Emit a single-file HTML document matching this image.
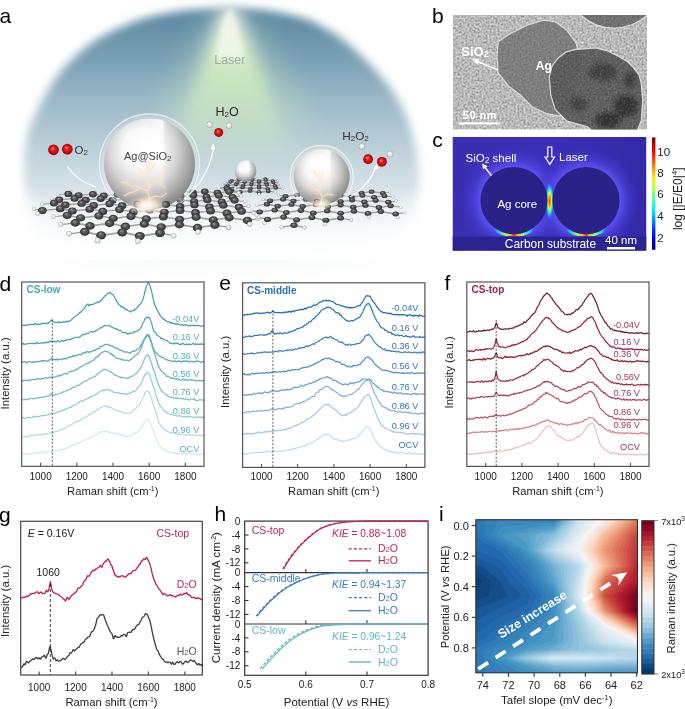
<!DOCTYPE html>
<html><head><meta charset="utf-8"><style>html,body{margin:0;padding:0;background:#fff;overflow:hidden;}svg{display:block;will-change:transform;}text{font-family:"Liberation Sans",sans-serif;}</style></head><body>
<svg width="685" height="709" viewBox="0 0 685 709">
<defs><linearGradient id="domeg" x1="0" y1="0" x2="0" y2="1" gradientUnits="objectBoundingBox"><stop offset="0" stop-color="#4c7f98"/><stop offset="0.026" stop-color="#5b89a1"/><stop offset="0.116" stop-color="#6e96ab"/><stop offset="0.19" stop-color="#7aa0b4"/><stop offset="0.26" stop-color="#8aabbd"/><stop offset="0.33" stop-color="#9ab8c6"/><stop offset="0.405" stop-color="#a9c2ce"/><stop offset="0.51" stop-color="#bdd0d9"/><stop offset="0.62" stop-color="#d0dee4"/><stop offset="0.73" stop-color="#e2eaee"/><stop offset="0.84" stop-color="#f0f4f6"/><stop offset="1" stop-color="#ffffff"/></linearGradient><filter id="domeblur" x="-10%" y="-10%" width="120%" height="120%"><feGaussianBlur stdDeviation="5"/></filter><filter id="laserblur" x="-50%" y="-10%" width="200%" height="120%"><feGaussianBlur stdDeviation="7.5"/></filter><filter id="laserblur2" x="-50%" y="-10%" width="200%" height="120%"><feGaussianBlur stdDeviation="14"/></filter><filter id="sblur" x="-20%" y="-20%" width="140%" height="140%"><feGaussianBlur stdDeviation="1.2"/></filter><filter id="glowblur" x="-50%" y="-50%" width="200%" height="200%"><feGaussianBlur stdDeviation="2.5"/></filter><linearGradient id="laserg" x1="0" y1="0" x2="0" y2="1"><stop offset="0" stop-color="#ffffff" stop-opacity="0.95"/><stop offset="0.12" stop-color="#f2f8e4" stop-opacity="0.95"/><stop offset="0.35" stop-color="#d4efc2" stop-opacity="0.92"/><stop offset="0.7" stop-color="#cfeac2" stop-opacity="0.6"/><stop offset="1" stop-color="#d5eed0" stop-opacity="0"/></linearGradient><radialGradient id="silver" cx="0.45" cy="0.4" r="0.62" fx="0.42" fy="0.3"><stop offset="0" stop-color="#ffffff"/><stop offset="0.35" stop-color="#f8f8f8"/><stop offset="0.62" stop-color="#d4d4d4"/><stop offset="0.82" stop-color="#aaaaaa"/><stop offset="1" stop-color="#828282"/></radialGradient><linearGradient id="silverstreak" x1="0" y1="0" x2="1" y2="0"><stop offset="0" stop-color="#ffffff" stop-opacity="0"/><stop offset="0.4" stop-color="#ffffff" stop-opacity="0.3"/><stop offset="0.64" stop-color="#ffffff" stop-opacity="0.9"/><stop offset="0.7" stop-color="#e0e0e0" stop-opacity="0.15"/><stop offset="0.82" stop-color="#a8a8a8" stop-opacity="0.22"/><stop offset="1" stop-color="#808080" stop-opacity="0.3"/></linearGradient><linearGradient id="streakmask" x1="0" y1="0" x2="0" y2="1"><stop offset="0" stop-color="#fff" stop-opacity="1"/><stop offset="0.55" stop-color="#fff" stop-opacity="0.6"/><stop offset="0.85" stop-color="#fff" stop-opacity="0"/></linearGradient><mask id="smask" maskContentUnits="objectBoundingBox"><rect x="0" y="0" width="1" height="1" fill="url(#streakmask)"/></mask><radialGradient id="shellg" cx="0.5" cy="0.5" r="0.5"><stop offset="0.88" stop-color="#ffffff" stop-opacity="0.0"/><stop offset="0.95" stop-color="#ffffff" stop-opacity="0.35"/><stop offset="1" stop-color="#dfe6ea" stop-opacity="0.6"/></radialGradient><radialGradient id="catom" cx="0.5" cy="0.5" r="0.5" fx="0.4" fy="0.3"><stop offset="0" stop-color="#a2a2a2"/><stop offset="0.35" stop-color="#626262"/><stop offset="0.8" stop-color="#3e3e3e"/><stop offset="1" stop-color="#313131"/></radialGradient><radialGradient id="hatom" cx="0.5" cy="0.5" r="0.5" fx="0.4" fy="0.35"><stop offset="0" stop-color="#ffffff"/><stop offset="0.6" stop-color="#e6e6e6"/><stop offset="1" stop-color="#a8a8a8"/></radialGradient><radialGradient id="oatom" cx="0.5" cy="0.5" r="0.5" fx="0.4" fy="0.35"><stop offset="0" stop-color="#ff9a9a"/><stop offset="0.35" stop-color="#ee2020"/><stop offset="1" stop-color="#a00000"/></radialGradient><radialGradient id="fadeg" cx="0.5" cy="0.5" r="0.5"><stop offset="0" stop-color="#fffaf0" stop-opacity="1"/><stop offset="0.4" stop-color="#fff0d8" stop-opacity="0.8"/><stop offset="1" stop-color="#ffe8c8" stop-opacity="0"/></radialGradient><radialGradient id="domemaskg" gradientUnits="userSpaceOnUse" cx="222" cy="135" r="276" gradientTransform="translate(222 135) scale(1 0.625) translate(-222 -135)"><stop offset="0.74" stop-color="#fff" stop-opacity="1"/><stop offset="0.87" stop-color="#fff" stop-opacity="0.55"/><stop offset="1" stop-color="#fff" stop-opacity="0"/></radialGradient><mask id="domemask" maskUnits="userSpaceOnUse" x="0" y="0" width="450" height="300"><rect x="0" y="0" width="450" height="300" fill="url(#domemaskg)"/></mask><linearGradient id="botfade" x1="0" y1="0" x2="0" y2="1"><stop offset="0" stop-color="#ffffff" stop-opacity="0"/><stop offset="1" stop-color="#ffffff" stop-opacity="1"/></linearGradient></defs>
<g mask="url(#domemask)"><path d="M60.0,262.0 C29.7,254.5 45.2,247.8 40.0,240.0 C34.8,232.2 31.7,224.2 29.0,215.0 C26.3,205.8 24.7,195.8 24.0,185.0 C23.3,174.2 24.2,159.2 25.0,150.0 C25.8,140.8 27.2,136.0 29.0,130.0 C30.8,124.0 32.9,119.8 35.6,114.0 C38.3,108.2 41.5,101.3 45.1,95.0 C48.7,88.7 52.5,82.3 57.4,76.0 C62.3,69.7 67.5,63.3 74.5,57.0 C81.5,50.7 89.8,43.7 99.2,38.0 C108.6,32.3 121.0,26.9 131.0,23.0 C141.0,19.1 149.4,16.7 159.0,14.6 C168.6,12.5 178.6,11.3 188.4,10.2 C198.2,9.1 210.8,8.7 217.6,8.2 C224.4,7.7 224.4,7.3 229.3,7.3 C234.2,7.3 239.0,7.5 246.8,8.2 C254.6,8.9 266.3,10.0 276.0,11.7 C285.7,13.4 297.8,16.3 305.0,18.5 C312.2,20.7 313.5,22.1 319.0,25.0 C324.5,27.9 331.7,31.5 338.0,36.0 C344.3,40.5 350.7,46.2 357.0,52.0 C363.3,57.8 370.3,64.8 376.0,71.0 C381.7,77.2 386.6,82.8 391.0,89.0 C395.4,95.2 399.3,101.7 402.5,108.0 C405.7,114.3 407.8,120.0 410.0,127.0 C412.2,134.0 414.5,142.0 416.0,150.0 C417.5,158.0 418.7,166.7 419.0,175.0 C419.3,183.3 419.2,192.2 418.0,200.0 C416.8,207.8 415.0,215.0 412.0,222.0 C409.0,229.0 404.5,235.3 400.0,242.0 C395.5,248.7 414.7,254.8 385.0,262.0 C355.3,269.2 276.2,285.0 222.0,285.0 C167.8,285.0 90.3,269.5 60.0,262.0Z" fill="url(#domeg)" filter="url(#domeblur)"/></g>
<path d="M229.5,4 L240,8 L300,100 L320,170 L140,170 L165,100 L220,8 Z" fill="url(#laserg)" opacity="0.45" filter="url(#laserblur2)"/>
<path d="M229.5,6 L235,8 L272,100 L290,160 L170,160 L190,100 L224,8 Z" fill="url(#laserg)" filter="url(#laserblur)"/>
<path d="M229.5,8 L233,12 L246,60 L213,60 L226,12 Z" fill="#f4f9ec" fill-opacity="0.7" filter="url(#glowblur)"/>
<rect x="0" y="185" width="440" height="75" fill="url(#botfade)"/>
<text x="214.2" y="63.6" font-size="12.5" fill="#a0aa9e">Laser</text>
<line x1="239.8" y1="178.7" x2="235.6" y2="178.3" stroke="#9c9c9c" stroke-width="0.91"/>
<line x1="239.8" y1="178.7" x2="244.6" y2="178.4" stroke="#9c9c9c" stroke-width="0.91"/>
<line x1="252.6" y1="178.8" x2="248.2" y2="178.4" stroke="#9c9c9c" stroke-width="0.92"/>
<line x1="252.6" y1="178.8" x2="257.2" y2="178.5" stroke="#9c9c9c" stroke-width="0.92"/>
<line x1="265.4" y1="179.0" x2="260.8" y2="178.5" stroke="#9c9c9c" stroke-width="0.92"/>
<line x1="265.4" y1="179.0" x2="269.9" y2="178.6" stroke="#9c9c9c" stroke-width="0.92"/>
<line x1="239.0" y1="180.0" x2="239.8" y2="178.7" stroke="#a0a0a0" stroke-width="1.29"/>
<circle cx="235.6" cy="178.3" r="0.91" fill="url(#hatom)"/>
<line x1="252.3" y1="180.1" x2="252.6" y2="178.8" stroke="#a0a0a0" stroke-width="1.30"/>
<circle cx="244.6" cy="178.4" r="0.91" fill="url(#hatom)"/>
<circle cx="248.2" cy="178.4" r="0.91" fill="url(#hatom)"/>
<line x1="265.7" y1="180.2" x2="265.4" y2="179.0" stroke="#a0a0a0" stroke-width="1.30"/>
<circle cx="257.2" cy="178.5" r="0.91" fill="url(#hatom)"/>
<circle cx="260.8" cy="178.5" r="0.91" fill="url(#hatom)"/>
<circle cx="269.9" cy="178.6" r="0.92" fill="url(#hatom)"/>
<ellipse cx="239.8" cy="178.7" rx="1.98" ry="1.62" fill="url(#catom)"/>
<ellipse cx="252.6" cy="178.8" rx="1.98" ry="1.62" fill="url(#catom)"/>
<ellipse cx="265.4" cy="179.0" rx="1.98" ry="1.63" fill="url(#catom)"/>
<line x1="231.8" y1="180.6" x2="239.0" y2="180.0" stroke="#a0a0a0" stroke-width="1.33"/>
<line x1="239.0" y1="180.0" x2="245.3" y2="180.7" stroke="#a0a0a0" stroke-width="1.33"/>
<line x1="231.8" y1="180.6" x2="227.5" y2="180.1" stroke="#9c9c9c" stroke-width="0.97"/>
<line x1="245.3" y1="180.7" x2="252.3" y2="180.1" stroke="#a0a0a0" stroke-width="1.34"/>
<line x1="252.3" y1="180.1" x2="259.0" y2="180.9" stroke="#a0a0a0" stroke-width="1.34"/>
<line x1="259.0" y1="180.9" x2="265.7" y2="180.2" stroke="#a0a0a0" stroke-width="1.34"/>
<line x1="265.7" y1="180.2" x2="272.8" y2="181.0" stroke="#a0a0a0" stroke-width="1.35"/>
<ellipse cx="239.0" cy="180.0" rx="2.02" ry="1.66" fill="url(#catom)"/>
<line x1="272.8" y1="181.0" x2="277.5" y2="180.5" stroke="#9c9c9c" stroke-width="0.98"/>
<circle cx="227.5" cy="180.1" r="0.96" fill="url(#hatom)"/>
<line x1="230.5" y1="182.1" x2="231.8" y2="180.6" stroke="#a0a0a0" stroke-width="1.38"/>
<ellipse cx="252.3" cy="180.1" rx="2.03" ry="1.66" fill="url(#catom)"/>
<line x1="244.7" y1="182.2" x2="245.3" y2="180.7" stroke="#a0a0a0" stroke-width="1.38"/>
<ellipse cx="265.7" cy="180.2" rx="2.03" ry="1.67" fill="url(#catom)"/>
<line x1="259.0" y1="182.3" x2="259.0" y2="180.9" stroke="#a0a0a0" stroke-width="1.39"/>
<line x1="273.5" y1="182.5" x2="272.8" y2="181.0" stroke="#a0a0a0" stroke-width="1.39"/>
<circle cx="277.5" cy="180.5" r="0.98" fill="url(#hatom)"/>
<ellipse cx="231.8" cy="180.6" rx="2.05" ry="1.68" fill="url(#catom)"/>
<ellipse cx="245.3" cy="180.7" rx="2.05" ry="1.68" fill="url(#catom)"/>
<ellipse cx="259.0" cy="180.9" rx="2.05" ry="1.68" fill="url(#catom)"/>
<ellipse cx="272.8" cy="181.0" rx="2.06" ry="1.69" fill="url(#catom)"/>
<line x1="230.5" y1="182.1" x2="237.1" y2="182.9" stroke="#a0a0a0" stroke-width="1.43"/>
<line x1="230.5" y1="182.1" x2="224.8" y2="182.6" stroke="#9c9c9c" stroke-width="1.02"/>
<line x1="237.1" y1="182.9" x2="244.7" y2="182.2" stroke="#a0a0a0" stroke-width="1.43"/>
<line x1="244.7" y1="182.2" x2="251.7" y2="183.0" stroke="#a0a0a0" stroke-width="1.43"/>
<line x1="251.7" y1="183.0" x2="259.0" y2="182.3" stroke="#a0a0a0" stroke-width="1.44"/>
<line x1="259.0" y1="182.3" x2="266.4" y2="183.2" stroke="#a0a0a0" stroke-width="1.44"/>
<line x1="266.4" y1="183.2" x2="273.5" y2="182.5" stroke="#a0a0a0" stroke-width="1.44"/>
<line x1="273.5" y1="182.5" x2="279.1" y2="183.1" stroke="#9c9c9c" stroke-width="1.03"/>
<ellipse cx="230.5" cy="182.1" rx="2.10" ry="1.72" fill="url(#catom)"/>
<ellipse cx="244.7" cy="182.2" rx="2.10" ry="1.72" fill="url(#catom)"/>
<ellipse cx="259.0" cy="182.3" rx="2.11" ry="1.73" fill="url(#catom)"/>
<line x1="236.0" y1="184.6" x2="237.1" y2="182.9" stroke="#a0a0a0" stroke-width="1.48"/>
<ellipse cx="273.5" cy="182.5" rx="2.11" ry="1.73" fill="url(#catom)"/>
<line x1="251.3" y1="184.7" x2="251.7" y2="183.0" stroke="#a0a0a0" stroke-width="1.49"/>
<circle cx="224.8" cy="182.6" r="1.06" fill="url(#hatom)"/>
<line x1="266.8" y1="184.9" x2="266.4" y2="183.2" stroke="#a0a0a0" stroke-width="1.49"/>
<ellipse cx="237.1" cy="182.9" rx="2.13" ry="1.74" fill="url(#catom)"/>
<ellipse cx="251.7" cy="183.0" rx="2.13" ry="1.75" fill="url(#catom)"/>
<circle cx="279.1" cy="183.1" r="1.07" fill="url(#hatom)"/>
<ellipse cx="266.4" cy="183.2" rx="2.14" ry="1.75" fill="url(#catom)"/>
<line x1="227.6" y1="185.4" x2="236.0" y2="184.6" stroke="#a0a0a0" stroke-width="1.54"/>
<line x1="236.0" y1="184.6" x2="243.3" y2="185.5" stroke="#a0a0a0" stroke-width="1.54"/>
<line x1="227.6" y1="185.4" x2="222.7" y2="184.7" stroke="#9c9c9c" stroke-width="1.12"/>
<line x1="243.3" y1="185.5" x2="251.3" y2="184.7" stroke="#a0a0a0" stroke-width="1.54"/>
<line x1="251.3" y1="184.7" x2="259.1" y2="185.7" stroke="#a0a0a0" stroke-width="1.55"/>
<line x1="259.1" y1="185.7" x2="266.8" y2="184.9" stroke="#a0a0a0" stroke-width="1.55"/>
<line x1="266.8" y1="184.9" x2="275.0" y2="185.9" stroke="#a0a0a0" stroke-width="1.55"/>
<ellipse cx="236.0" cy="184.6" rx="2.19" ry="1.79" fill="url(#catom)"/>
<circle cx="222.7" cy="184.7" r="1.11" fill="url(#hatom)"/>
<ellipse cx="251.3" cy="184.7" rx="2.19" ry="1.80" fill="url(#catom)"/>
<line x1="275.0" y1="185.9" x2="280.3" y2="185.3" stroke="#9c9c9c" stroke-width="1.14"/>
<ellipse cx="266.8" cy="184.9" rx="2.20" ry="1.80" fill="url(#catom)"/>
<line x1="225.9" y1="187.3" x2="227.6" y2="185.4" stroke="#a0a0a0" stroke-width="1.60"/>
<line x1="242.4" y1="187.5" x2="243.3" y2="185.5" stroke="#a0a0a0" stroke-width="1.60"/>
<line x1="259.1" y1="187.7" x2="259.1" y2="185.7" stroke="#a0a0a0" stroke-width="1.61"/>
<circle cx="280.3" cy="185.3" r="1.13" fill="url(#hatom)"/>
<line x1="275.9" y1="187.8" x2="275.0" y2="185.9" stroke="#a0a0a0" stroke-width="1.62"/>
<ellipse cx="227.6" cy="185.4" rx="2.21" ry="1.82" fill="url(#catom)"/>
<ellipse cx="243.3" cy="185.5" rx="2.22" ry="1.82" fill="url(#catom)"/>
<ellipse cx="259.1" cy="185.7" rx="2.23" ry="1.82" fill="url(#catom)"/>
<ellipse cx="275.0" cy="185.9" rx="2.23" ry="1.83" fill="url(#catom)"/>
<line x1="225.9" y1="187.3" x2="233.4" y2="188.4" stroke="#a0a0a0" stroke-width="1.66"/>
<line x1="225.9" y1="187.3" x2="219.2" y2="188.0" stroke="#9c9c9c" stroke-width="1.18"/>
<line x1="233.4" y1="188.4" x2="242.4" y2="187.5" stroke="#a0a0a0" stroke-width="1.67"/>
<line x1="242.4" y1="187.5" x2="250.5" y2="188.6" stroke="#a0a0a0" stroke-width="1.67"/>
<line x1="250.5" y1="188.6" x2="259.1" y2="187.7" stroke="#a0a0a0" stroke-width="1.68"/>
<line x1="259.1" y1="187.7" x2="267.7" y2="188.8" stroke="#a0a0a0" stroke-width="1.68"/>
<ellipse cx="225.9" cy="187.3" rx="2.28" ry="1.87" fill="url(#catom)"/>
<line x1="267.7" y1="188.8" x2="275.9" y2="187.8" stroke="#a0a0a0" stroke-width="1.68"/>
<line x1="275.9" y1="187.8" x2="282.5" y2="188.7" stroke="#9c9c9c" stroke-width="1.20"/>
<ellipse cx="242.4" cy="187.5" rx="2.29" ry="1.87" fill="url(#catom)"/>
<ellipse cx="259.1" cy="187.7" rx="2.29" ry="1.88" fill="url(#catom)"/>
<ellipse cx="275.9" cy="187.8" rx="2.30" ry="1.88" fill="url(#catom)"/>
<line x1="231.9" y1="190.7" x2="233.4" y2="188.4" stroke="#a0a0a0" stroke-width="1.74"/>
<circle cx="219.2" cy="188.0" r="1.23" fill="url(#hatom)"/>
<line x1="250.0" y1="190.9" x2="250.5" y2="188.6" stroke="#a0a0a0" stroke-width="1.75"/>
<line x1="268.3" y1="191.2" x2="267.7" y2="188.8" stroke="#a0a0a0" stroke-width="1.76"/>
<ellipse cx="233.4" cy="188.4" rx="2.32" ry="1.90" fill="url(#catom)"/>
<ellipse cx="250.5" cy="188.6" rx="2.32" ry="1.91" fill="url(#catom)"/>
<circle cx="282.5" cy="188.7" r="1.26" fill="url(#hatom)"/>
<ellipse cx="267.7" cy="188.8" rx="2.33" ry="1.91" fill="url(#catom)"/>
<line x1="231.9" y1="190.7" x2="240.4" y2="192.1" stroke="#a0a0a0" stroke-width="1.82"/>
<line x1="231.9" y1="190.7" x2="224.7" y2="191.6" stroke="#9c9c9c" stroke-width="1.29"/>
<line x1="240.4" y1="192.1" x2="250.0" y2="190.9" stroke="#a0a0a0" stroke-width="1.82"/>
<line x1="250.0" y1="190.9" x2="259.1" y2="192.3" stroke="#a0a0a0" stroke-width="1.83"/>
<line x1="259.1" y1="192.3" x2="268.3" y2="191.2" stroke="#a0a0a0" stroke-width="1.83"/>
<line x1="268.3" y1="191.2" x2="275.3" y2="192.2" stroke="#9c9c9c" stroke-width="1.31"/>
<ellipse cx="231.9" cy="190.7" rx="2.39" ry="1.96" fill="url(#catom)"/>
<ellipse cx="250.0" cy="190.9" rx="2.40" ry="1.97" fill="url(#catom)"/>
<ellipse cx="268.3" cy="191.2" rx="2.41" ry="1.97" fill="url(#catom)"/>
<circle cx="224.7" cy="191.6" r="1.35" fill="url(#hatom)"/>
<line x1="240.4" y1="192.1" x2="239.5" y2="194.1" stroke="#9c9c9c" stroke-width="1.34"/>
<line x1="259.1" y1="192.3" x2="259.1" y2="194.3" stroke="#9c9c9c" stroke-width="1.34"/>
<ellipse cx="240.4" cy="192.1" rx="2.44" ry="2.00" fill="url(#catom)"/>
<circle cx="275.3" cy="192.2" r="1.37" fill="url(#hatom)"/>
<ellipse cx="259.1" cy="192.3" rx="2.44" ry="2.00" fill="url(#catom)"/>
<circle cx="239.5" cy="194.1" r="1.45" fill="url(#hatom)"/>
<circle cx="259.1" cy="194.3" r="1.45" fill="url(#hatom)"/>
<line x1="371.6" y1="191.7" x2="370.7" y2="189.9" stroke="#9c9c9c" stroke-width="0.86"/>
<circle cx="370.7" cy="189.9" r="1.26" fill="url(#hatom)"/>
<line x1="319.7" y1="192.4" x2="312.6" y2="191.4" stroke="#9c9c9c" stroke-width="0.87"/>
<line x1="319.7" y1="192.4" x2="327.3" y2="191.6" stroke="#9c9c9c" stroke-width="0.87"/>
<line x1="340.6" y1="192.7" x2="333.2" y2="191.6" stroke="#9c9c9c" stroke-width="0.87"/>
<line x1="361.6" y1="192.9" x2="371.6" y2="191.7" stroke="#a0a0a0" stroke-width="1.20"/>
<line x1="371.6" y1="191.7" x2="382.8" y2="193.1" stroke="#a0a0a0" stroke-width="1.20"/>
<line x1="340.6" y1="192.7" x2="348.0" y2="191.8" stroke="#9c9c9c" stroke-width="0.87"/>
<line x1="361.6" y1="192.9" x2="353.9" y2="191.9" stroke="#9c9c9c" stroke-width="0.88"/>
<circle cx="312.6" cy="191.4" r="1.30" fill="url(#hatom)"/>
<circle cx="327.3" cy="191.6" r="1.30" fill="url(#hatom)"/>
<circle cx="333.2" cy="191.6" r="1.30" fill="url(#hatom)"/>
<ellipse cx="371.6" cy="191.7" rx="2.87" ry="2.15" fill="url(#catom)"/>
<line x1="382.8" y1="193.1" x2="389.7" y2="192.3" stroke="#9c9c9c" stroke-width="0.88"/>
<circle cx="348.0" cy="191.8" r="1.31" fill="url(#hatom)"/>
<circle cx="353.9" cy="191.9" r="1.31" fill="url(#hatom)"/>
<line x1="318.9" y1="195.1" x2="319.7" y2="192.4" stroke="#a0a0a0" stroke-width="1.23"/>
<line x1="340.6" y1="195.4" x2="340.6" y2="192.7" stroke="#a0a0a0" stroke-width="1.23"/>
<circle cx="389.7" cy="192.3" r="1.31" fill="url(#hatom)"/>
<line x1="362.5" y1="195.6" x2="361.6" y2="192.9" stroke="#a0a0a0" stroke-width="1.24"/>
<ellipse cx="319.7" cy="192.4" rx="2.89" ry="2.16" fill="url(#catom)"/>
<line x1="297.3" y1="194.9" x2="298.5" y2="193.0" stroke="#9c9c9c" stroke-width="0.90"/>
<line x1="384.5" y1="195.9" x2="382.8" y2="193.1" stroke="#a0a0a0" stroke-width="1.24"/>
<ellipse cx="340.6" cy="192.7" rx="2.89" ry="2.17" fill="url(#catom)"/>
<ellipse cx="361.6" cy="192.9" rx="2.90" ry="2.17" fill="url(#catom)"/>
<circle cx="298.5" cy="193.0" r="1.32" fill="url(#hatom)"/>
<ellipse cx="382.8" cy="193.1" rx="2.90" ry="2.18" fill="url(#catom)"/>
<line x1="285.5" y1="196.2" x2="297.3" y2="194.9" stroke="#a0a0a0" stroke-width="1.26"/>
<line x1="297.3" y1="194.9" x2="307.4" y2="196.5" stroke="#a0a0a0" stroke-width="1.26"/>
<line x1="285.5" y1="196.2" x2="278.6" y2="195.1" stroke="#9c9c9c" stroke-width="0.92"/>
<line x1="307.4" y1="196.5" x2="318.9" y2="195.1" stroke="#a0a0a0" stroke-width="1.26"/>
<line x1="318.9" y1="195.1" x2="329.5" y2="196.7" stroke="#a0a0a0" stroke-width="1.27"/>
<line x1="329.5" y1="196.7" x2="340.6" y2="195.4" stroke="#a0a0a0" stroke-width="1.27"/>
<line x1="340.6" y1="195.4" x2="351.7" y2="197.0" stroke="#a0a0a0" stroke-width="1.27"/>
<ellipse cx="297.3" cy="194.9" rx="2.94" ry="2.21" fill="url(#catom)"/>
<circle cx="278.6" cy="195.1" r="1.37" fill="url(#hatom)"/>
<line x1="351.7" y1="197.0" x2="362.5" y2="195.6" stroke="#a0a0a0" stroke-width="1.27"/>
<line x1="362.5" y1="195.6" x2="374.1" y2="197.2" stroke="#a0a0a0" stroke-width="1.28"/>
<ellipse cx="318.9" cy="195.1" rx="2.95" ry="2.21" fill="url(#catom)"/>
<line x1="374.1" y1="197.2" x2="384.5" y2="195.9" stroke="#a0a0a0" stroke-width="1.28"/>
<line x1="384.5" y1="195.9" x2="393.3" y2="197.0" stroke="#9c9c9c" stroke-width="0.91"/>
<ellipse cx="340.6" cy="195.4" rx="2.95" ry="2.22" fill="url(#catom)"/>
<ellipse cx="362.5" cy="195.6" rx="2.96" ry="2.22" fill="url(#catom)"/>
<line x1="283.1" y1="199.2" x2="285.5" y2="196.2" stroke="#a0a0a0" stroke-width="1.30"/>
<ellipse cx="384.5" cy="195.9" rx="2.97" ry="2.22" fill="url(#catom)"/>
<line x1="306.0" y1="199.5" x2="307.4" y2="196.5" stroke="#a0a0a0" stroke-width="1.30"/>
<line x1="329.0" y1="199.8" x2="329.5" y2="196.7" stroke="#a0a0a0" stroke-width="1.31"/>
<ellipse cx="285.5" cy="196.2" rx="2.97" ry="2.23" fill="url(#catom)"/>
<ellipse cx="307.4" cy="196.5" rx="2.98" ry="2.23" fill="url(#catom)"/>
<line x1="352.2" y1="200.1" x2="351.7" y2="197.0" stroke="#a0a0a0" stroke-width="1.31"/>
<ellipse cx="329.5" cy="196.7" rx="2.99" ry="2.24" fill="url(#catom)"/>
<line x1="375.6" y1="200.4" x2="374.1" y2="197.2" stroke="#a0a0a0" stroke-width="1.32"/>
<ellipse cx="351.7" cy="197.0" rx="2.99" ry="2.24" fill="url(#catom)"/>
<circle cx="393.3" cy="197.0" r="1.42" fill="url(#hatom)"/>
<ellipse cx="374.1" cy="197.2" rx="3.00" ry="2.25" fill="url(#catom)"/>
<line x1="270.2" y1="200.7" x2="283.1" y2="199.2" stroke="#a0a0a0" stroke-width="1.34"/>
<line x1="283.1" y1="199.2" x2="293.5" y2="201.0" stroke="#a0a0a0" stroke-width="1.34"/>
<line x1="270.2" y1="200.7" x2="263.2" y2="199.5" stroke="#9c9c9c" stroke-width="0.98"/>
<line x1="293.5" y1="201.0" x2="306.0" y2="199.5" stroke="#a0a0a0" stroke-width="1.34"/>
<line x1="306.0" y1="199.5" x2="317.0" y2="201.3" stroke="#a0a0a0" stroke-width="1.35"/>
<ellipse cx="283.1" cy="199.2" rx="3.04" ry="2.28" fill="url(#catom)"/>
<line x1="317.0" y1="201.3" x2="329.0" y2="199.8" stroke="#a0a0a0" stroke-width="1.35"/>
<line x1="329.0" y1="199.8" x2="340.6" y2="201.6" stroke="#a0a0a0" stroke-width="1.35"/>
<circle cx="263.2" cy="199.5" r="1.45" fill="url(#hatom)"/>
<ellipse cx="306.0" cy="199.5" rx="3.05" ry="2.29" fill="url(#catom)"/>
<line x1="340.6" y1="201.6" x2="352.2" y2="200.1" stroke="#a0a0a0" stroke-width="1.35"/>
<line x1="352.2" y1="200.1" x2="364.4" y2="201.9" stroke="#a0a0a0" stroke-width="1.36"/>
<ellipse cx="329.0" cy="199.8" rx="3.06" ry="2.29" fill="url(#catom)"/>
<line x1="364.4" y1="201.9" x2="375.6" y2="200.4" stroke="#a0a0a0" stroke-width="1.36"/>
<line x1="375.6" y1="200.4" x2="388.4" y2="202.2" stroke="#a0a0a0" stroke-width="1.36"/>
<line x1="227.5" y1="189.3" x2="218.7" y2="188.3" stroke="#9c9c9c" stroke-width="0.80"/>
<line x1="227.5" y1="189.3" x2="235.3" y2="188.5" stroke="#9c9c9c" stroke-width="0.80"/>
<circle cx="218.7" cy="188.3" r="1.62" fill="url(#hatom)"/>
<circle cx="235.3" cy="188.5" r="1.63" fill="url(#hatom)"/>
<line x1="156.8" y1="190.9" x2="157.4" y2="189.2" stroke="#9c9c9c" stroke-width="0.82"/>
<line x1="229.1" y1="191.7" x2="227.5" y2="189.3" stroke="#a0a0a0" stroke-width="1.12"/>
<line x1="180.7" y1="191.2" x2="180.8" y2="189.4" stroke="#9c9c9c" stroke-width="0.82"/>
<line x1="204.8" y1="191.5" x2="204.3" y2="189.7" stroke="#9c9c9c" stroke-width="0.82"/>
<circle cx="157.4" cy="189.2" r="1.63" fill="url(#hatom)"/>
<ellipse cx="227.5" cy="189.3" rx="3.74" ry="3.07" fill="url(#catom)"/>
<circle cx="180.8" cy="189.4" r="1.64" fill="url(#hatom)"/>
<circle cx="204.3" cy="189.7" r="1.64" fill="url(#hatom)"/>
<line x1="144.2" y1="192.1" x2="156.8" y2="190.9" stroke="#a0a0a0" stroke-width="1.14"/>
<line x1="156.8" y1="190.9" x2="168.4" y2="192.3" stroke="#a0a0a0" stroke-width="1.14"/>
<line x1="144.2" y1="192.1" x2="136.1" y2="191.1" stroke="#9c9c9c" stroke-width="0.83"/>
<line x1="168.4" y1="192.3" x2="180.7" y2="191.2" stroke="#a0a0a0" stroke-width="1.14"/>
<line x1="180.7" y1="191.2" x2="192.9" y2="192.6" stroke="#a0a0a0" stroke-width="1.14"/>
<ellipse cx="156.8" cy="190.9" rx="3.79" ry="3.11" fill="url(#catom)"/>
<line x1="192.9" y1="192.6" x2="204.8" y2="191.5" stroke="#a0a0a0" stroke-width="1.15"/>
<line x1="204.8" y1="191.5" x2="217.5" y2="192.9" stroke="#a0a0a0" stroke-width="1.15"/>
<circle cx="136.1" cy="191.1" r="1.68" fill="url(#hatom)"/>
<ellipse cx="180.7" cy="191.2" rx="3.80" ry="3.12" fill="url(#catom)"/>
<line x1="217.5" y1="192.9" x2="229.1" y2="191.7" stroke="#a0a0a0" stroke-width="1.15"/>
<line x1="229.1" y1="191.7" x2="238.7" y2="192.8" stroke="#9c9c9c" stroke-width="0.82"/>
<ellipse cx="204.8" cy="191.5" rx="3.81" ry="3.12" fill="url(#catom)"/>
<line x1="68.3" y1="193.9" x2="71.3" y2="192.0" stroke="#9c9c9c" stroke-width="0.85"/>
<line x1="142.7" y1="194.8" x2="144.2" y2="192.1" stroke="#a0a0a0" stroke-width="1.17"/>
<ellipse cx="229.1" cy="191.7" rx="3.81" ry="3.13" fill="url(#catom)"/>
<line x1="92.9" y1="194.2" x2="95.2" y2="192.3" stroke="#9c9c9c" stroke-width="0.85"/>
<line x1="167.9" y1="195.1" x2="168.4" y2="192.3" stroke="#a0a0a0" stroke-width="1.17"/>
<circle cx="71.3" cy="192.0" r="1.70" fill="url(#hatom)"/>
<line x1="117.7" y1="194.5" x2="119.4" y2="192.6" stroke="#9c9c9c" stroke-width="0.86"/>
<ellipse cx="144.2" cy="192.1" rx="3.82" ry="3.14" fill="url(#catom)"/>
<line x1="193.3" y1="195.3" x2="192.9" y2="192.6" stroke="#a0a0a0" stroke-width="1.18"/>
<circle cx="95.2" cy="192.3" r="1.71" fill="url(#hatom)"/>
<ellipse cx="168.4" cy="192.3" rx="3.83" ry="3.14" fill="url(#catom)"/>
<line x1="218.8" y1="195.6" x2="217.5" y2="192.9" stroke="#a0a0a0" stroke-width="1.18"/>
<circle cx="119.4" cy="192.6" r="1.71" fill="url(#hatom)"/>
<ellipse cx="192.9" cy="192.6" rx="3.84" ry="3.15" fill="url(#catom)"/>
<circle cx="238.7" cy="192.8" r="1.74" fill="url(#hatom)"/>
<ellipse cx="217.5" cy="192.9" rx="3.85" ry="3.16" fill="url(#catom)"/>
<line x1="68.3" y1="193.9" x2="78.7" y2="195.4" stroke="#a0a0a0" stroke-width="1.19"/>
<line x1="68.3" y1="193.9" x2="57.8" y2="194.8" stroke="#9c9c9c" stroke-width="0.85"/>
<line x1="78.7" y1="195.4" x2="92.9" y2="194.2" stroke="#a0a0a0" stroke-width="1.19"/>
<line x1="92.9" y1="194.2" x2="103.8" y2="195.7" stroke="#a0a0a0" stroke-width="1.19"/>
<ellipse cx="68.3" cy="193.9" rx="3.88" ry="3.18" fill="url(#catom)"/>
<line x1="103.8" y1="195.7" x2="117.7" y2="194.5" stroke="#a0a0a0" stroke-width="1.20"/>
<line x1="117.7" y1="194.5" x2="129.2" y2="196.0" stroke="#a0a0a0" stroke-width="1.20"/>
<ellipse cx="92.9" cy="194.2" rx="3.89" ry="3.19" fill="url(#catom)"/>
<line x1="129.2" y1="196.0" x2="142.7" y2="194.8" stroke="#a0a0a0" stroke-width="1.20"/>
<line x1="142.7" y1="194.8" x2="154.7" y2="196.3" stroke="#a0a0a0" stroke-width="1.20"/>
<ellipse cx="117.7" cy="194.5" rx="3.89" ry="3.19" fill="url(#catom)"/>
<line x1="154.7" y1="196.3" x2="167.9" y2="195.1" stroke="#a0a0a0" stroke-width="1.20"/>
<line x1="167.9" y1="195.1" x2="180.5" y2="196.6" stroke="#a0a0a0" stroke-width="1.21"/>
<ellipse cx="142.7" cy="194.8" rx="3.90" ry="3.20" fill="url(#catom)"/>
<circle cx="57.8" cy="194.8" r="1.79" fill="url(#hatom)"/>
<line x1="180.5" y1="196.6" x2="193.3" y2="195.3" stroke="#a0a0a0" stroke-width="1.21"/>
<line x1="193.3" y1="195.3" x2="206.4" y2="196.9" stroke="#a0a0a0" stroke-width="1.21"/>
<line x1="74.6" y1="198.4" x2="78.7" y2="195.4" stroke="#a0a0a0" stroke-width="1.22"/>
<ellipse cx="167.9" cy="195.1" rx="3.91" ry="3.21" fill="url(#catom)"/>
<line x1="206.4" y1="196.9" x2="218.8" y2="195.6" stroke="#a0a0a0" stroke-width="1.21"/>
<line x1="218.8" y1="195.6" x2="232.6" y2="197.2" stroke="#a0a0a0" stroke-width="1.22"/>
<line x1="100.7" y1="198.7" x2="103.8" y2="195.7" stroke="#a0a0a0" stroke-width="1.23"/>
<ellipse cx="193.3" cy="195.3" rx="3.92" ry="3.21" fill="url(#catom)"/>
<ellipse cx="78.7" cy="195.4" rx="3.92" ry="3.22" fill="url(#catom)"/>
<line x1="127.0" y1="199.0" x2="129.2" y2="196.0" stroke="#a0a0a0" stroke-width="1.23"/>
<ellipse cx="218.8" cy="195.6" rx="3.93" ry="3.22" fill="url(#catom)"/>
<ellipse cx="103.8" cy="195.7" rx="3.93" ry="3.22" fill="url(#catom)"/>
<line x1="232.6" y1="197.2" x2="241.2" y2="196.3" stroke="#9c9c9c" stroke-width="0.89"/>
<line x1="153.6" y1="199.3" x2="154.7" y2="196.3" stroke="#a0a0a0" stroke-width="1.24"/>
<ellipse cx="129.2" cy="196.0" rx="3.94" ry="3.23" fill="url(#catom)"/>
<line x1="180.4" y1="199.7" x2="180.5" y2="196.6" stroke="#a0a0a0" stroke-width="1.24"/>
<circle cx="241.2" cy="196.3" r="1.81" fill="url(#hatom)"/>
<ellipse cx="154.7" cy="196.3" rx="3.95" ry="3.24" fill="url(#catom)"/>
<line x1="207.4" y1="200.0" x2="206.4" y2="196.9" stroke="#a0a0a0" stroke-width="1.25"/>
<ellipse cx="180.5" cy="196.6" rx="3.96" ry="3.24" fill="url(#catom)"/>
<line x1="234.6" y1="200.3" x2="232.6" y2="197.2" stroke="#a0a0a0" stroke-width="1.25"/>
<ellipse cx="206.4" cy="196.9" rx="3.96" ry="3.25" fill="url(#catom)"/>
<ellipse cx="232.6" cy="197.2" rx="3.97" ry="3.26" fill="url(#catom)"/>
<line x1="59.2" y1="199.8" x2="74.6" y2="198.4" stroke="#a0a0a0" stroke-width="1.26"/>
<line x1="74.6" y1="198.4" x2="85.7" y2="200.1" stroke="#a0a0a0" stroke-width="1.26"/>
<line x1="59.2" y1="199.8" x2="51.6" y2="198.5" stroke="#9c9c9c" stroke-width="0.92"/>
<line x1="85.7" y1="200.1" x2="100.7" y2="198.7" stroke="#a0a0a0" stroke-width="1.26"/>
<line x1="100.7" y1="198.7" x2="112.5" y2="200.4" stroke="#a0a0a0" stroke-width="1.27"/>
<ellipse cx="74.6" cy="198.4" rx="4.01" ry="3.28" fill="url(#catom)"/>
<line x1="112.5" y1="200.4" x2="127.0" y2="199.0" stroke="#a0a0a0" stroke-width="1.27"/>
<line x1="127.0" y1="199.0" x2="139.4" y2="200.8" stroke="#a0a0a0" stroke-width="1.27"/>
<circle cx="51.6" cy="198.5" r="1.86" fill="url(#hatom)"/>
<ellipse cx="100.7" cy="198.7" rx="4.01" ry="3.29" fill="url(#catom)"/>
<line x1="139.4" y1="200.8" x2="153.6" y2="199.3" stroke="#a0a0a0" stroke-width="1.27"/>
<line x1="153.6" y1="199.3" x2="166.6" y2="201.1" stroke="#a0a0a0" stroke-width="1.28"/>
<ellipse cx="127.0" cy="199.0" rx="4.02" ry="3.30" fill="url(#catom)"/>
<line x1="166.6" y1="201.1" x2="180.4" y2="199.7" stroke="#a0a0a0" stroke-width="1.28"/>
<line x1="180.4" y1="199.7" x2="194.1" y2="201.5" stroke="#a0a0a0" stroke-width="1.28"/>
<line x1="54.0" y1="203.1" x2="59.2" y2="199.8" stroke="#a0a0a0" stroke-width="1.30"/>
<ellipse cx="153.6" cy="199.3" rx="4.03" ry="3.31" fill="url(#catom)"/>
<line x1="194.1" y1="201.5" x2="207.4" y2="200.0" stroke="#a0a0a0" stroke-width="1.28"/>
<line x1="207.4" y1="200.0" x2="221.7" y2="201.8" stroke="#a0a0a0" stroke-width="1.29"/>
<line x1="81.6" y1="203.4" x2="85.7" y2="200.1" stroke="#a0a0a0" stroke-width="1.30"/>
<ellipse cx="180.4" cy="199.7" rx="4.04" ry="3.31" fill="url(#catom)"/>
<ellipse cx="59.2" cy="199.8" rx="4.04" ry="3.32" fill="url(#catom)"/>
<line x1="221.7" y1="201.8" x2="234.6" y2="200.3" stroke="#a0a0a0" stroke-width="1.29"/>
<line x1="234.6" y1="200.3" x2="245.4" y2="201.6" stroke="#9c9c9c" stroke-width="0.92"/>
<line x1="109.5" y1="203.8" x2="112.5" y2="200.4" stroke="#a0a0a0" stroke-width="1.31"/>
<ellipse cx="207.4" cy="200.0" rx="4.05" ry="3.32" fill="url(#catom)"/>
<ellipse cx="85.7" cy="200.1" rx="4.05" ry="3.32" fill="url(#catom)"/>
<line x1="137.6" y1="204.2" x2="139.4" y2="200.8" stroke="#a0a0a0" stroke-width="1.31"/>
<ellipse cx="234.6" cy="200.3" rx="4.06" ry="3.33" fill="url(#catom)"/>
<ellipse cx="112.5" cy="200.4" rx="4.06" ry="3.33" fill="url(#catom)"/>
<line x1="165.9" y1="204.5" x2="166.6" y2="201.1" stroke="#a0a0a0" stroke-width="1.32"/>
<ellipse cx="139.4" cy="200.8" rx="4.07" ry="3.34" fill="url(#catom)"/>
<line x1="194.5" y1="204.9" x2="194.1" y2="201.5" stroke="#a0a0a0" stroke-width="1.32"/>
<ellipse cx="166.6" cy="201.1" rx="4.08" ry="3.35" fill="url(#catom)"/>
<line x1="223.3" y1="205.3" x2="221.7" y2="201.8" stroke="#a0a0a0" stroke-width="1.33"/>
<ellipse cx="194.1" cy="201.5" rx="4.09" ry="3.35" fill="url(#catom)"/>
<circle cx="245.4" cy="201.6" r="1.96" fill="url(#hatom)"/>
<ellipse cx="221.7" cy="201.8" rx="4.10" ry="3.36" fill="url(#catom)"/>
<line x1="54.0" y1="203.1" x2="65.4" y2="205.0" stroke="#a0a0a0" stroke-width="1.34"/>
<line x1="54.0" y1="203.1" x2="42.0" y2="204.2" stroke="#9c9c9c" stroke-width="0.96"/>
<line x1="65.4" y1="205.0" x2="81.6" y2="203.4" stroke="#a0a0a0" stroke-width="1.34"/>
<line x1="81.6" y1="203.4" x2="93.7" y2="205.4" stroke="#a0a0a0" stroke-width="1.34"/>
<circle cx="149.5" cy="164.0" r="50.0" fill="#ffffff" fill-opacity="0.22" stroke="#ffffff" stroke-opacity="0.6" stroke-width="1.3"/>
<circle cx="149.5" cy="164.0" r="48.8" fill="none" stroke="#b9c8cf" stroke-opacity="0.45" stroke-width="1"/>
<circle cx="149.5" cy="164.0" r="45.5" fill="url(#silver)"/>
<circle cx="149.5" cy="164.0" r="45.5" fill="url(#silverstreak)" mask="url(#smask)"/>
<path d="M148.0,206.0 L149.5,198.0 L147.5,191.0 L149.6,186.0 L146.4,178.0 L148.5,171.0 L147.0,166.0 L150.4,160.0 M147.5,191.0 L142.0,189.0 L137.0,186.5 L131.0,186.0 L126.0,183.0 L120.7,181.9 M140.0,188.0 L135.0,191.5 L129.0,193.0 L124.0,196.0 M149.6,186.0 L153.0,183.5 L158.0,180.0 L162.5,175.4 L166.0,170.0 M158.0,180.0 L161.0,185.0 L165.7,188.3 M146.4,178.0 L142.0,173.0 L139.0,168.0 M148.5,171.0 L153.0,167.0 L155.0,163.0 M149.5,198.0 L156.0,196.0 L161.0,197.0 L167.0,193.0" fill="none" stroke="#ffe2c2" stroke-width="3" stroke-opacity="0.6" filter="url(#glowblur)"/>
<path d="M148.0,206.0 L149.5,198.0 L147.5,191.0 L149.6,186.0 L146.4,178.0 L148.5,171.0 L147.0,166.0 L150.4,160.0 M147.5,191.0 L142.0,189.0 L137.0,186.5 L131.0,186.0 L126.0,183.0 L120.7,181.9 M140.0,188.0 L135.0,191.5 L129.0,193.0 L124.0,196.0 M149.6,186.0 L153.0,183.5 L158.0,180.0 L162.5,175.4 L166.0,170.0 M158.0,180.0 L161.0,185.0 L165.7,188.3 M146.4,178.0 L142.0,173.0 L139.0,168.0 M148.5,171.0 L153.0,167.0 L155.0,163.0 M149.5,198.0 L156.0,196.0 L161.0,197.0 L167.0,193.0" fill="none" stroke="#fbe6cf" stroke-width="0.9" stroke-linejoin="round"/>
<circle cx="245.6" cy="171.0" r="10.8" fill="url(#silver)"/>
<circle cx="245.6" cy="171.0" r="10.8" fill="url(#silverstreak)" mask="url(#smask)"/>
<circle cx="321.7" cy="177.0" r="31.5" fill="#ffffff" fill-opacity="0.22" stroke="#ffffff" stroke-opacity="0.6" stroke-width="1.3"/>
<circle cx="321.7" cy="177.0" r="30.3" fill="none" stroke="#b9c8cf" stroke-opacity="0.45" stroke-width="1"/>
<circle cx="321.7" cy="177.0" r="28.0" fill="url(#silver)"/>
<circle cx="321.7" cy="177.0" r="28.0" fill="url(#silverstreak)" mask="url(#smask)"/>
<path d="M321.0,204.0 L322.0,197.0 L319.5,191.0 L322.0,185.0 L320.0,179.0 L323.0,172.0 M319.5,191.0 L314.0,189.0 L310.0,185.0 L306.0,184.0 M322.0,185.0 L327.0,182.0 L330.0,177.0 L334.0,175.0 M322.0,197.0 L328.0,194.0 L333.0,195.0 M320.0,179.0 L316.0,175.0 L314.0,170.0" fill="none" stroke="#ffe2c2" stroke-width="3" stroke-opacity="0.6" filter="url(#glowblur)"/>
<path d="M321.0,204.0 L322.0,197.0 L319.5,191.0 L322.0,185.0 L320.0,179.0 L323.0,172.0 M319.5,191.0 L314.0,189.0 L310.0,185.0 L306.0,184.0 M322.0,185.0 L327.0,182.0 L330.0,177.0 L334.0,175.0 M322.0,197.0 L328.0,194.0 L333.0,195.0 M320.0,179.0 L316.0,175.0 L314.0,170.0" fill="none" stroke="#fbe6cf" stroke-width="0.9" stroke-linejoin="round"/>
<ellipse cx="54.0" cy="203.1" rx="4.14" ry="3.39" fill="url(#catom)"/>
<line x1="93.7" y1="205.4" x2="109.5" y2="203.8" stroke="#a0a0a0" stroke-width="1.35"/>
<line x1="109.5" y1="203.8" x2="122.2" y2="205.8" stroke="#a0a0a0" stroke-width="1.35"/>
<ellipse cx="81.6" cy="203.4" rx="4.15" ry="3.40" fill="url(#catom)"/>
<line x1="122.2" y1="205.8" x2="137.6" y2="204.2" stroke="#a0a0a0" stroke-width="1.35"/>
<line x1="137.6" y1="204.2" x2="151.0" y2="206.2" stroke="#a0a0a0" stroke-width="1.36"/>
<ellipse cx="109.5" cy="203.8" rx="4.16" ry="3.41" fill="url(#catom)"/>
<line x1="151.0" y1="206.2" x2="165.9" y2="204.5" stroke="#a0a0a0" stroke-width="1.36"/>
<line x1="165.9" y1="204.5" x2="180.1" y2="206.5" stroke="#a0a0a0" stroke-width="1.36"/>
<ellipse cx="137.6" cy="204.2" rx="4.17" ry="3.42" fill="url(#catom)"/>
<circle cx="42.0" cy="204.2" r="2.02" fill="url(#hatom)"/>
<line x1="180.1" y1="206.5" x2="194.5" y2="204.9" stroke="#a0a0a0" stroke-width="1.36"/>
<line x1="194.5" y1="204.9" x2="209.4" y2="206.9" stroke="#a0a0a0" stroke-width="1.37"/>
<line x1="60.2" y1="208.8" x2="65.4" y2="205.0" stroke="#a0a0a0" stroke-width="1.38"/>
<ellipse cx="165.9" cy="204.5" rx="4.18" ry="3.42" fill="url(#catom)"/>
<line x1="209.4" y1="206.9" x2="223.3" y2="205.3" stroke="#a0a0a0" stroke-width="1.37"/>
<line x1="223.3" y1="205.3" x2="239.0" y2="207.3" stroke="#a0a0a0" stroke-width="1.37"/>
<line x1="89.7" y1="209.2" x2="93.7" y2="205.4" stroke="#a0a0a0" stroke-width="1.39"/>
<ellipse cx="194.5" cy="204.9" rx="4.19" ry="3.43" fill="url(#catom)"/>
<ellipse cx="65.4" cy="205.0" rx="4.19" ry="3.43" fill="url(#catom)"/>
<line x1="119.5" y1="209.6" x2="122.2" y2="205.8" stroke="#a0a0a0" stroke-width="1.40"/>
<ellipse cx="223.3" cy="205.3" rx="4.20" ry="3.44" fill="url(#catom)"/>
<ellipse cx="93.7" cy="205.4" rx="4.20" ry="3.44" fill="url(#catom)"/>
<line x1="239.0" y1="207.3" x2="248.7" y2="206.1" stroke="#9c9c9c" stroke-width="1.00"/>
<line x1="149.6" y1="210.0" x2="151.0" y2="206.2" stroke="#a0a0a0" stroke-width="1.40"/>
<ellipse cx="122.2" cy="205.8" rx="4.21" ry="3.45" fill="url(#catom)"/>
<line x1="180.0" y1="210.4" x2="180.1" y2="206.5" stroke="#a0a0a0" stroke-width="1.41"/>
<circle cx="248.7" cy="206.1" r="2.04" fill="url(#hatom)"/>
<ellipse cx="151.0" cy="206.2" rx="4.22" ry="3.46" fill="url(#catom)"/>
<line x1="210.6" y1="210.9" x2="209.4" y2="206.9" stroke="#a0a0a0" stroke-width="1.41"/>
<ellipse cx="180.1" cy="206.5" rx="4.23" ry="3.47" fill="url(#catom)"/>
<line x1="241.6" y1="211.3" x2="239.0" y2="207.3" stroke="#a0a0a0" stroke-width="1.42"/>
<ellipse cx="209.4" cy="206.9" rx="4.24" ry="3.48" fill="url(#catom)"/>
<ellipse cx="239.0" cy="207.3" rx="4.25" ry="3.49" fill="url(#catom)"/>
<line x1="42.4" y1="210.6" x2="60.2" y2="208.8" stroke="#a0a0a0" stroke-width="1.43"/>
<line x1="60.2" y1="208.8" x2="72.4" y2="211.0" stroke="#a0a0a0" stroke-width="1.43"/>
<line x1="42.4" y1="210.6" x2="34.1" y2="209.0" stroke="#9c9c9c" stroke-width="1.04"/>
<line x1="72.4" y1="211.0" x2="89.7" y2="209.2" stroke="#a0a0a0" stroke-width="1.43"/>
<line x1="89.7" y1="209.2" x2="102.8" y2="211.4" stroke="#a0a0a0" stroke-width="1.44"/>
<ellipse cx="60.2" cy="208.8" rx="4.29" ry="3.52" fill="url(#catom)"/>
<circle cx="34.1" cy="209.0" r="2.11" fill="url(#hatom)"/>
<line x1="102.8" y1="211.4" x2="119.5" y2="209.6" stroke="#a0a0a0" stroke-width="1.44"/>
<line x1="119.5" y1="209.6" x2="133.4" y2="211.9" stroke="#a0a0a0" stroke-width="1.44"/>
<ellipse cx="89.7" cy="209.2" rx="4.30" ry="3.53" fill="url(#catom)"/>
<line x1="133.4" y1="211.9" x2="149.6" y2="210.0" stroke="#a0a0a0" stroke-width="1.45"/>
<line x1="149.6" y1="210.0" x2="164.3" y2="212.3" stroke="#a0a0a0" stroke-width="1.45"/>
<ellipse cx="119.5" cy="209.6" rx="4.31" ry="3.54" fill="url(#catom)"/>
<line x1="164.3" y1="212.3" x2="180.0" y2="210.4" stroke="#a0a0a0" stroke-width="1.45"/>
<line x1="180.0" y1="210.4" x2="195.5" y2="212.7" stroke="#a0a0a0" stroke-width="1.46"/>
<ellipse cx="149.6" cy="210.0" rx="4.32" ry="3.54" fill="url(#catom)"/>
<line x1="42.4" y1="210.6" x2="37.6" y2="213.6" stroke="#9c9c9c" stroke-width="1.04"/>
<line x1="195.5" y1="212.7" x2="210.6" y2="210.9" stroke="#a0a0a0" stroke-width="1.46"/>
<line x1="210.6" y1="210.9" x2="227.0" y2="213.2" stroke="#a0a0a0" stroke-width="1.46"/>
<ellipse cx="180.0" cy="210.4" rx="4.33" ry="3.55" fill="url(#catom)"/>
<line x1="67.2" y1="215.3" x2="72.4" y2="211.0" stroke="#a0a0a0" stroke-width="1.48"/>
<ellipse cx="42.4" cy="210.6" rx="4.34" ry="3.56" fill="url(#catom)"/>
<line x1="227.0" y1="213.2" x2="241.6" y2="211.3" stroke="#a0a0a0" stroke-width="1.47"/>
<line x1="241.6" y1="211.3" x2="254.0" y2="213.0" stroke="#9c9c9c" stroke-width="1.05"/>
<ellipse cx="210.6" cy="210.9" rx="4.34" ry="3.56" fill="url(#catom)"/>
<line x1="98.9" y1="215.8" x2="102.8" y2="211.4" stroke="#a0a0a0" stroke-width="1.49"/>
<ellipse cx="72.4" cy="211.0" rx="4.35" ry="3.57" fill="url(#catom)"/>
<ellipse cx="241.6" cy="211.3" rx="4.36" ry="3.57" fill="url(#catom)"/>
<line x1="131.0" y1="216.3" x2="133.4" y2="211.9" stroke="#a0a0a0" stroke-width="1.50"/>
<ellipse cx="102.8" cy="211.4" rx="4.36" ry="3.57" fill="url(#catom)"/>
<line x1="163.4" y1="216.7" x2="164.3" y2="212.3" stroke="#a0a0a0" stroke-width="1.50"/>
<ellipse cx="133.4" cy="211.9" rx="4.37" ry="3.58" fill="url(#catom)"/>
<line x1="196.1" y1="217.2" x2="195.5" y2="212.7" stroke="#a0a0a0" stroke-width="1.51"/>
<ellipse cx="164.3" cy="212.3" rx="4.38" ry="3.59" fill="url(#catom)"/>
<line x1="229.2" y1="217.7" x2="227.0" y2="213.2" stroke="#a0a0a0" stroke-width="1.52"/>
<ellipse cx="195.5" cy="212.7" rx="4.39" ry="3.60" fill="url(#catom)"/>
<circle cx="254.0" cy="213.0" r="2.23" fill="url(#hatom)"/>
<ellipse cx="227.0" cy="213.2" rx="4.41" ry="3.61" fill="url(#catom)"/>
<circle cx="37.6" cy="213.6" r="2.26" fill="url(#hatom)"/>
<line x1="67.2" y1="215.3" x2="80.6" y2="217.9" stroke="#a0a0a0" stroke-width="1.54"/>
<line x1="67.2" y1="215.3" x2="53.5" y2="216.8" stroke="#9c9c9c" stroke-width="1.10"/>
<line x1="80.6" y1="217.9" x2="98.9" y2="215.8" stroke="#a0a0a0" stroke-width="1.54"/>
<line x1="98.9" y1="215.8" x2="113.2" y2="218.4" stroke="#a0a0a0" stroke-width="1.54"/>
<ellipse cx="67.2" cy="215.3" rx="4.46" ry="3.66" fill="url(#catom)"/>
<line x1="113.2" y1="218.4" x2="131.0" y2="216.3" stroke="#a0a0a0" stroke-width="1.55"/>
<line x1="131.0" y1="216.3" x2="146.3" y2="218.9" stroke="#a0a0a0" stroke-width="1.55"/>
<ellipse cx="98.9" cy="215.8" rx="4.47" ry="3.67" fill="url(#catom)"/>
<line x1="146.3" y1="218.9" x2="163.4" y2="216.7" stroke="#a0a0a0" stroke-width="1.56"/>
<line x1="163.4" y1="216.7" x2="179.6" y2="219.4" stroke="#a0a0a0" stroke-width="1.56"/>
<ellipse cx="131.0" cy="216.3" rx="4.48" ry="3.68" fill="url(#catom)"/>
<line x1="179.6" y1="219.4" x2="196.1" y2="217.2" stroke="#a0a0a0" stroke-width="1.56"/>
<line x1="196.1" y1="217.2" x2="213.3" y2="219.9" stroke="#a0a0a0" stroke-width="1.57"/>
<ellipse cx="163.4" cy="216.7" rx="4.50" ry="3.69" fill="url(#catom)"/>
<circle cx="53.5" cy="216.8" r="2.32" fill="url(#hatom)"/>
<line x1="213.3" y1="219.9" x2="229.2" y2="217.7" stroke="#a0a0a0" stroke-width="1.57"/>
<line x1="229.2" y1="217.7" x2="247.4" y2="220.4" stroke="#a0a0a0" stroke-width="1.58"/>
<ellipse cx="196.1" cy="217.2" rx="4.51" ry="3.70" fill="url(#catom)"/>
<line x1="75.3" y1="222.9" x2="80.6" y2="217.9" stroke="#a0a0a0" stroke-width="1.60"/>
<ellipse cx="229.2" cy="217.7" rx="4.52" ry="3.71" fill="url(#catom)"/>
<line x1="109.6" y1="223.4" x2="113.2" y2="218.4" stroke="#a0a0a0" stroke-width="1.61"/>
<ellipse cx="80.6" cy="217.9" rx="4.53" ry="3.71" fill="url(#catom)"/>
<line x1="247.4" y1="220.4" x2="258.3" y2="218.8" stroke="#9c9c9c" stroke-width="1.15"/>
<line x1="144.3" y1="224.0" x2="146.3" y2="218.9" stroke="#a0a0a0" stroke-width="1.61"/>
<ellipse cx="113.2" cy="218.4" rx="4.54" ry="3.72" fill="url(#catom)"/>
<circle cx="258.3" cy="218.8" r="2.34" fill="url(#hatom)"/>
<line x1="179.4" y1="224.6" x2="179.6" y2="219.4" stroke="#a0a0a0" stroke-width="1.62"/>
<ellipse cx="146.3" cy="218.9" rx="4.55" ry="3.73" fill="url(#catom)"/>
<ellipse cx="179.6" cy="219.4" rx="4.56" ry="3.74" fill="url(#catom)"/>
<line x1="214.9" y1="225.1" x2="213.3" y2="219.9" stroke="#a0a0a0" stroke-width="1.63"/>
<ellipse cx="213.3" cy="219.9" rx="4.58" ry="3.75" fill="url(#catom)"/>
<line x1="247.4" y1="220.4" x2="249.8" y2="224.2" stroke="#9c9c9c" stroke-width="1.15"/>
<ellipse cx="247.4" cy="220.4" rx="4.59" ry="3.76" fill="url(#catom)"/>
<line x1="75.3" y1="222.9" x2="90.0" y2="225.9" stroke="#a0a0a0" stroke-width="1.66"/>
<line x1="75.3" y1="222.9" x2="60.7" y2="224.6" stroke="#9c9c9c" stroke-width="1.18"/>
<ellipse cx="75.3" cy="222.9" rx="4.65" ry="3.81" fill="url(#catom)"/>
<line x1="90.0" y1="225.9" x2="109.6" y2="223.4" stroke="#a0a0a0" stroke-width="1.67"/>
<line x1="109.6" y1="223.4" x2="125.4" y2="226.5" stroke="#a0a0a0" stroke-width="1.67"/>
<ellipse cx="109.6" cy="223.4" rx="4.67" ry="3.83" fill="url(#catom)"/>
<line x1="125.4" y1="226.5" x2="144.3" y2="224.0" stroke="#a0a0a0" stroke-width="1.67"/>
<line x1="144.3" y1="224.0" x2="161.2" y2="227.1" stroke="#a0a0a0" stroke-width="1.68"/>
<ellipse cx="144.3" cy="224.0" rx="4.68" ry="3.84" fill="url(#catom)"/>
<line x1="161.2" y1="227.1" x2="179.4" y2="224.6" stroke="#a0a0a0" stroke-width="1.68"/>
<line x1="179.4" y1="224.6" x2="197.5" y2="227.7" stroke="#a0a0a0" stroke-width="1.69"/>
<circle cx="249.8" cy="224.2" r="2.52" fill="url(#hatom)"/>
<ellipse cx="179.4" cy="224.6" rx="4.69" ry="3.85" fill="url(#catom)"/>
<circle cx="60.7" cy="224.6" r="2.51" fill="url(#hatom)"/>
<line x1="197.5" y1="227.7" x2="214.9" y2="225.1" stroke="#a0a0a0" stroke-width="1.69"/>
<line x1="214.9" y1="225.1" x2="228.7" y2="227.4" stroke="#9c9c9c" stroke-width="1.21"/>
<ellipse cx="214.9" cy="225.1" rx="4.71" ry="3.86" fill="url(#catom)"/>
<line x1="84.8" y1="231.8" x2="90.0" y2="225.9" stroke="#a0a0a0" stroke-width="1.73"/>
<ellipse cx="90.0" cy="225.9" rx="4.73" ry="3.88" fill="url(#catom)"/>
<line x1="122.2" y1="232.4" x2="125.4" y2="226.5" stroke="#a0a0a0" stroke-width="1.74"/>
<ellipse cx="125.4" cy="226.5" rx="4.74" ry="3.89" fill="url(#catom)"/>
<line x1="160.0" y1="233.1" x2="161.2" y2="227.1" stroke="#a0a0a0" stroke-width="1.75"/>
<ellipse cx="161.2" cy="227.1" rx="4.75" ry="3.90" fill="url(#catom)"/>
<line x1="197.5" y1="227.7" x2="198.0" y2="232.0" stroke="#9c9c9c" stroke-width="1.24"/>
<circle cx="228.7" cy="227.4" r="2.58" fill="url(#hatom)"/>
<ellipse cx="197.5" cy="227.7" rx="4.77" ry="3.91" fill="url(#catom)"/>
<line x1="84.8" y1="231.8" x2="101.1" y2="235.3" stroke="#a0a0a0" stroke-width="1.81"/>
<line x1="84.8" y1="231.8" x2="69.1" y2="233.8" stroke="#9c9c9c" stroke-width="1.28"/>
<ellipse cx="84.8" cy="231.8" rx="4.87" ry="3.99" fill="url(#catom)"/>
<line x1="101.1" y1="235.3" x2="122.2" y2="232.4" stroke="#a0a0a0" stroke-width="1.81"/>
<line x1="122.2" y1="232.4" x2="139.8" y2="236.0" stroke="#a0a0a0" stroke-width="1.82"/>
<circle cx="198.0" cy="232.0" r="2.71" fill="url(#hatom)"/>
<ellipse cx="122.2" cy="232.4" rx="4.88" ry="4.01" fill="url(#catom)"/>
<line x1="139.8" y1="236.0" x2="160.0" y2="233.1" stroke="#a0a0a0" stroke-width="1.82"/>
<line x1="160.0" y1="233.1" x2="173.6" y2="235.7" stroke="#9c9c9c" stroke-width="1.30"/>
<ellipse cx="160.0" cy="233.1" rx="4.90" ry="4.02" fill="url(#catom)"/>
<circle cx="69.1" cy="233.8" r="2.73" fill="url(#hatom)"/>
<line x1="101.1" y1="235.3" x2="97.5" y2="240.4" stroke="#9c9c9c" stroke-width="1.33"/>
<ellipse cx="101.1" cy="235.3" rx="4.95" ry="4.06" fill="url(#catom)"/>
<line x1="139.8" y1="236.0" x2="137.9" y2="241.1" stroke="#9c9c9c" stroke-width="1.33"/>
<circle cx="173.6" cy="235.7" r="2.78" fill="url(#hatom)"/>
<ellipse cx="139.8" cy="236.0" rx="4.97" ry="4.07" fill="url(#catom)"/>
<circle cx="97.5" cy="240.4" r="2.92" fill="url(#hatom)"/>
<circle cx="137.9" cy="241.1" r="2.93" fill="url(#hatom)"/>
<ellipse cx="352.2" cy="200.1" rx="3.06" ry="2.30" fill="url(#catom)"/>
<line x1="267.0" y1="204.2" x2="270.2" y2="200.7" stroke="#a0a0a0" stroke-width="1.38"/>
<ellipse cx="375.6" cy="200.4" rx="3.07" ry="2.30" fill="url(#catom)"/>
<line x1="291.4" y1="204.5" x2="293.5" y2="201.0" stroke="#a0a0a0" stroke-width="1.39"/>
<line x1="388.4" y1="202.2" x2="396.1" y2="201.1" stroke="#9c9c9c" stroke-width="1.00"/>
<ellipse cx="270.2" cy="200.7" rx="3.08" ry="2.31" fill="url(#catom)"/>
<line x1="315.9" y1="204.8" x2="317.0" y2="201.3" stroke="#a0a0a0" stroke-width="1.39"/>
<ellipse cx="293.5" cy="201.0" rx="3.08" ry="2.31" fill="url(#catom)"/>
<circle cx="396.1" cy="201.1" r="1.49" fill="url(#hatom)"/>
<line x1="340.6" y1="205.1" x2="340.6" y2="201.6" stroke="#a0a0a0" stroke-width="1.40"/>
<ellipse cx="317.0" cy="201.3" rx="3.09" ry="2.32" fill="url(#catom)"/>
<line x1="365.5" y1="205.4" x2="364.4" y2="201.9" stroke="#a0a0a0" stroke-width="1.40"/>
<ellipse cx="340.6" cy="201.6" rx="3.10" ry="2.32" fill="url(#catom)"/>
<line x1="390.6" y1="205.8" x2="388.4" y2="202.2" stroke="#a0a0a0" stroke-width="1.41"/>
<ellipse cx="364.4" cy="201.9" rx="3.10" ry="2.33" fill="url(#catom)"/>
<ellipse cx="388.4" cy="202.2" rx="3.11" ry="2.33" fill="url(#catom)"/>
<line x1="267.0" y1="204.2" x2="277.7" y2="206.2" stroke="#a0a0a0" stroke-width="1.43"/>
<line x1="267.0" y1="204.2" x2="256.9" y2="205.4" stroke="#9c9c9c" stroke-width="1.02"/>
<line x1="277.7" y1="206.2" x2="291.4" y2="204.5" stroke="#a0a0a0" stroke-width="1.43"/>
<line x1="291.4" y1="204.5" x2="302.7" y2="206.5" stroke="#a0a0a0" stroke-width="1.44"/>
<ellipse cx="267.0" cy="204.2" rx="3.15" ry="2.36" fill="url(#catom)"/>
<line x1="302.7" y1="206.5" x2="315.9" y2="204.8" stroke="#a0a0a0" stroke-width="1.44"/>
<line x1="315.9" y1="204.8" x2="327.9" y2="206.8" stroke="#a0a0a0" stroke-width="1.44"/>
<ellipse cx="291.4" cy="204.5" rx="3.16" ry="2.37" fill="url(#catom)"/>
<line x1="327.9" y1="206.8" x2="340.6" y2="205.1" stroke="#a0a0a0" stroke-width="1.45"/>
<line x1="340.6" y1="205.1" x2="353.3" y2="207.2" stroke="#a0a0a0" stroke-width="1.45"/>
<ellipse cx="315.9" cy="204.8" rx="3.17" ry="2.37" fill="url(#catom)"/>
<line x1="353.3" y1="207.2" x2="365.5" y2="205.4" stroke="#a0a0a0" stroke-width="1.45"/>
<line x1="365.5" y1="205.4" x2="378.9" y2="207.5" stroke="#a0a0a0" stroke-width="1.45"/>
<ellipse cx="340.6" cy="205.1" rx="3.17" ry="2.38" fill="url(#catom)"/>
<line x1="378.9" y1="207.5" x2="390.6" y2="205.8" stroke="#a0a0a0" stroke-width="1.46"/>
<line x1="390.6" y1="205.8" x2="400.8" y2="207.3" stroke="#9c9c9c" stroke-width="1.04"/>
<circle cx="256.9" cy="205.4" r="1.59" fill="url(#hatom)"/>
<ellipse cx="365.5" cy="205.4" rx="3.18" ry="2.38" fill="url(#catom)"/>
<line x1="274.7" y1="210.1" x2="277.7" y2="206.2" stroke="#a0a0a0" stroke-width="1.48"/>
<ellipse cx="390.6" cy="205.8" rx="3.19" ry="2.39" fill="url(#catom)"/>
<line x1="300.9" y1="210.5" x2="302.7" y2="206.5" stroke="#a0a0a0" stroke-width="1.49"/>
<ellipse cx="277.7" cy="206.2" rx="3.20" ry="2.40" fill="url(#catom)"/>
<line x1="327.3" y1="210.9" x2="327.9" y2="206.8" stroke="#a0a0a0" stroke-width="1.50"/>
<ellipse cx="302.7" cy="206.5" rx="3.20" ry="2.40" fill="url(#catom)"/>
<line x1="354.0" y1="211.2" x2="353.3" y2="207.2" stroke="#a0a0a0" stroke-width="1.50"/>
<ellipse cx="327.9" cy="206.8" rx="3.21" ry="2.41" fill="url(#catom)"/>
<line x1="380.8" y1="211.6" x2="378.9" y2="207.5" stroke="#a0a0a0" stroke-width="1.51"/>
<ellipse cx="353.3" cy="207.2" rx="3.22" ry="2.41" fill="url(#catom)"/>
<circle cx="400.8" cy="207.3" r="1.63" fill="url(#hatom)"/>
<ellipse cx="378.9" cy="207.5" rx="3.22" ry="2.42" fill="url(#catom)"/>
<line x1="259.7" y1="212.1" x2="274.7" y2="210.1" stroke="#a0a0a0" stroke-width="1.54"/>
<line x1="274.7" y1="210.1" x2="286.4" y2="212.5" stroke="#a0a0a0" stroke-width="1.54"/>
<line x1="259.7" y1="212.1" x2="251.8" y2="210.4" stroke="#9c9c9c" stroke-width="1.12"/>
<line x1="286.4" y1="212.5" x2="300.9" y2="210.5" stroke="#a0a0a0" stroke-width="1.54"/>
<line x1="300.9" y1="210.5" x2="313.4" y2="212.9" stroke="#a0a0a0" stroke-width="1.55"/>
<ellipse cx="274.7" cy="210.1" rx="3.28" ry="2.46" fill="url(#catom)"/>
<line x1="313.4" y1="212.9" x2="327.3" y2="210.9" stroke="#a0a0a0" stroke-width="1.55"/>
<line x1="327.3" y1="210.9" x2="340.6" y2="213.2" stroke="#a0a0a0" stroke-width="1.55"/>
<circle cx="251.8" cy="210.4" r="1.67" fill="url(#hatom)"/>
<ellipse cx="300.9" cy="210.5" rx="3.29" ry="2.47" fill="url(#catom)"/>
<line x1="340.6" y1="213.2" x2="354.0" y2="211.2" stroke="#a0a0a0" stroke-width="1.56"/>
<line x1="354.0" y1="211.2" x2="368.0" y2="213.6" stroke="#a0a0a0" stroke-width="1.56"/>
<ellipse cx="327.3" cy="210.9" rx="3.30" ry="2.47" fill="url(#catom)"/>
<line x1="368.0" y1="213.6" x2="380.8" y2="211.6" stroke="#a0a0a0" stroke-width="1.56"/>
<line x1="380.8" y1="211.6" x2="395.7" y2="214.0" stroke="#a0a0a0" stroke-width="1.57"/>
<ellipse cx="354.0" cy="211.2" rx="3.30" ry="2.48" fill="url(#catom)"/>
<line x1="259.7" y1="212.1" x2="256.6" y2="215.4" stroke="#9c9c9c" stroke-width="1.12"/>
<ellipse cx="380.8" cy="211.6" rx="3.31" ry="2.48" fill="url(#catom)"/>
<line x1="283.6" y1="217.1" x2="286.4" y2="212.5" stroke="#a0a0a0" stroke-width="1.60"/>
<line x1="395.7" y1="214.0" x2="404.5" y2="212.6" stroke="#9c9c9c" stroke-width="1.15"/>
<ellipse cx="259.7" cy="212.1" rx="3.32" ry="2.49" fill="url(#catom)"/>
<line x1="311.9" y1="217.5" x2="313.4" y2="212.9" stroke="#a0a0a0" stroke-width="1.61"/>
<ellipse cx="286.4" cy="212.5" rx="3.33" ry="2.50" fill="url(#catom)"/>
<circle cx="404.5" cy="212.6" r="1.71" fill="url(#hatom)"/>
<line x1="340.6" y1="218.0" x2="340.6" y2="213.2" stroke="#a0a0a0" stroke-width="1.62"/>
<ellipse cx="313.4" cy="212.9" rx="3.34" ry="2.50" fill="url(#catom)"/>
<line x1="368.0" y1="213.6" x2="369.1" y2="217.1" stroke="#9c9c9c" stroke-width="1.14"/>
<ellipse cx="340.6" cy="213.2" rx="3.35" ry="2.51" fill="url(#catom)"/>
<line x1="395.7" y1="214.0" x2="397.9" y2="217.5" stroke="#9c9c9c" stroke-width="1.15"/>
<ellipse cx="368.0" cy="213.6" rx="3.35" ry="2.52" fill="url(#catom)"/>
<ellipse cx="395.7" cy="214.0" rx="3.36" ry="2.52" fill="url(#catom)"/>
<circle cx="256.6" cy="215.4" r="1.80" fill="url(#hatom)"/>
<line x1="267.5" y1="219.4" x2="283.6" y2="217.1" stroke="#a0a0a0" stroke-width="1.66"/>
<line x1="283.6" y1="217.1" x2="296.6" y2="219.8" stroke="#a0a0a0" stroke-width="1.67"/>
<line x1="267.5" y1="219.4" x2="258.8" y2="217.4" stroke="#9c9c9c" stroke-width="1.22"/>
<line x1="296.6" y1="219.8" x2="311.9" y2="217.5" stroke="#a0a0a0" stroke-width="1.67"/>
<line x1="311.9" y1="217.5" x2="325.9" y2="220.3" stroke="#a0a0a0" stroke-width="1.68"/>
<circle cx="369.1" cy="217.1" r="1.83" fill="url(#hatom)"/>
<ellipse cx="283.6" cy="217.1" rx="3.43" ry="2.57" fill="url(#catom)"/>
<circle cx="258.8" cy="217.4" r="1.80" fill="url(#hatom)"/>
<line x1="325.9" y1="220.3" x2="340.6" y2="218.0" stroke="#a0a0a0" stroke-width="1.68"/>
<line x1="340.6" y1="218.0" x2="351.3" y2="220.0" stroke="#9c9c9c" stroke-width="1.20"/>
<circle cx="397.9" cy="217.5" r="1.84" fill="url(#hatom)"/>
<ellipse cx="311.9" cy="217.5" rx="3.43" ry="2.58" fill="url(#catom)"/>
<ellipse cx="340.6" cy="218.0" rx="3.44" ry="2.58" fill="url(#catom)"/>
<line x1="267.5" y1="219.4" x2="264.5" y2="223.3" stroke="#9c9c9c" stroke-width="1.22"/>
<line x1="294.0" y1="225.3" x2="296.6" y2="219.8" stroke="#a0a0a0" stroke-width="1.74"/>
<ellipse cx="267.5" cy="219.4" rx="3.47" ry="2.60" fill="url(#catom)"/>
<line x1="325.9" y1="220.3" x2="325.2" y2="224.3" stroke="#9c9c9c" stroke-width="1.23"/>
<ellipse cx="296.6" cy="219.8" rx="3.48" ry="2.61" fill="url(#catom)"/>
<circle cx="351.3" cy="220.0" r="1.88" fill="url(#hatom)"/>
<ellipse cx="325.9" cy="220.3" rx="3.49" ry="2.62" fill="url(#catom)"/>
<circle cx="264.5" cy="223.3" r="1.96" fill="url(#hatom)"/>
<circle cx="325.2" cy="224.3" r="1.98" fill="url(#hatom)"/>
<line x1="294.0" y1="225.3" x2="304.5" y2="227.6" stroke="#9c9c9c" stroke-width="1.29"/>
<line x1="294.0" y1="225.3" x2="281.6" y2="227.2" stroke="#9c9c9c" stroke-width="1.29"/>
<ellipse cx="294.0" cy="225.3" rx="3.59" ry="2.69" fill="url(#catom)"/>
<circle cx="281.6" cy="227.2" r="2.02" fill="url(#hatom)"/>
<circle cx="304.5" cy="227.6" r="2.03" fill="url(#hatom)"/>
<ellipse cx="147" cy="205.5" rx="21" ry="10" fill="url(#fadeg)"/>
<ellipse cx="147" cy="206" rx="9" ry="5" fill="#fffaf2" fill-opacity="0.8" filter="url(#glowblur)"/>
<ellipse cx="321" cy="204" rx="13" ry="6.5" fill="url(#fadeg)"/>
<text x="124.0" y="160.2" font-size="11" fill="#444">Ag@SiO<tspan font-size="8" dy="1">2</tspan></text>
<circle cx="53.5" cy="149.8" r="5.4" fill="url(#oatom)"/>
<circle cx="67.3" cy="149.2" r="5.4" fill="url(#oatom)"/>
<text x="74.5" y="154.0" font-size="11.5" fill="#333">O<tspan font-size="8" dy="1">2</tspan></text>
<circle cx="209.7" cy="124.7" r="3.1" fill="url(#hatom)"/>
<circle cx="229.1" cy="125.7" r="3.1" fill="url(#hatom)"/>
<circle cx="218.7" cy="132.4" r="4.5" fill="url(#oatom)"/>
<text x="215.4" y="116.1" font-size="12.5" fill="#2a2a2a">H<tspan font-size="8" dy="1">2</tspan><tspan dy="-1">O</tspan></text>
<circle cx="362.0" cy="146.5" r="3.2" fill="url(#hatom)"/>
<circle cx="368.1" cy="159.2" r="4.9" fill="url(#oatom)"/>
<circle cx="381.9" cy="161.8" r="4.9" fill="url(#oatom)"/>
<circle cx="390.1" cy="154.1" r="3.3" fill="url(#hatom)"/>
<text x="342.2" y="140.1" font-size="11.8" fill="#333">H<tspan font-size="8" dy="1">2</tspan><tspan dy="-1">O</tspan><tspan font-size="8" dy="1">2</tspan></text>
<path d="M67,166 Q78,182 96,187" fill="none" stroke="#ffffff" stroke-width="1.3" stroke-opacity="0.9"/>
<path d="M184,199 Q208,180 213.8,147" fill="none" stroke="#ffffff" stroke-width="1.3" stroke-opacity="0.9"/>
<path d="M210.5,149 L213.3,143.5 L215.5,149.2 Z" fill="#fff"/>
<path d="M350,197 Q370,185 376,166" fill="none" stroke="#ffffff" stroke-width="1.3" stroke-opacity="0.9"/>
<path d="M373.2,168.6 L377,163.5 L378.3,169.8 Z" fill="#fff"/>
<polyline fill="none" stroke="#3d9dac" stroke-width="1.2" stroke-linejoin="round" points="21.8,325.6 22.3,325.7 22.9,325.4 23.4,325.0 23.9,325.4 24.5,325.4 25.0,325.1 25.6,325.3 26.1,325.3 26.7,325.2 27.2,325.1 27.7,325.0 28.3,324.7 28.8,324.7 29.4,324.7 29.9,324.9 30.5,324.8 31.0,324.5 31.5,324.3 32.1,324.4 32.6,324.5 33.2,324.6 33.7,325.0 34.3,324.6 34.8,323.4 35.4,323.4 35.9,324.0 36.4,324.1 37.0,324.3 37.5,324.5 38.1,324.7 38.6,323.9 39.2,324.0 39.7,324.7 40.2,324.5 40.8,324.1 41.3,323.6 41.9,323.2 42.4,323.6 43.0,323.6 43.5,323.2 44.0,323.2 44.6,323.4 45.1,323.2 45.7,323.3 46.2,323.4 46.8,323.3 47.3,323.1 47.8,323.3 48.4,323.3 48.9,322.8 49.5,322.3 50.0,322.0 50.6,321.2 51.1,320.5 51.6,320.0 52.2,321.0 52.7,321.5 53.3,321.6 53.8,322.0 54.4,322.4 54.9,322.5 55.4,322.1 56.0,322.1 56.5,322.4 57.1,322.4 57.6,322.6 58.2,322.6 58.7,322.0 59.2,322.4 59.8,322.7 60.3,322.3 60.9,322.1 61.4,322.4 62.0,322.5 62.5,322.4 63.0,321.9 63.6,321.5 64.1,321.8 64.7,321.9 65.2,322.1 65.8,321.8 66.3,321.1 66.8,321.2 67.4,321.8 67.9,321.7 68.5,321.2 69.0,321.1 69.6,321.1 70.1,320.9 70.6,320.6 71.2,320.1 71.7,319.5 72.3,319.1 72.8,318.7 73.4,317.5 73.9,317.4 74.4,317.1 75.0,316.3 75.5,316.1 76.1,315.7 76.6,315.5 77.2,314.9 77.7,314.7 78.2,314.4 78.8,313.7 79.3,312.7 79.9,312.3 80.4,312.6 81.0,311.8 81.5,311.1 82.0,310.8 82.6,310.3 83.1,310.0 83.7,309.3 84.2,308.4 84.8,307.6 85.3,306.9 85.8,305.7 86.4,305.4 86.9,305.0 87.5,304.1 88.0,304.0 88.6,305.3 89.1,306.0 89.7,305.0 90.2,304.7 90.7,305.0 91.3,304.6 91.8,304.4 92.4,304.4 92.9,304.5 93.5,304.1 94.0,304.0 94.5,303.7 95.1,303.3 95.6,303.1 96.2,302.8 96.7,302.7 97.3,302.2 97.8,302.1 98.3,302.5 98.9,302.0 99.4,301.6 100.0,301.4 100.5,300.7 101.1,300.3 101.6,300.0 102.1,299.3 102.7,298.5 103.2,298.2 103.8,297.3 104.3,296.4 104.9,295.9 105.4,295.7 105.9,295.6 106.5,294.5 107.0,293.9 107.6,293.1 108.1,293.3 108.7,293.4 109.2,292.8 109.7,292.5 110.3,292.8 110.8,293.1 111.4,293.6 111.9,294.3 112.5,294.3 113.0,294.6 113.5,295.5 114.1,296.5 114.6,297.5 115.2,298.5 115.7,299.3 116.3,300.0 116.8,301.4 117.3,302.0 117.9,302.7 118.4,304.0 119.0,304.9 119.5,305.2 120.1,305.3 120.6,305.7 121.1,307.1 121.7,307.0 122.2,306.6 122.8,307.0 123.3,307.6 123.9,307.7 124.4,308.4 124.9,308.9 125.5,309.7 126.0,309.7 126.6,309.1 127.1,309.7 127.7,310.0 128.2,310.8 128.7,311.0 129.3,311.0 129.8,310.9 130.4,311.8 130.9,311.9 131.5,311.1 132.0,311.0 132.5,310.8 133.1,310.5 133.6,310.3 134.2,310.6 134.7,309.7 135.3,309.3 135.8,309.1 136.3,308.4 136.9,307.8 137.4,307.2 138.0,306.7 138.5,305.8 139.1,305.3 139.6,304.8 140.1,304.1 140.7,303.5 141.2,302.8 141.8,302.2 142.3,301.1 142.9,299.7 143.4,297.8 144.0,295.7 144.5,293.6 145.0,291.7 145.6,289.2 146.1,287.2 146.7,285.9 147.2,284.6 147.8,283.2 148.3,282.6 148.8,283.5 149.4,284.3 149.9,285.3 150.5,287.4 151.0,289.1 151.6,291.2 152.1,293.9 152.6,296.4 153.2,298.7 153.7,300.8 154.3,303.5 154.8,304.8 155.4,305.9 155.9,307.6 156.4,308.6 157.0,309.7 157.5,310.7 158.1,311.7 158.6,312.7 159.2,313.5 159.7,314.7 160.2,315.3 160.8,315.9 161.3,317.0 161.9,317.8 162.4,318.2 163.0,318.7 163.5,319.4 164.0,319.3 164.6,319.8 165.1,320.3 165.7,320.4 166.2,320.9 166.8,321.4 167.3,321.7 167.8,321.4 168.4,321.7 168.9,321.9 169.5,321.9 170.0,323.2 170.6,322.7 171.1,322.6 171.6,323.2 172.2,323.0 172.7,322.8 173.3,323.5 173.8,323.8 174.4,323.6 174.9,323.7 175.4,323.9 176.0,323.8 176.5,324.2 177.1,324.2 177.6,323.9 178.2,323.8 178.7,324.1 179.2,324.3 179.8,324.8 180.3,324.9 180.9,325.0 181.4,324.9 182.0,324.8 182.5,324.7 183.0,325.2 183.6,325.6 184.1,325.0 184.7,324.8 185.2,324.9 185.8,324.9 186.3,324.9 186.8,325.1 187.4,325.3 187.9,325.7 188.5,325.5 189.0,325.6 189.6,325.7 190.1,325.6 190.6,325.9 191.2,325.4 191.7,325.2 192.3,325.4 192.8,325.4 193.4,325.2 193.9,325.3 194.4,325.3 195.0,326.0 195.5,325.8 196.1,325.5 196.6,325.4 197.2,325.6 197.7,325.6 198.3,325.4 198.8,325.5 199.3,325.7 199.9,325.8 200.4,326.3 201.0,326.4 201.5,326.2 202.1,326.0 202.6,325.7 203.1,326.1 203.7,326.1 204.2,326.2"/>
<polyline fill="none" stroke="#44a2b0" stroke-width="1.2" stroke-linejoin="round" points="21.8,344.0 22.3,343.8 22.9,343.5 23.4,343.3 23.9,344.4 24.5,344.4 25.0,344.0 25.6,344.1 26.1,343.9 26.7,343.8 27.2,344.0 27.7,343.7 28.3,343.5 28.8,343.4 29.4,343.7 29.9,343.7 30.5,343.7 31.0,343.5 31.5,343.4 32.1,343.3 32.6,343.7 33.2,343.7 33.7,343.6 34.3,343.5 34.8,343.2 35.4,343.7 35.9,343.9 36.4,342.8 37.0,342.3 37.5,342.6 38.1,343.3 38.6,343.4 39.2,343.5 39.7,343.4 40.2,343.2 40.8,343.1 41.3,343.0 41.9,343.1 42.4,342.6 43.0,342.6 43.5,343.0 44.0,343.3 44.6,342.5 45.1,342.2 45.7,342.4 46.2,342.8 46.8,342.7 47.3,342.6 47.8,342.0 48.4,342.5 48.9,342.4 49.5,341.5 50.0,341.6 50.6,341.5 51.1,340.7 51.6,340.9 52.2,341.6 52.7,341.5 53.3,341.3 53.8,341.4 54.4,341.8 54.9,341.7 55.4,341.6 56.0,341.7 56.5,341.8 57.1,341.2 57.6,340.7 58.2,340.7 58.7,341.6 59.2,341.8 59.8,341.9 60.3,341.4 60.9,341.0 61.4,341.2 62.0,340.9 62.5,340.5 63.0,340.6 63.6,341.3 64.1,341.0 64.7,340.7 65.2,340.3 65.8,340.2 66.3,340.4 66.8,340.1 67.4,339.7 67.9,339.6 68.5,339.4 69.0,339.7 69.6,339.7 70.1,339.3 70.6,339.5 71.2,339.0 71.7,338.7 72.3,338.4 72.8,338.4 73.4,338.3 73.9,338.0 74.4,337.7 75.0,337.5 75.5,337.2 76.1,337.0 76.6,337.2 77.2,337.5 77.7,337.5 78.2,337.5 78.8,337.6 79.3,336.9 79.9,336.4 80.4,336.5 81.0,335.8 81.5,335.7 82.0,335.2 82.6,334.9 83.1,334.3 83.7,334.7 84.2,334.3 84.8,334.0 85.3,334.5 85.8,334.2 86.4,333.6 86.9,333.2 87.5,333.2 88.0,333.2 88.6,333.3 89.1,333.1 89.7,332.5 90.2,332.2 90.7,332.0 91.3,331.7 91.8,331.7 92.4,331.9 92.9,332.1 93.5,332.0 94.0,331.4 94.5,331.3 95.1,331.2 95.6,331.5 96.2,330.8 96.7,330.4 97.3,329.7 97.8,329.3 98.3,329.3 98.9,329.0 99.4,328.6 100.0,327.9 100.5,328.0 101.1,327.6 101.6,327.8 102.1,327.3 102.7,326.9 103.2,326.2 103.8,326.2 104.3,325.8 104.9,325.6 105.4,325.7 105.9,325.6 106.5,325.8 107.0,326.0 107.6,326.0 108.1,325.7 108.7,325.3 109.2,325.6 109.7,325.8 110.3,325.8 110.8,326.6 111.4,326.8 111.9,327.1 112.5,327.7 113.0,327.9 113.5,327.9 114.1,327.8 114.6,328.4 115.2,328.6 115.7,328.7 116.3,329.3 116.8,329.3 117.3,328.9 117.9,329.3 118.4,329.6 119.0,330.5 119.5,330.7 120.1,330.3 120.6,330.5 121.1,331.1 121.7,331.6 122.2,332.3 122.8,332.3 123.3,332.3 123.9,332.4 124.4,332.1 124.9,332.8 125.5,333.3 126.0,333.1 126.6,333.1 127.1,333.7 127.7,334.2 128.2,333.6 128.7,333.3 129.3,333.6 129.8,333.0 130.4,333.2 130.9,333.2 131.5,333.2 132.0,332.9 132.5,333.2 133.1,332.7 133.6,331.7 134.2,331.3 134.7,331.8 135.3,332.1 135.8,331.7 136.3,331.2 136.9,331.0 137.4,330.9 138.0,330.6 138.5,330.1 139.1,329.5 139.6,329.5 140.1,328.7 140.7,327.4 141.2,327.2 141.8,326.0 142.3,324.2 142.9,322.8 143.4,322.4 144.0,321.5 144.5,320.0 145.0,318.8 145.6,318.6 146.1,317.7 146.7,317.3 147.2,317.9 147.8,317.7 148.3,317.0 148.8,317.0 149.4,317.7 149.9,318.3 150.5,320.2 151.0,321.8 151.6,323.2 152.1,325.1 152.6,327.5 153.2,329.2 153.7,330.7 154.3,331.9 154.8,332.1 155.4,332.4 155.9,333.0 156.4,334.1 157.0,335.1 157.5,335.5 158.1,335.9 158.6,336.0 159.2,336.4 159.7,336.7 160.2,337.3 160.8,338.5 161.3,338.7 161.9,338.4 162.4,338.6 163.0,339.0 163.5,339.1 164.0,339.7 164.6,339.7 165.1,340.0 165.7,340.3 166.2,340.6 166.8,340.6 167.3,340.8 167.8,341.2 168.4,341.7 168.9,342.1 169.5,342.7 170.0,343.3 170.6,343.3 171.1,343.2 171.6,343.4 172.2,343.4 172.7,344.0 173.3,343.8 173.8,343.4 174.4,343.9 174.9,343.8 175.4,342.9 176.0,343.2 176.5,343.4 177.1,343.0 177.6,343.2 178.2,343.5 178.7,344.0 179.2,344.4 179.8,344.8 180.3,344.2 180.9,344.3 181.4,344.2 182.0,344.0 182.5,343.5 183.0,343.2 183.6,343.7 184.1,344.4 184.7,344.7 185.2,344.5 185.8,344.2 186.3,344.1 186.8,344.7 187.4,344.7 187.9,344.1 188.5,344.0 189.0,344.0 189.6,344.6 190.1,344.5 190.6,344.2 191.2,344.4 191.7,344.3 192.3,344.0 192.8,343.6 193.4,343.5 193.9,343.6 194.4,344.4 195.0,344.8 195.5,343.9 196.1,344.2 196.6,344.3 197.2,344.0 197.7,344.1 198.3,344.1 198.8,344.5 199.3,344.2 199.9,344.3 200.4,344.5 201.0,344.0 201.5,343.6 202.1,344.0 202.6,344.5 203.1,344.4 203.7,344.2 204.2,344.0"/>
<polyline fill="none" stroke="#4ea8b4" stroke-width="1.2" stroke-linejoin="round" points="21.8,362.8 22.3,361.8 22.9,362.1 23.4,362.1 23.9,362.1 24.5,361.9 25.0,361.5 25.6,361.8 26.1,362.2 26.7,363.2 27.2,362.5 27.7,362.0 28.3,361.9 28.8,361.7 29.4,361.6 29.9,361.8 30.5,362.0 31.0,362.0 31.5,362.2 32.1,361.9 32.6,362.0 33.2,362.4 33.7,362.1 34.3,361.6 34.8,361.6 35.4,362.0 35.9,362.3 36.4,361.7 37.0,361.5 37.5,361.7 38.1,361.3 38.6,361.3 39.2,361.7 39.7,361.7 40.2,361.5 40.8,361.2 41.3,360.5 41.9,361.1 42.4,360.8 43.0,360.5 43.5,361.1 44.0,361.2 44.6,360.8 45.1,360.5 45.7,360.8 46.2,361.0 46.8,361.3 47.3,361.1 47.8,360.9 48.4,360.8 48.9,360.3 49.5,359.8 50.0,359.9 50.6,359.5 51.1,358.6 51.6,358.3 52.2,358.7 52.7,358.7 53.3,359.7 53.8,359.9 54.4,359.4 54.9,359.7 55.4,359.7 56.0,359.8 56.5,359.2 57.1,359.4 57.6,360.1 58.2,360.0 58.7,359.0 59.2,359.3 59.8,359.5 60.3,359.5 60.9,359.7 61.4,359.1 62.0,359.1 62.5,358.9 63.0,359.3 63.6,359.0 64.1,358.4 64.7,358.2 65.2,358.9 65.8,358.8 66.3,358.7 66.8,358.6 67.4,358.1 67.9,357.5 68.5,357.2 69.0,357.3 69.6,357.5 70.1,356.8 70.6,356.6 71.2,356.7 71.7,356.8 72.3,356.6 72.8,355.8 73.4,355.5 73.9,356.0 74.4,356.3 75.0,356.1 75.5,355.7 76.1,355.3 76.6,355.3 77.2,355.1 77.7,355.1 78.2,354.6 78.8,354.5 79.3,354.5 79.9,354.5 80.4,354.5 81.0,355.0 81.5,354.7 82.0,354.0 82.6,352.9 83.1,352.9 83.7,352.9 84.2,352.8 84.8,352.2 85.3,352.9 85.8,352.8 86.4,351.9 86.9,351.6 87.5,351.7 88.0,351.9 88.6,352.2 89.1,352.4 89.7,351.8 90.2,351.6 90.7,351.6 91.3,351.8 91.8,351.6 92.4,351.3 92.9,350.5 93.5,350.3 94.0,350.2 94.5,350.7 95.1,350.4 95.6,349.7 96.2,349.4 96.7,349.3 97.3,348.7 97.8,348.4 98.3,348.7 98.9,348.9 99.4,347.8 100.0,347.0 100.5,346.4 101.1,346.2 101.6,346.5 102.1,346.4 102.7,345.9 103.2,345.6 103.8,345.4 104.3,345.0 104.9,344.4 105.4,344.5 105.9,344.6 106.5,344.3 107.0,344.3 107.6,344.3 108.1,344.6 108.7,345.1 109.2,344.9 109.7,345.1 110.3,345.6 110.8,346.0 111.4,346.1 111.9,345.6 112.5,346.2 113.0,346.4 113.5,346.8 114.1,347.3 114.6,347.7 115.2,347.9 115.7,348.0 116.3,348.4 116.8,348.1 117.3,348.3 117.9,348.7 118.4,348.9 119.0,349.8 119.5,350.1 120.1,350.4 120.6,350.0 121.1,350.0 121.7,350.5 122.2,350.9 122.8,350.9 123.3,351.2 123.9,351.6 124.4,352.1 124.9,351.9 125.5,352.2 126.0,352.0 126.6,351.9 127.1,352.0 127.7,352.0 128.2,352.6 128.7,352.9 129.3,352.7 129.8,352.8 130.4,353.0 130.9,352.5 131.5,352.1 132.0,351.7 132.5,351.3 133.1,351.4 133.6,350.9 134.2,351.1 134.7,351.0 135.3,350.9 135.8,350.3 136.3,349.8 136.9,349.7 137.4,349.2 138.0,349.0 138.5,348.8 139.1,348.2 139.6,347.5 140.1,346.6 140.7,345.7 141.2,344.3 141.8,343.6 142.3,342.7 142.9,342.3 143.4,341.1 144.0,339.2 144.5,338.5 145.0,337.6 145.6,336.6 146.1,336.2 146.7,335.3 147.2,334.5 147.8,334.6 148.3,334.8 148.8,335.2 149.4,335.8 149.9,337.5 150.5,339.1 151.0,340.2 151.6,342.1 152.1,344.1 152.6,346.0 153.2,348.2 153.7,349.3 154.3,349.9 154.8,350.7 155.4,351.9 155.9,353.1 156.4,353.1 157.0,353.6 157.5,354.2 158.1,354.8 158.6,355.7 159.2,355.6 159.7,356.1 160.2,356.4 160.8,356.7 161.3,356.8 161.9,357.7 162.4,357.7 163.0,357.7 163.5,357.6 164.0,358.0 164.6,358.7 165.1,359.2 165.7,359.5 166.2,359.7 166.8,359.8 167.3,359.8 167.8,360.1 168.4,360.3 168.9,360.3 169.5,360.7 170.0,361.0 170.6,360.8 171.1,360.8 171.6,361.3 172.2,361.7 172.7,361.2 173.3,361.1 173.8,361.3 174.4,361.4 174.9,360.8 175.4,361.3 176.0,361.6 176.5,361.3 177.1,361.8 177.6,361.6 178.2,361.2 178.7,361.2 179.2,360.8 179.8,361.2 180.3,361.8 180.9,361.5 181.4,361.9 182.0,361.7 182.5,361.8 183.0,361.3 183.6,360.7 184.1,361.1 184.7,361.4 185.2,361.0 185.8,361.0 186.3,361.4 186.8,361.2 187.4,360.8 187.9,361.2 188.5,361.7 189.0,361.6 189.6,362.0 190.1,362.2 190.6,361.6 191.2,361.1 191.7,361.0 192.3,361.5 192.8,361.9 193.4,361.8 193.9,361.8 194.4,361.5 195.0,361.6 195.5,361.4 196.1,361.3 196.6,361.0 197.2,360.9 197.7,361.2 198.3,361.1 198.8,361.2 199.3,361.7 199.9,362.0 200.4,362.7 201.0,362.2 201.5,361.6 202.1,361.8 202.6,361.7 203.1,361.5 203.7,361.8 204.2,361.5"/>
<polyline fill="none" stroke="#62b2bd" stroke-width="1.2" stroke-linejoin="round" points="21.8,380.6 22.3,380.8 22.9,381.3 23.4,380.9 23.9,380.2 24.5,380.3 25.0,380.3 25.6,380.3 26.1,380.0 26.7,380.3 27.2,380.6 27.7,380.9 28.3,380.6 28.8,380.2 29.4,379.9 29.9,380.4 30.5,379.7 31.0,380.1 31.5,379.8 32.1,379.4 32.6,379.4 33.2,379.5 33.7,379.7 34.3,379.7 34.8,379.8 35.4,379.0 35.9,379.1 36.4,379.1 37.0,379.2 37.5,378.5 38.1,378.8 38.6,378.9 39.2,378.6 39.7,379.1 40.2,379.1 40.8,379.2 41.3,379.0 41.9,378.3 42.4,378.2 43.0,378.4 43.5,378.7 44.0,378.6 44.6,378.1 45.1,377.8 45.7,377.7 46.2,377.7 46.8,377.8 47.3,378.0 47.8,378.4 48.4,377.7 48.9,377.5 49.5,377.6 50.0,377.2 50.6,377.2 51.1,377.3 51.6,377.3 52.2,376.9 52.7,377.3 53.3,377.0 53.8,376.9 54.4,377.1 54.9,377.0 55.4,376.9 56.0,376.6 56.5,376.3 57.1,376.2 57.6,375.9 58.2,376.1 58.7,375.5 59.2,375.4 59.8,376.1 60.3,375.5 60.9,375.1 61.4,375.5 62.0,375.2 62.5,375.0 63.0,374.4 63.6,374.1 64.1,373.5 64.7,373.2 65.2,373.4 65.8,373.7 66.3,374.0 66.8,374.1 67.4,373.2 67.9,373.1 68.5,372.6 69.0,372.2 69.6,371.6 70.1,371.3 70.6,371.3 71.2,371.2 71.7,371.2 72.3,371.1 72.8,371.3 73.4,370.9 73.9,370.7 74.4,370.7 75.0,370.3 75.5,369.7 76.1,369.4 76.6,369.2 77.2,369.3 77.7,369.0 78.2,368.5 78.8,368.2 79.3,367.6 79.9,367.3 80.4,366.7 81.0,367.0 81.5,366.6 82.0,366.2 82.6,366.0 83.1,365.5 83.7,365.2 84.2,365.2 84.8,364.6 85.3,364.0 85.8,363.8 86.4,363.3 86.9,363.7 87.5,363.2 88.0,363.0 88.6,363.4 89.1,363.1 89.7,362.2 90.2,361.9 90.7,361.9 91.3,361.6 91.8,360.8 92.4,360.5 92.9,360.5 93.5,360.0 94.0,359.7 94.5,359.2 95.1,358.3 95.6,357.6 96.2,356.9 96.7,357.1 97.3,357.1 97.8,356.2 98.3,356.2 98.9,355.7 99.4,354.8 100.0,354.2 100.5,353.6 101.1,352.9 101.6,352.5 102.1,352.3 102.7,352.3 103.2,351.9 103.8,351.4 104.3,351.5 104.9,351.1 105.4,351.2 105.9,351.5 106.5,351.6 107.0,351.7 107.6,351.9 108.1,351.9 108.7,352.1 109.2,352.7 109.7,353.4 110.3,353.7 110.8,354.4 111.4,354.1 111.9,353.6 112.5,354.7 113.0,355.9 113.5,355.9 114.1,355.9 114.6,356.3 115.2,357.3 115.7,357.8 116.3,357.9 116.8,358.2 117.3,358.7 117.9,358.6 118.4,358.3 119.0,358.8 119.5,359.0 120.1,359.1 120.6,359.4 121.1,359.1 121.7,358.7 122.2,360.0 122.8,360.3 123.3,360.0 123.9,359.9 124.4,360.1 124.9,359.9 125.5,360.3 126.0,360.3 126.6,360.2 127.1,360.1 127.7,360.3 128.2,360.9 128.7,361.0 129.3,360.5 129.8,359.9 130.4,359.5 130.9,359.8 131.5,359.5 132.0,358.5 132.5,358.3 133.1,357.3 133.6,357.1 134.2,356.9 134.7,355.9 135.3,355.3 135.8,355.4 136.3,355.1 136.9,354.4 137.4,354.0 138.0,353.3 138.5,353.1 139.1,352.1 139.6,351.1 140.1,350.2 140.7,349.2 141.2,348.4 141.8,347.2 142.3,345.3 142.9,343.4 143.4,341.7 144.0,340.6 144.5,339.7 145.0,338.6 145.6,337.7 146.1,337.0 146.7,336.3 147.2,335.4 147.8,335.4 148.3,336.4 148.8,337.0 149.4,337.7 149.9,339.3 150.5,340.4 151.0,341.8 151.6,343.4 152.1,345.8 152.6,347.8 153.2,349.7 153.7,351.2 154.3,352.5 154.8,354.2 155.4,356.1 155.9,357.6 156.4,359.3 157.0,361.2 157.5,363.2 158.1,365.1 158.6,366.7 159.2,367.5 159.7,368.6 160.2,369.0 160.8,369.9 161.3,370.8 161.9,371.8 162.4,372.1 163.0,372.3 163.5,373.1 164.0,373.6 164.6,373.9 165.1,374.3 165.7,374.9 166.2,376.2 166.8,376.3 167.3,376.4 167.8,376.1 168.4,376.3 168.9,376.9 169.5,377.4 170.0,377.7 170.6,377.5 171.1,378.1 171.6,378.5 172.2,378.1 172.7,378.3 173.3,378.2 173.8,378.5 174.4,378.9 174.9,379.2 175.4,378.7 176.0,378.9 176.5,379.1 177.1,378.7 177.6,378.8 178.2,378.8 178.7,378.9 179.2,379.5 179.8,379.9 180.3,380.5 180.9,380.3 181.4,380.0 182.0,379.6 182.5,379.5 183.0,379.4 183.6,379.1 184.1,379.9 184.7,379.6 185.2,379.3 185.8,379.7 186.3,380.3 186.8,380.4 187.4,380.0 187.9,380.1 188.5,380.0 189.0,379.8 189.6,380.1 190.1,380.0 190.6,379.8 191.2,380.3 191.7,379.9 192.3,380.1 192.8,380.0 193.4,379.9 193.9,380.2 194.4,380.5 195.0,380.1 195.5,380.5 196.1,381.0 196.6,380.5 197.2,380.6 197.7,380.8 198.3,380.6 198.8,380.7 199.3,380.6 199.9,380.9 200.4,380.7 201.0,380.6 201.5,381.1 202.1,380.9 202.6,380.6 203.1,380.4 203.7,380.5 204.2,380.7"/>
<polyline fill="none" stroke="#7ac0c8" stroke-width="1.2" stroke-linejoin="round" points="21.8,399.3 22.3,399.1 22.9,399.5 23.4,399.8 23.9,400.0 24.5,399.6 25.0,399.3 25.6,399.2 26.1,399.8 26.7,400.0 27.2,399.5 27.7,398.8 28.3,399.0 28.8,399.6 29.4,399.2 29.9,398.5 30.5,398.7 31.0,398.5 31.5,398.5 32.1,398.5 32.6,398.6 33.2,398.8 33.7,398.6 34.3,398.4 34.8,398.7 35.4,398.6 35.9,397.9 36.4,397.9 37.0,397.9 37.5,397.9 38.1,397.6 38.6,397.9 39.2,397.9 39.7,397.6 40.2,397.4 40.8,397.3 41.3,397.1 41.9,397.0 42.4,397.2 43.0,397.1 43.5,397.6 44.0,397.3 44.6,396.5 45.1,396.7 45.7,396.5 46.2,396.6 46.8,396.4 47.3,395.8 47.8,396.0 48.4,396.1 48.9,396.0 49.5,395.4 50.0,395.2 50.6,394.3 51.1,393.6 51.6,393.5 52.2,394.5 52.7,395.0 53.3,395.5 53.8,395.2 54.4,395.1 54.9,394.9 55.4,394.4 56.0,394.5 56.5,394.7 57.1,394.2 57.6,394.0 58.2,394.0 58.7,393.9 59.2,393.5 59.8,393.4 60.3,393.3 60.9,393.0 61.4,392.7 62.0,392.8 62.5,392.1 63.0,391.6 63.6,391.7 64.1,392.0 64.7,391.5 65.2,391.0 65.8,390.8 66.3,390.9 66.8,390.3 67.4,390.0 67.9,390.2 68.5,389.7 69.0,389.5 69.6,389.4 70.1,389.1 70.6,389.1 71.2,389.1 71.7,388.4 72.3,387.6 72.8,387.2 73.4,387.4 73.9,387.4 74.4,387.2 75.0,386.8 75.5,386.4 76.1,386.0 76.6,385.8 77.2,385.7 77.7,385.4 78.2,385.4 78.8,385.6 79.3,384.8 79.9,384.0 80.4,384.4 81.0,383.8 81.5,383.1 82.0,383.2 82.6,382.7 83.1,382.1 83.7,381.7 84.2,381.4 84.8,381.5 85.3,381.5 85.8,380.9 86.4,380.9 86.9,380.8 87.5,379.8 88.0,379.6 88.6,379.2 89.1,378.6 89.7,378.4 90.2,378.5 90.7,378.3 91.3,377.8 91.8,377.7 92.4,377.6 92.9,377.3 93.5,377.1 94.0,376.7 94.5,376.5 95.1,376.5 95.6,375.9 96.2,375.2 96.7,374.8 97.3,373.9 97.8,373.6 98.3,373.6 98.9,373.3 99.4,373.0 100.0,372.0 100.5,371.3 101.1,371.7 101.6,371.2 102.1,370.4 102.7,370.5 103.2,369.9 103.8,369.1 104.3,369.3 104.9,369.6 105.4,370.0 105.9,369.6 106.5,369.7 107.0,369.9 107.6,370.0 108.1,370.2 108.7,370.8 109.2,371.5 109.7,371.6 110.3,371.4 110.8,371.6 111.4,372.3 111.9,372.5 112.5,372.7 113.0,373.2 113.5,374.5 114.1,374.7 114.6,374.6 115.2,375.4 115.7,375.6 116.3,374.9 116.8,375.4 117.3,376.0 117.9,376.5 118.4,376.5 119.0,376.5 119.5,376.9 120.1,377.7 120.6,377.8 121.1,377.1 121.7,377.2 122.2,378.0 122.8,377.4 123.3,377.3 123.9,377.7 124.4,378.0 124.9,378.3 125.5,378.0 126.0,377.7 126.6,378.1 127.1,378.3 127.7,378.6 128.2,378.0 128.7,377.3 129.3,377.4 129.8,377.8 130.4,377.1 130.9,376.2 131.5,376.3 132.0,376.5 132.5,376.3 133.1,375.5 133.6,375.4 134.2,375.0 134.7,374.2 135.3,373.9 135.8,374.1 136.3,373.7 136.9,372.9 137.4,372.2 138.0,371.8 138.5,370.9 139.1,370.0 139.6,369.1 140.1,368.3 140.7,367.6 141.2,367.1 141.8,365.3 142.3,364.3 142.9,363.0 143.4,361.5 144.0,360.2 144.5,358.4 145.0,357.9 145.6,357.1 146.1,355.6 146.7,355.3 147.2,355.7 147.8,355.3 148.3,355.1 148.8,355.9 149.4,357.0 149.9,358.7 150.5,360.1 151.0,361.5 151.6,363.1 152.1,365.2 152.6,367.3 153.2,368.9 153.7,370.3 154.3,371.5 154.8,372.7 155.4,374.7 155.9,376.9 156.4,378.6 157.0,379.9 157.5,381.5 158.1,383.5 158.6,385.1 159.2,386.3 159.7,387.4 160.2,388.4 160.8,389.3 161.3,390.2 161.9,390.9 162.4,391.6 163.0,392.0 163.5,392.2 164.0,392.8 164.6,393.4 165.1,393.8 165.7,394.5 166.2,395.0 166.8,394.8 167.3,394.9 167.8,396.0 168.4,396.3 168.9,396.5 169.5,396.5 170.0,397.3 170.6,397.4 171.1,397.2 171.6,397.2 172.2,397.4 172.7,397.5 173.3,397.4 173.8,397.5 174.4,398.1 174.9,398.1 175.4,398.1 176.0,397.9 176.5,397.5 177.1,398.2 177.6,398.3 178.2,398.3 178.7,398.4 179.2,398.3 179.8,398.7 180.3,398.5 180.9,398.3 181.4,398.4 182.0,398.9 182.5,399.1 183.0,398.7 183.6,398.6 184.1,399.1 184.7,399.0 185.2,399.4 185.8,399.2 186.3,398.9 186.8,399.0 187.4,399.5 187.9,399.7 188.5,399.5 189.0,400.0 189.6,400.2 190.1,399.6 190.6,399.0 191.2,399.0 191.7,399.0 192.3,399.2 192.8,399.3 193.4,399.3 193.9,399.5 194.4,398.9 195.0,399.4 195.5,400.5 196.1,400.5 196.6,400.3 197.2,400.4 197.7,400.7 198.3,400.4 198.8,400.0 199.3,399.7 199.9,399.9 200.4,399.8 201.0,399.7 201.5,399.8 202.1,400.0 202.6,400.2 203.1,400.3 203.7,399.8 204.2,400.0"/>
<polyline fill="none" stroke="#95ccd3" stroke-width="1.2" stroke-linejoin="round" points="21.8,418.5 22.3,418.4 22.9,417.3 23.4,417.7 23.9,418.3 24.5,418.5 25.0,418.3 25.6,418.3 26.1,418.0 26.7,417.9 27.2,417.6 27.7,417.1 28.3,417.2 28.8,417.4 29.4,417.4 29.9,417.8 30.5,418.0 31.0,417.9 31.5,417.5 32.1,417.4 32.6,416.8 33.2,416.6 33.7,416.9 34.3,416.8 34.8,416.1 35.4,416.0 35.9,416.4 36.4,416.4 37.0,416.8 37.5,416.7 38.1,416.5 38.6,416.4 39.2,416.5 39.7,416.2 40.2,416.3 40.8,415.8 41.3,415.6 41.9,415.6 42.4,415.8 43.0,415.6 43.5,415.4 44.0,415.9 44.6,415.4 45.1,415.2 45.7,415.4 46.2,415.6 46.8,415.1 47.3,415.0 47.8,414.6 48.4,414.2 48.9,414.6 49.5,414.7 50.0,414.2 50.6,413.9 51.1,413.3 51.6,413.1 52.2,413.4 52.7,413.6 53.3,413.3 53.8,413.4 54.4,413.5 54.9,413.2 55.4,413.2 56.0,413.1 56.5,412.4 57.1,412.3 57.6,411.7 58.2,412.0 58.7,412.0 59.2,411.5 59.8,411.1 60.3,411.2 60.9,411.1 61.4,410.9 62.0,410.6 62.5,410.6 63.0,410.1 63.6,409.9 64.1,409.9 64.7,409.9 65.2,409.1 65.8,409.1 66.3,409.3 66.8,408.6 67.4,408.1 67.9,408.2 68.5,408.1 69.0,407.9 69.6,407.4 70.1,407.3 70.6,407.4 71.2,407.1 71.7,406.4 72.3,406.5 72.8,405.7 73.4,405.1 73.9,405.1 74.4,405.2 75.0,405.0 75.5,404.9 76.1,404.7 76.6,404.3 77.2,404.1 77.7,403.9 78.2,402.6 78.8,402.2 79.3,402.3 79.9,401.7 80.4,401.1 81.0,401.3 81.5,401.0 82.0,400.5 82.6,401.2 83.1,401.4 83.7,401.0 84.2,400.2 84.8,399.8 85.3,399.3 85.8,399.2 86.4,398.9 86.9,398.8 87.5,398.6 88.0,398.7 88.6,398.5 89.1,398.0 89.7,396.9 90.2,396.4 90.7,396.8 91.3,396.5 91.8,396.5 92.4,396.2 92.9,396.0 93.5,395.9 94.0,395.6 94.5,395.1 95.1,394.7 95.6,394.9 96.2,394.4 96.7,394.2 97.3,393.8 97.8,393.5 98.3,392.9 98.9,392.4 99.4,391.9 100.0,391.3 100.5,391.0 101.1,390.8 101.6,390.5 102.1,390.3 102.7,390.8 103.2,389.9 103.8,389.9 104.3,390.5 104.9,389.9 105.4,390.0 105.9,390.1 106.5,389.7 107.0,389.3 107.6,389.3 108.1,390.0 108.7,390.1 109.2,389.7 109.7,390.2 110.3,390.5 110.8,391.0 111.4,391.0 111.9,390.8 112.5,391.0 113.0,391.5 113.5,392.4 114.1,392.9 114.6,392.4 115.2,392.2 115.7,392.4 116.3,392.5 116.8,392.7 117.3,392.8 117.9,392.7 118.4,392.5 119.0,392.9 119.5,393.3 120.1,393.3 120.6,393.7 121.1,393.6 121.7,393.5 122.2,393.8 122.8,393.4 123.3,393.9 123.9,394.3 124.4,393.7 124.9,393.7 125.5,394.2 126.0,394.4 126.6,394.1 127.1,394.0 127.7,394.1 128.2,393.8 128.7,393.3 129.3,393.3 129.8,393.2 130.4,392.7 130.9,392.8 131.5,392.6 132.0,392.4 132.5,391.6 133.1,391.2 133.6,391.0 134.2,391.4 134.7,391.4 135.3,391.0 135.8,390.6 136.3,389.9 136.9,389.1 137.4,388.1 138.0,387.9 138.5,387.4 139.1,386.7 139.6,385.9 140.1,385.6 140.7,384.3 141.2,382.8 141.8,382.0 142.3,380.8 142.9,379.3 143.4,378.2 144.0,376.8 144.5,375.2 145.0,374.6 145.6,374.4 146.1,373.9 146.7,373.1 147.2,372.4 147.8,372.3 148.3,372.9 148.8,373.7 149.4,374.2 149.9,375.5 150.5,377.6 151.0,379.1 151.6,380.6 152.1,382.3 152.6,384.3 153.2,386.6 153.7,388.1 154.3,389.0 154.8,390.5 155.4,393.2 155.9,395.2 156.4,396.8 157.0,398.2 157.5,399.0 158.1,400.7 158.6,402.8 159.2,404.0 159.7,405.1 160.2,405.6 160.8,406.4 161.3,407.3 161.9,407.8 162.4,408.5 163.0,409.3 163.5,410.0 164.0,410.8 164.6,411.2 165.1,411.0 165.7,411.4 166.2,412.0 166.8,412.6 167.3,412.8 167.8,413.5 168.4,414.0 168.9,414.0 169.5,413.8 170.0,414.0 170.6,414.2 171.1,414.7 171.6,414.9 172.2,414.4 172.7,414.5 173.3,414.9 173.8,415.2 174.4,415.7 174.9,415.5 175.4,415.4 176.0,415.4 176.5,416.1 177.1,416.0 177.6,416.1 178.2,415.8 178.7,415.1 179.2,415.1 179.8,415.5 180.3,416.1 180.9,416.1 181.4,416.3 182.0,416.4 182.5,416.5 183.0,416.7 183.6,416.4 184.1,415.9 184.7,416.3 185.2,416.9 185.8,416.6 186.3,417.1 186.8,417.3 187.4,416.7 187.9,416.6 188.5,416.4 189.0,416.8 189.6,416.5 190.1,416.3 190.6,416.6 191.2,416.7 191.7,416.8 192.3,417.0 192.8,417.0 193.4,417.0 193.9,417.6 194.4,418.1 195.0,417.4 195.5,416.9 196.1,416.9 196.6,417.3 197.2,417.3 197.7,417.1 198.3,416.6 198.8,416.7 199.3,417.0 199.9,417.6 200.4,417.2 201.0,416.7 201.5,417.5 202.1,418.0 202.6,417.7 203.1,416.7 203.7,417.3 204.2,417.8"/>
<polyline fill="none" stroke="#b2dbe0" stroke-width="1.2" stroke-linejoin="round" points="21.8,437.0 22.3,437.0 22.9,436.8 23.4,436.5 23.9,436.5 24.5,436.5 25.0,436.8 25.6,437.1 26.1,436.6 26.7,436.4 27.2,436.7 27.7,436.7 28.3,436.4 28.8,436.1 29.4,436.3 29.9,436.4 30.5,435.8 31.0,435.7 31.5,435.3 32.1,435.2 32.6,435.2 33.2,435.5 33.7,435.4 34.3,435.7 34.8,435.7 35.4,435.3 35.9,434.6 36.4,435.0 37.0,435.3 37.5,435.2 38.1,434.7 38.6,434.7 39.2,434.6 39.7,434.7 40.2,435.1 40.8,434.7 41.3,434.7 41.9,434.9 42.4,434.5 43.0,434.4 43.5,434.4 44.0,434.2 44.6,433.8 45.1,434.1 45.7,434.3 46.2,433.6 46.8,433.9 47.3,433.7 47.8,433.6 48.4,434.1 48.9,433.6 49.5,432.9 50.0,433.0 50.6,433.1 51.1,432.9 51.6,432.9 52.2,432.7 52.7,432.8 53.3,432.7 53.8,432.1 54.4,431.9 54.9,431.7 55.4,431.5 56.0,431.1 56.5,431.0 57.1,431.2 57.6,431.4 58.2,431.2 58.7,430.3 59.2,430.2 59.8,430.2 60.3,429.5 60.9,429.5 61.4,429.7 62.0,429.9 62.5,429.5 63.0,428.9 63.6,428.5 64.1,428.5 64.7,428.6 65.2,427.9 65.8,427.5 66.3,427.4 66.8,427.0 67.4,426.5 67.9,426.0 68.5,425.9 69.0,425.8 69.6,425.9 70.1,425.5 70.6,425.0 71.2,424.8 71.7,424.4 72.3,424.3 72.8,423.9 73.4,423.5 73.9,422.9 74.4,422.7 75.0,421.9 75.5,421.5 76.1,421.7 76.6,421.5 77.2,421.8 77.7,422.0 78.2,420.9 78.8,420.5 79.3,420.5 79.9,420.4 80.4,419.9 81.0,419.6 81.5,419.6 82.0,419.2 82.6,418.5 83.1,418.3 83.7,418.1 84.2,417.6 84.8,417.5 85.3,417.1 85.8,417.2 86.4,416.8 86.9,416.3 87.5,415.8 88.0,415.3 88.6,414.5 89.1,414.4 89.7,414.4 90.2,413.7 90.7,413.8 91.3,413.2 91.8,413.2 92.4,412.8 92.9,412.7 93.5,412.2 94.0,411.6 94.5,412.0 95.1,411.9 95.6,411.1 96.2,410.5 96.7,410.1 97.3,409.7 97.8,409.7 98.3,409.1 98.9,408.7 99.4,408.1 100.0,407.7 100.5,407.4 101.1,407.7 101.6,407.4 102.1,407.3 102.7,406.8 103.2,406.3 103.8,406.2 104.3,406.1 104.9,406.2 105.4,406.2 105.9,406.1 106.5,405.9 107.0,406.3 107.6,407.1 108.1,406.7 108.7,406.7 109.2,407.4 109.7,407.8 110.3,407.3 110.8,407.6 111.4,407.7 111.9,407.9 112.5,408.7 113.0,409.0 113.5,409.2 114.1,409.3 114.6,409.8 115.2,409.9 115.7,410.0 116.3,410.0 116.8,410.3 117.3,411.1 117.9,411.1 118.4,411.2 119.0,411.3 119.5,411.3 120.1,411.5 120.6,411.9 121.1,411.9 121.7,412.1 122.2,412.4 122.8,412.9 123.3,413.0 123.9,412.8 124.4,412.5 124.9,412.5 125.5,413.3 126.0,413.5 126.6,413.2 127.1,413.4 127.7,413.5 128.2,413.5 128.7,413.3 129.3,412.9 129.8,412.9 130.4,412.3 130.9,412.3 131.5,412.2 132.0,412.0 132.5,412.0 133.1,411.3 133.6,409.9 134.2,409.3 134.7,409.4 135.3,408.7 135.8,408.4 136.3,408.0 136.9,406.7 137.4,406.0 138.0,406.2 138.5,405.9 139.1,405.1 139.6,404.3 140.1,403.0 140.7,401.8 141.2,401.0 141.8,399.7 142.3,398.4 142.9,397.8 143.4,396.7 144.0,395.5 144.5,394.1 145.0,393.1 145.6,392.2 146.1,391.6 146.7,391.3 147.2,390.9 147.8,391.0 148.3,391.6 148.8,392.4 149.4,392.7 149.9,394.2 150.5,395.6 151.0,397.1 151.6,398.5 152.1,400.6 152.6,402.8 153.2,404.4 153.7,405.9 154.3,407.5 154.8,409.6 155.4,411.0 155.9,412.2 156.4,414.3 157.0,415.8 157.5,417.4 158.1,420.0 158.6,422.4 159.2,423.3 159.7,423.9 160.2,424.8 160.8,426.0 161.3,426.5 161.9,427.0 162.4,427.5 163.0,428.1 163.5,428.9 164.0,429.3 164.6,429.5 165.1,429.7 165.7,430.3 166.2,430.6 166.8,431.2 167.3,431.0 167.8,431.5 168.4,431.7 168.9,431.9 169.5,432.9 170.0,433.1 170.6,432.8 171.1,433.1 171.6,432.9 172.2,432.3 172.7,433.0 173.3,433.3 173.8,433.3 174.4,433.1 174.9,433.3 175.4,433.7 176.0,434.1 176.5,434.0 177.1,434.1 177.6,434.4 178.2,434.0 178.7,433.7 179.2,433.7 179.8,434.6 180.3,434.8 180.9,434.8 181.4,434.7 182.0,434.5 182.5,434.5 183.0,434.4 183.6,434.4 184.1,434.7 184.7,435.2 185.2,435.0 185.8,434.7 186.3,434.5 186.8,434.7 187.4,435.3 187.9,435.2 188.5,434.9 189.0,434.7 189.6,434.5 190.1,434.9 190.6,435.2 191.2,435.0 191.7,434.9 192.3,435.0 192.8,435.0 193.4,434.6 193.9,434.9 194.4,435.0 195.0,435.4 195.5,435.2 196.1,435.6 196.6,435.9 197.2,435.4 197.7,435.2 198.3,435.4 198.8,435.3 199.3,435.2 199.9,435.7 200.4,436.1 201.0,435.6 201.5,435.3 202.1,435.2 202.6,435.3 203.1,435.0 203.7,435.1 204.2,435.8"/>
<polyline fill="none" stroke="#d0e9ec" stroke-width="1.2" stroke-linejoin="round" points="21.8,453.6 22.3,453.5 22.9,453.6 23.4,453.7 23.9,453.4 24.5,453.7 25.0,453.9 25.6,454.4 26.1,454.6 26.7,454.7 27.2,454.4 27.7,454.1 28.3,454.3 28.8,454.4 29.4,453.8 29.9,453.9 30.5,453.9 31.0,454.1 31.5,453.5 32.1,453.5 32.6,453.7 33.2,453.5 33.7,453.0 34.3,453.3 34.8,453.3 35.4,453.2 35.9,453.2 36.4,453.1 37.0,452.8 37.5,453.3 38.1,452.7 38.6,452.2 39.2,452.9 39.7,453.3 40.2,453.0 40.8,453.4 41.3,453.3 41.9,452.3 42.4,451.6 43.0,452.0 43.5,452.7 44.0,452.2 44.6,451.7 45.1,451.7 45.7,452.1 46.2,452.3 46.8,452.6 47.3,452.4 47.8,451.8 48.4,451.7 48.9,451.5 49.5,451.6 50.0,451.3 50.6,451.4 51.1,452.2 51.6,451.8 52.2,451.9 52.7,452.4 53.3,451.8 53.8,451.3 54.4,451.0 54.9,450.9 55.4,451.2 56.0,451.1 56.5,451.3 57.1,450.7 57.6,450.4 58.2,450.3 58.7,450.5 59.2,450.5 59.8,450.5 60.3,450.0 60.9,450.1 61.4,450.3 62.0,449.7 62.5,449.7 63.0,449.8 63.6,449.3 64.1,448.5 64.7,448.2 65.2,449.1 65.8,448.8 66.3,448.5 66.8,448.1 67.4,448.3 67.9,447.8 68.5,447.2 69.0,446.8 69.6,446.8 70.1,446.4 70.6,446.1 71.2,445.5 71.7,445.6 72.3,445.6 72.8,445.1 73.4,445.2 73.9,445.3 74.4,444.7 75.0,444.3 75.5,444.2 76.1,444.2 76.6,443.4 77.2,443.3 77.7,443.2 78.2,443.1 78.8,442.7 79.3,442.4 79.9,442.9 80.4,442.2 81.0,441.3 81.5,441.1 82.0,441.2 82.6,441.0 83.1,440.4 83.7,440.4 84.2,439.7 84.8,439.6 85.3,440.1 85.8,440.1 86.4,439.3 86.9,439.0 87.5,439.0 88.0,438.3 88.6,438.2 89.1,438.2 89.7,438.1 90.2,437.6 90.7,437.2 91.3,437.0 91.8,436.5 92.4,436.6 92.9,436.0 93.5,435.6 94.0,435.6 94.5,435.6 95.1,435.5 95.6,435.1 96.2,435.1 96.7,434.9 97.3,434.2 97.8,433.7 98.3,433.9 98.9,433.3 99.4,432.3 100.0,432.3 100.5,432.3 101.1,431.8 101.6,431.5 102.1,431.3 102.7,431.7 103.2,431.7 103.8,431.7 104.3,431.9 104.9,431.4 105.4,431.5 105.9,431.9 106.5,431.4 107.0,431.5 107.6,431.3 108.1,431.9 108.7,432.6 109.2,432.2 109.7,432.1 110.3,432.8 110.8,432.4 111.4,432.4 111.9,432.6 112.5,432.5 113.0,433.4 113.5,433.9 114.1,433.8 114.6,433.6 115.2,433.7 115.7,433.7 116.3,433.0 116.8,433.7 117.3,434.0 117.9,433.7 118.4,434.3 119.0,434.5 119.5,434.6 120.1,434.8 120.6,435.1 121.1,435.1 121.7,434.8 122.2,435.1 122.8,435.3 123.3,435.4 123.9,435.5 124.4,436.0 124.9,436.4 125.5,436.6 126.0,436.8 126.6,436.5 127.1,435.9 127.7,435.6 128.2,435.8 128.7,436.0 129.3,435.9 129.8,436.1 130.4,436.1 130.9,435.5 131.5,435.4 132.0,434.8 132.5,434.1 133.1,433.9 133.6,433.7 134.2,433.3 134.7,433.7 135.3,433.7 135.8,432.7 136.3,432.6 136.9,432.8 137.4,432.3 138.0,431.7 138.5,431.4 139.1,431.2 139.6,430.3 140.1,428.9 140.7,427.5 141.2,426.8 141.8,426.8 142.3,426.1 142.9,425.5 143.4,424.2 144.0,422.8 144.5,422.4 145.0,421.8 145.6,420.6 146.1,420.2 146.7,420.1 147.2,419.0 147.8,419.0 148.3,419.9 148.8,420.2 149.4,420.4 149.9,421.4 150.5,423.3 151.0,425.0 151.6,426.4 152.1,427.8 152.6,429.4 153.2,430.4 153.7,431.4 154.3,433.1 154.8,433.9 155.4,435.4 155.9,437.2 156.4,439.0 157.0,440.0 157.5,441.3 158.1,442.4 158.6,444.2 159.2,445.5 159.7,446.2 160.2,446.4 160.8,447.0 161.3,447.3 161.9,447.8 162.4,448.5 163.0,449.2 163.5,449.3 164.0,449.5 164.6,449.7 165.1,449.9 165.7,450.3 166.2,450.8 166.8,451.2 167.3,451.2 167.8,451.6 168.4,451.6 168.9,451.9 169.5,452.0 170.0,452.1 170.6,452.3 171.1,452.8 171.6,452.9 172.2,453.0 172.7,452.7 173.3,452.9 173.8,453.2 174.4,452.5 174.9,452.6 175.4,453.2 176.0,453.7 176.5,453.4 177.1,453.7 177.6,454.0 178.2,453.5 178.7,453.6 179.2,454.0 179.8,453.5 180.3,453.3 180.9,453.8 181.4,453.8 182.0,454.2 182.5,453.9 183.0,453.4 183.6,453.8 184.1,453.9 184.7,453.8 185.2,454.1 185.8,453.4 186.3,453.3 186.8,453.8 187.4,454.1 187.9,453.6 188.5,453.6 189.0,453.6 189.6,453.5 190.1,453.7 190.6,453.7 191.2,454.0 191.7,454.2 192.3,453.9 192.8,453.8 193.4,453.8 193.9,453.7 194.4,453.6 195.0,453.8 195.5,454.2 196.1,454.4 196.6,455.3 197.2,454.5 197.7,454.3 198.3,453.9 198.8,454.1 199.3,454.2 199.9,454.5 200.4,454.9 201.0,454.4 201.5,454.1 202.1,454.3 202.6,454.2 203.1,454.5 203.7,455.1 204.2,455.0"/>
<polyline fill="none" stroke="#1b6cb2" stroke-width="1.2" stroke-linejoin="round" points="242.7,315.3 243.2,315.6 243.8,315.5 244.3,314.8 244.8,314.6 245.4,314.6 245.9,314.8 246.5,314.7 247.0,314.6 247.6,314.1 248.1,314.7 248.6,314.6 249.2,314.5 249.7,314.2 250.3,314.1 250.8,314.3 251.4,314.3 251.9,314.0 252.4,313.9 253.0,314.0 253.5,313.4 254.1,313.2 254.6,313.6 255.2,313.3 255.7,312.8 256.3,313.0 256.8,313.1 257.3,312.8 257.9,312.8 258.4,313.3 259.0,313.6 259.5,313.2 260.1,313.0 260.6,313.3 261.1,313.4 261.7,313.2 262.2,313.4 262.8,313.5 263.3,313.0 263.9,312.8 264.4,313.0 264.9,313.2 265.5,313.2 266.0,312.5 266.6,312.4 267.1,312.3 267.7,312.2 268.2,312.7 268.7,312.8 269.3,312.6 269.8,313.1 270.4,313.0 270.9,312.6 271.5,312.2 272.0,311.6 272.5,311.0 273.1,311.8 273.6,312.2 274.2,311.8 274.7,312.3 275.3,312.5 275.8,312.7 276.3,312.5 276.9,312.5 277.4,312.6 278.0,312.4 278.5,312.6 279.1,312.6 279.6,312.6 280.1,312.5 280.7,312.8 281.2,312.7 281.8,312.5 282.3,312.7 282.9,313.0 283.4,312.9 283.9,312.1 284.5,312.4 285.0,312.5 285.6,312.1 286.1,312.0 286.7,312.3 287.2,311.8 287.7,312.2 288.3,312.2 288.8,311.4 289.4,311.4 289.9,311.3 290.5,311.7 291.0,312.3 291.5,312.1 292.1,310.9 292.6,310.9 293.2,311.5 293.7,311.7 294.3,311.2 294.8,310.7 295.3,310.8 295.9,310.6 296.4,310.4 297.0,310.2 297.5,310.4 298.1,310.3 298.6,310.1 299.1,309.8 299.7,309.4 300.2,309.6 300.8,309.9 301.3,309.4 301.9,309.0 302.4,309.5 302.9,309.6 303.5,309.7 304.0,309.0 304.6,308.3 305.1,308.1 305.7,308.9 306.2,309.1 306.8,308.0 307.3,307.6 307.8,307.7 308.4,307.3 308.9,307.1 309.5,307.1 310.0,307.2 310.6,307.2 311.1,306.9 311.6,306.8 312.2,306.3 312.7,306.0 313.3,305.1 313.8,305.1 314.4,305.5 314.9,305.2 315.4,305.1 316.0,305.1 316.5,305.0 317.1,304.6 317.6,304.2 318.2,303.5 318.7,302.9 319.2,302.6 319.8,302.3 320.3,301.9 320.9,301.8 321.4,301.8 322.0,301.6 322.5,301.0 323.0,300.4 323.6,300.7 324.1,300.9 324.7,301.0 325.2,300.6 325.8,300.1 326.3,300.1 326.8,300.8 327.4,300.8 327.9,301.0 328.5,300.9 329.0,300.2 329.6,300.5 330.1,300.8 330.6,301.1 331.2,301.3 331.7,301.5 332.3,301.5 332.8,301.4 333.4,302.0 333.9,302.3 334.4,302.8 335.0,303.1 335.5,303.8 336.1,304.2 336.6,304.3 337.2,304.4 337.7,304.5 338.2,304.5 338.8,304.7 339.3,304.9 339.9,305.3 340.4,305.6 341.0,305.7 341.5,305.6 342.0,306.1 342.6,306.0 343.1,306.1 343.7,306.4 344.2,306.6 344.8,306.9 345.3,306.8 345.8,306.7 346.4,307.1 346.9,307.8 347.5,307.6 348.0,307.3 348.6,307.4 349.1,307.4 349.6,308.0 350.2,307.5 350.7,307.8 351.3,307.8 351.8,307.2 352.4,307.6 352.9,307.9 353.4,307.6 354.0,307.5 354.5,307.4 355.1,307.1 355.6,306.9 356.2,306.7 356.7,306.5 357.2,306.1 357.8,306.1 358.3,305.6 358.9,305.3 359.4,305.6 360.0,305.8 360.5,305.0 361.1,304.0 361.6,303.4 362.1,302.5 362.7,301.6 363.2,300.7 363.8,299.3 364.3,298.9 364.9,298.0 365.4,297.2 365.9,296.3 366.5,295.7 367.0,295.6 367.6,296.0 368.1,296.2 368.7,295.9 369.2,296.2 369.7,296.1 370.3,296.3 370.8,297.5 371.4,298.6 371.9,299.3 372.5,300.4 373.0,301.3 373.5,301.7 374.1,302.2 374.6,303.3 375.2,304.0 375.7,304.8 376.3,306.0 376.8,306.9 377.3,307.1 377.9,307.9 378.4,308.8 379.0,309.4 379.5,310.0 380.1,310.2 380.6,311.1 381.1,312.0 381.7,311.9 382.2,311.8 382.8,312.3 383.3,312.8 383.9,312.6 384.4,312.6 384.9,313.0 385.5,312.7 386.0,313.0 386.6,313.0 387.1,313.0 387.7,313.7 388.2,313.6 388.7,313.3 389.3,313.7 389.8,313.5 390.4,313.1 390.9,313.5 391.5,314.1 392.0,314.3 392.5,314.3 393.1,314.3 393.6,314.4 394.2,314.5 394.7,314.8 395.3,314.7 395.8,314.7 396.3,314.6 396.9,314.2 397.4,314.4 398.0,315.1 398.5,314.9 399.1,314.7 399.6,314.8 400.1,314.7 400.7,314.8 401.2,314.7 401.8,314.7 402.3,314.6 402.9,315.2 403.4,314.8 403.9,314.4 404.5,314.8 405.0,315.0 405.6,315.0 406.1,314.8 406.7,315.6 407.2,316.3 407.7,315.2 408.3,315.2 408.8,315.2 409.4,315.1 409.9,314.6 410.5,314.8 411.0,315.4 411.5,315.6 412.1,315.9 412.6,315.4 413.2,315.8 413.7,316.4 414.3,315.5 414.8,315.1 415.4,315.4 415.9,315.6 416.4,315.8 417.0,315.6 417.5,315.4 418.1,315.9 418.6,316.6 419.2,316.0 419.7,314.8 420.2,315.2 420.8,315.4 421.3,315.8 421.9,315.9 422.4,316.4 423.0,316.3 423.5,316.1 424.0,315.8 424.6,315.7 425.1,315.8"/>
<polyline fill="none" stroke="#2a77b9" stroke-width="1.2" stroke-linejoin="round" points="242.7,337.2 243.2,337.5 243.8,337.4 244.3,337.4 244.8,337.3 245.4,336.5 245.9,336.2 246.5,336.1 247.0,336.5 247.6,336.8 248.1,336.6 248.6,336.4 249.2,335.8 249.7,336.0 250.3,336.1 250.8,336.8 251.4,336.7 251.9,336.5 252.4,336.1 253.0,336.2 253.5,336.1 254.1,335.7 254.6,335.6 255.2,335.5 255.7,335.4 256.3,335.3 256.8,335.3 257.3,335.3 257.9,335.4 258.4,335.0 259.0,335.3 259.5,335.1 260.1,334.8 260.6,334.6 261.1,334.9 261.7,335.0 262.2,335.0 262.8,334.8 263.3,335.0 263.9,335.5 264.4,335.0 264.9,334.7 265.5,334.9 266.0,334.7 266.6,334.8 267.1,334.7 267.7,334.1 268.2,333.5 268.7,333.9 269.3,334.1 269.8,333.7 270.4,333.5 270.9,332.9 271.5,331.5 272.0,330.4 272.5,330.2 273.1,331.5 273.6,332.7 274.2,333.6 274.7,334.1 275.3,333.8 275.8,333.7 276.3,333.8 276.9,333.3 277.4,333.0 278.0,333.3 278.5,333.8 279.1,333.7 279.6,333.0 280.1,332.8 280.7,333.2 281.2,333.4 281.8,333.5 282.3,333.8 282.9,333.9 283.4,333.6 283.9,333.3 284.5,332.7 285.0,332.6 285.6,333.0 286.1,333.2 286.7,333.2 287.2,333.1 287.7,333.0 288.3,332.6 288.8,331.8 289.4,331.8 289.9,332.1 290.5,331.9 291.0,331.4 291.5,331.7 292.1,331.3 292.6,331.0 293.2,331.1 293.7,330.8 294.3,330.2 294.8,330.5 295.3,330.1 295.9,329.6 296.4,329.2 297.0,328.6 297.5,328.7 298.1,328.8 298.6,328.4 299.1,328.2 299.7,328.1 300.2,328.0 300.8,327.9 301.3,327.4 301.9,327.0 302.4,327.1 302.9,327.1 303.5,326.2 304.0,325.6 304.6,325.0 305.1,325.3 305.7,325.1 306.2,324.8 306.8,323.9 307.3,323.3 307.8,323.4 308.4,323.0 308.9,322.0 309.5,321.5 310.0,321.6 310.6,321.5 311.1,321.6 311.6,320.5 312.2,319.8 312.7,319.4 313.3,318.6 313.8,318.5 314.4,318.7 314.9,317.8 315.4,316.9 316.0,316.2 316.5,316.2 317.1,315.8 317.6,315.0 318.2,314.3 318.7,313.8 319.2,313.2 319.8,312.5 320.3,311.9 320.9,310.7 321.4,310.2 322.0,310.2 322.5,309.7 323.0,309.1 323.6,309.2 324.1,309.1 324.7,308.6 325.2,308.3 325.8,308.2 326.3,307.7 326.8,307.1 327.4,307.4 327.9,307.7 328.5,307.2 329.0,307.4 329.6,307.5 330.1,307.5 330.6,307.8 331.2,308.5 331.7,309.0 332.3,309.2 332.8,309.2 333.4,309.8 333.9,310.6 334.4,311.3 335.0,311.7 335.5,312.2 336.1,312.7 336.6,312.8 337.2,312.7 337.7,313.1 338.2,313.1 338.8,312.9 339.3,313.8 339.9,315.2 340.4,314.9 341.0,314.8 341.5,315.9 342.0,317.1 342.6,317.4 343.1,317.7 343.7,318.0 344.2,318.6 344.8,319.5 345.3,319.8 345.8,319.9 346.4,320.5 346.9,320.8 347.5,320.7 348.0,321.0 348.6,321.1 349.1,321.1 349.6,321.5 350.2,321.2 350.7,320.7 351.3,320.3 351.8,320.5 352.4,321.0 352.9,320.5 353.4,320.4 354.0,320.2 354.5,320.1 355.1,319.8 355.6,319.2 356.2,318.9 356.7,318.8 357.2,318.5 357.8,318.0 358.3,317.7 358.9,317.7 359.4,317.5 360.0,316.7 360.5,315.6 361.1,314.9 361.6,314.0 362.1,313.2 362.7,312.4 363.2,310.7 363.8,309.3 364.3,308.0 364.9,307.0 365.4,306.2 365.9,305.8 366.5,304.7 367.0,304.0 367.6,303.9 368.1,303.2 368.7,303.6 369.2,304.4 369.7,305.0 370.3,305.8 370.8,307.0 371.4,308.6 371.9,310.1 372.5,311.0 373.0,312.9 373.5,314.7 374.1,315.7 374.6,316.4 375.2,317.7 375.7,318.7 376.3,320.1 376.8,321.2 377.3,321.5 377.9,321.7 378.4,322.8 379.0,323.7 379.5,325.0 380.1,326.0 380.6,326.5 381.1,327.5 381.7,328.0 382.2,328.0 382.8,327.9 383.3,328.3 383.9,328.6 384.4,329.5 384.9,330.0 385.5,330.6 386.0,330.5 386.6,330.3 387.1,331.3 387.7,332.0 388.2,332.3 388.7,331.9 389.3,332.0 389.8,332.5 390.4,332.5 390.9,332.5 391.5,333.2 392.0,334.4 392.5,333.9 393.1,333.7 393.6,334.0 394.2,334.6 394.7,335.2 395.3,335.3 395.8,335.3 396.3,335.1 396.9,335.1 397.4,334.8 398.0,334.9 398.5,335.8 399.1,335.6 399.6,335.7 400.1,335.5 400.7,335.5 401.2,335.4 401.8,335.2 402.3,335.7 402.9,336.1 403.4,336.3 403.9,336.3 404.5,336.4 405.0,336.3 405.6,335.9 406.1,335.5 406.7,336.0 407.2,336.8 407.7,336.6 408.3,336.6 408.8,336.4 409.4,336.5 409.9,337.2 410.5,337.1 411.0,337.2 411.5,336.9 412.1,336.4 412.6,336.0 413.2,336.4 413.7,336.0 414.3,336.1 414.8,337.1 415.4,337.3 415.9,337.2 416.4,337.0 417.0,337.0 417.5,337.1 418.1,337.1 418.6,337.1 419.2,337.0 419.7,336.4 420.2,337.0 420.8,337.1 421.3,337.4 421.9,337.5 422.4,337.1 423.0,337.4 423.5,337.4 424.0,336.9 424.6,336.9 425.1,337.1"/>
<polyline fill="none" stroke="#3b84c1" stroke-width="1.2" stroke-linejoin="round" points="242.7,354.4 243.2,353.3 243.8,354.0 244.3,354.2 244.8,354.4 245.4,354.3 245.9,354.4 246.5,353.9 247.0,353.6 247.6,353.8 248.1,353.8 248.6,353.4 249.2,353.5 249.7,353.7 250.3,353.7 250.8,353.2 251.4,352.9 251.9,352.8 252.4,353.5 253.0,353.4 253.5,353.6 254.1,353.6 254.6,353.9 255.2,353.7 255.7,353.4 256.3,353.3 256.8,352.8 257.3,352.9 257.9,352.4 258.4,352.8 259.0,353.1 259.5,352.8 260.1,352.4 260.6,352.2 261.1,352.4 261.7,352.8 262.2,352.8 262.8,352.2 263.3,352.0 263.9,352.2 264.4,351.8 264.9,351.8 265.5,352.0 266.0,352.3 266.6,352.3 267.1,352.3 267.7,352.1 268.2,351.9 268.7,352.2 269.3,352.4 269.8,352.1 270.4,352.1 270.9,352.0 271.5,352.2 272.0,352.2 272.5,352.1 273.1,352.1 273.6,352.2 274.2,351.7 274.7,351.4 275.3,351.4 275.8,351.6 276.3,351.3 276.9,351.3 277.4,351.7 278.0,351.9 278.5,351.4 279.1,350.4 279.6,350.5 280.1,350.6 280.7,350.6 281.2,351.1 281.8,351.6 282.3,351.1 282.9,350.8 283.4,351.1 283.9,351.0 284.5,350.8 285.0,350.6 285.6,350.7 286.1,350.6 286.7,349.9 287.2,349.9 287.7,350.7 288.3,350.7 288.8,350.1 289.4,349.8 289.9,349.8 290.5,349.6 291.0,349.9 291.5,350.4 292.1,350.1 292.6,350.1 293.2,349.7 293.7,349.7 294.3,349.7 294.8,348.9 295.3,348.9 295.9,349.0 296.4,349.2 297.0,349.4 297.5,348.9 298.1,348.2 298.6,348.1 299.1,347.9 299.7,348.1 300.2,348.6 300.8,347.9 301.3,347.7 301.9,347.6 302.4,347.8 302.9,347.7 303.5,347.4 304.0,347.3 304.6,347.3 305.1,346.6 305.7,346.2 306.2,346.2 306.8,346.6 307.3,346.1 307.8,345.6 308.4,345.9 308.9,346.4 309.5,345.8 310.0,345.6 310.6,345.4 311.1,344.9 311.6,344.5 312.2,344.3 312.7,344.0 313.3,343.6 313.8,344.6 314.4,344.2 314.9,343.4 315.4,342.8 316.0,342.5 316.5,342.5 317.1,342.1 317.6,341.6 318.2,340.9 318.7,341.1 319.2,341.2 319.8,340.4 320.3,340.1 320.9,339.7 321.4,339.7 322.0,339.3 322.5,338.6 323.0,338.1 323.6,338.1 324.1,337.8 324.7,337.4 325.2,337.5 325.8,337.3 326.3,336.8 326.8,337.2 327.4,338.0 327.9,337.5 328.5,337.4 329.0,337.8 329.6,337.0 330.1,336.2 330.6,336.4 331.2,336.9 331.7,337.8 332.3,338.2 332.8,337.8 333.4,338.5 333.9,338.5 334.4,339.0 335.0,339.5 335.5,339.7 336.1,339.8 336.6,339.9 337.2,339.9 337.7,340.5 338.2,341.1 338.8,341.6 339.3,342.2 339.9,342.1 340.4,342.2 341.0,342.6 341.5,342.4 342.0,341.9 342.6,342.1 343.1,343.4 343.7,343.8 344.2,344.0 344.8,344.0 345.3,344.5 345.8,345.1 346.4,344.8 346.9,344.4 347.5,344.8 348.0,345.4 348.6,344.7 349.1,344.0 349.6,344.1 350.2,344.7 350.7,345.4 351.3,345.2 351.8,344.8 352.4,344.6 352.9,344.8 353.4,344.8 354.0,344.5 354.5,344.4 355.1,344.4 355.6,344.6 356.2,343.7 356.7,343.7 357.2,343.6 357.8,343.8 358.3,343.6 358.9,343.5 359.4,343.4 360.0,343.1 360.5,342.6 361.1,341.6 361.6,341.4 362.1,340.7 362.7,340.2 363.2,339.8 363.8,339.2 364.3,338.2 364.9,336.4 365.4,335.9 365.9,335.8 366.5,335.0 367.0,334.9 367.6,335.2 368.1,334.8 368.7,334.3 369.2,334.9 369.7,335.5 370.3,335.9 370.8,336.5 371.4,337.2 371.9,337.7 372.5,338.8 373.0,339.7 373.5,340.8 374.1,341.6 374.6,341.9 375.2,342.8 375.7,343.4 376.3,343.9 376.8,344.5 377.3,344.8 377.9,345.3 378.4,346.0 379.0,346.6 379.5,347.1 380.1,346.7 380.6,347.3 381.1,347.5 381.7,348.2 382.2,348.8 382.8,349.1 383.3,349.5 383.9,349.3 384.4,348.6 384.9,349.2 385.5,350.4 386.0,350.7 386.6,350.2 387.1,350.0 387.7,350.8 388.2,350.2 388.7,350.6 389.3,350.9 389.8,350.9 390.4,350.6 390.9,351.0 391.5,351.5 392.0,351.1 392.5,350.9 393.1,351.3 393.6,351.5 394.2,351.5 394.7,351.4 395.3,351.8 395.8,351.7 396.3,351.4 396.9,351.8 397.4,351.9 398.0,351.8 398.5,351.3 399.1,351.6 399.6,352.2 400.1,352.4 400.7,352.3 401.2,352.3 401.8,352.5 402.3,352.7 402.9,352.9 403.4,352.5 403.9,352.2 404.5,352.1 405.0,351.7 405.6,352.1 406.1,352.2 406.7,352.4 407.2,352.6 407.7,352.3 408.3,351.9 408.8,352.1 409.4,352.2 409.9,352.4 410.5,352.5 411.0,352.3 411.5,352.8 412.1,353.0 412.6,352.7 413.2,352.6 413.7,352.1 414.3,352.4 414.8,352.7 415.4,352.1 415.9,352.2 416.4,352.4 417.0,353.1 417.5,353.1 418.1,352.6 418.6,352.4 419.2,351.9 419.7,352.7 420.2,353.1 420.8,352.9 421.3,352.1 421.9,352.5 422.4,352.3 423.0,351.7 423.5,352.2 424.0,352.7 424.6,353.0 425.1,352.8"/>
<polyline fill="none" stroke="#4e91c9" stroke-width="1.2" stroke-linejoin="round" points="242.7,374.8 243.2,374.2 243.8,373.7 244.3,373.4 244.8,374.2 245.4,374.8 245.9,374.6 246.5,374.6 247.0,374.6 247.6,374.4 248.1,374.9 248.6,374.2 249.2,374.4 249.7,375.0 250.3,374.3 250.8,373.9 251.4,373.8 251.9,373.7 252.4,373.1 253.0,373.5 253.5,374.2 254.1,373.9 254.6,373.6 255.2,373.7 255.7,373.7 256.3,373.6 256.8,373.5 257.3,373.0 257.9,373.3 258.4,373.2 259.0,373.4 259.5,373.2 260.1,372.8 260.6,372.9 261.1,372.9 261.7,373.3 262.2,373.2 262.8,373.1 263.3,372.8 263.9,373.3 264.4,373.1 264.9,373.3 265.5,373.1 266.0,372.5 266.6,372.6 267.1,372.6 267.7,372.9 268.2,373.2 268.7,373.1 269.3,372.8 269.8,372.3 270.4,372.4 270.9,372.7 271.5,372.7 272.0,372.3 272.5,372.5 273.1,372.3 273.6,371.7 274.2,371.8 274.7,372.1 275.3,371.7 275.8,371.7 276.3,372.3 276.9,372.2 277.4,372.0 278.0,372.0 278.5,371.8 279.1,371.6 279.6,371.7 280.1,372.0 280.7,372.2 281.2,371.7 281.8,371.6 282.3,371.4 282.9,371.2 283.4,371.6 283.9,371.7 284.5,371.4 285.0,371.5 285.6,371.4 286.1,371.7 286.7,371.7 287.2,370.9 287.7,370.3 288.3,370.5 288.8,370.3 289.4,370.2 289.9,370.7 290.5,371.1 291.0,370.7 291.5,370.2 292.1,369.7 292.6,369.7 293.2,369.7 293.7,370.0 294.3,369.9 294.8,369.8 295.3,369.7 295.9,369.7 296.4,369.9 297.0,369.7 297.5,369.3 298.1,369.3 298.6,369.4 299.1,369.5 299.7,369.2 300.2,369.1 300.8,368.5 301.3,368.1 301.9,367.9 302.4,368.2 302.9,367.7 303.5,367.5 304.0,367.8 304.6,367.4 305.1,367.2 305.7,367.5 306.2,367.2 306.8,367.2 307.3,366.8 307.8,366.9 308.4,366.9 308.9,366.6 309.5,366.6 310.0,365.9 310.6,365.6 311.1,365.6 311.6,365.7 312.2,365.1 312.7,364.8 313.3,364.9 313.8,364.9 314.4,364.1 314.9,363.5 315.4,363.6 316.0,363.5 316.5,363.0 317.1,362.6 317.6,361.9 318.2,362.0 318.7,361.9 319.2,361.8 319.8,361.5 320.3,361.1 320.9,360.4 321.4,360.2 322.0,359.5 322.5,359.5 323.0,359.9 323.6,359.5 324.1,358.6 324.7,358.8 325.2,358.6 325.8,358.3 326.3,358.5 326.8,358.6 327.4,358.7 327.9,358.0 328.5,358.1 329.0,358.2 329.6,358.1 330.1,359.1 330.6,359.5 331.2,359.1 331.7,359.3 332.3,359.5 332.8,359.8 333.4,359.9 333.9,360.4 334.4,360.4 335.0,361.2 335.5,361.6 336.1,362.0 336.6,361.3 337.2,361.5 337.7,361.6 338.2,362.1 338.8,362.5 339.3,362.3 339.9,362.2 340.4,362.5 341.0,363.5 341.5,364.3 342.0,364.6 342.6,364.3 343.1,364.2 343.7,364.4 344.2,364.3 344.8,364.7 345.3,365.6 345.8,365.8 346.4,365.9 346.9,366.1 347.5,366.8 348.0,366.8 348.6,366.3 349.1,366.2 349.6,366.4 350.2,367.0 350.7,367.0 351.3,366.7 351.8,367.1 352.4,366.4 352.9,365.5 353.4,365.2 354.0,365.7 354.5,365.8 355.1,365.5 355.6,365.7 356.2,365.8 356.7,365.4 357.2,365.5 357.8,365.5 358.3,364.9 358.9,364.3 359.4,364.4 360.0,364.4 360.5,364.3 361.1,363.0 361.6,362.1 362.1,362.0 362.7,361.5 363.2,360.7 363.8,360.3 364.3,359.8 364.9,359.2 365.4,358.1 365.9,357.5 366.5,357.3 367.0,357.1 367.6,357.3 368.1,357.1 368.7,357.0 369.2,357.6 369.7,357.9 370.3,358.4 370.8,359.0 371.4,359.4 371.9,360.1 372.5,360.8 373.0,361.4 373.5,362.3 374.1,363.4 374.6,363.8 375.2,364.2 375.7,365.2 376.3,365.1 376.8,365.8 377.3,366.5 377.9,367.0 378.4,366.9 379.0,367.3 379.5,367.9 380.1,368.6 380.6,368.9 381.1,369.1 381.7,369.6 382.2,370.2 382.8,370.2 383.3,370.1 383.9,369.9 384.4,370.2 384.9,370.1 385.5,370.7 386.0,370.7 386.6,370.4 387.1,370.4 387.7,370.9 388.2,371.2 388.7,371.1 389.3,371.2 389.8,371.4 390.4,371.4 390.9,371.7 391.5,372.1 392.0,372.5 392.5,372.3 393.1,372.2 393.6,372.8 394.2,372.8 394.7,372.5 395.3,372.7 395.8,372.3 396.3,372.1 396.9,372.4 397.4,373.0 398.0,372.9 398.5,372.8 399.1,372.7 399.6,372.6 400.1,372.9 400.7,373.3 401.2,373.4 401.8,372.9 402.3,373.3 402.9,373.1 403.4,372.5 403.9,373.2 404.5,373.7 405.0,373.5 405.6,373.2 406.1,372.9 406.7,372.5 407.2,373.0 407.7,373.1 408.3,372.9 408.8,373.0 409.4,373.2 409.9,373.7 410.5,372.9 411.0,372.5 411.5,372.4 412.1,372.9 412.6,373.2 413.2,373.2 413.7,373.1 414.3,373.5 414.8,373.6 415.4,373.7 415.9,373.2 416.4,372.7 417.0,373.0 417.5,373.1 418.1,373.4 418.6,373.2 419.2,373.2 419.7,373.1 420.2,372.8 420.8,373.1 421.3,373.5 421.9,373.2 422.4,373.2 423.0,373.3 423.5,373.1 424.0,373.2 424.6,373.4 425.1,373.2"/>
<polyline fill="none" stroke="#66a2d2" stroke-width="1.2" stroke-linejoin="round" points="242.7,394.6 243.2,394.7 243.8,395.1 244.3,395.0 244.8,395.2 245.4,395.1 245.9,394.6 246.5,394.9 247.0,394.9 247.6,395.4 248.1,395.0 248.6,394.5 249.2,394.5 249.7,394.6 250.3,394.7 250.8,394.9 251.4,394.8 251.9,394.9 252.4,394.5 253.0,393.9 253.5,393.3 254.1,393.3 254.6,393.9 255.2,394.2 255.7,394.2 256.3,393.7 256.8,393.5 257.3,393.3 257.9,393.0 258.4,392.7 259.0,393.3 259.5,393.2 260.1,393.2 260.6,393.4 261.1,393.1 261.7,392.8 262.2,393.4 262.8,393.4 263.3,393.0 263.9,392.4 264.4,391.9 264.9,391.9 265.5,392.3 266.0,392.5 266.6,392.4 267.1,392.9 267.7,392.7 268.2,392.7 268.7,392.4 269.3,391.9 269.8,392.1 270.4,391.8 270.9,391.2 271.5,391.2 272.0,391.0 272.5,390.9 273.1,391.0 273.6,390.6 274.2,390.9 274.7,391.0 275.3,391.2 275.8,391.4 276.3,391.7 276.9,391.4 277.4,391.0 278.0,391.4 278.5,391.6 279.1,391.0 279.6,390.3 280.1,390.3 280.7,390.4 281.2,390.0 281.8,390.1 282.3,390.1 282.9,390.5 283.4,390.5 283.9,390.1 284.5,389.7 285.0,389.9 285.6,389.6 286.1,389.6 286.7,389.9 287.2,389.3 287.7,389.0 288.3,389.6 288.8,390.0 289.4,389.9 289.9,389.6 290.5,389.5 291.0,389.0 291.5,389.4 292.1,389.3 292.6,388.4 293.2,388.0 293.7,387.4 294.3,387.4 294.8,387.6 295.3,387.2 295.9,387.3 296.4,387.4 297.0,387.3 297.5,387.5 298.1,387.5 298.6,387.0 299.1,387.0 299.7,386.9 300.2,386.2 300.8,385.5 301.3,385.1 301.9,385.8 302.4,386.1 302.9,386.0 303.5,386.3 304.0,386.0 304.6,385.5 305.1,384.9 305.7,384.5 306.2,384.6 306.8,384.6 307.3,384.3 307.8,384.0 308.4,383.9 308.9,383.8 309.5,383.1 310.0,383.2 310.6,383.4 311.1,383.5 311.6,383.3 312.2,382.7 312.7,382.3 313.3,382.1 313.8,382.5 314.4,382.3 314.9,381.8 315.4,381.1 316.0,380.9 316.5,381.2 317.1,380.8 317.6,380.7 318.2,380.5 318.7,379.4 319.2,379.1 319.8,379.4 320.3,379.1 320.9,378.5 321.4,378.3 322.0,378.0 322.5,377.9 323.0,378.0 323.6,377.9 324.1,378.0 324.7,377.9 325.2,377.8 325.8,377.2 326.3,377.1 326.8,376.6 327.4,376.4 327.9,376.8 328.5,377.6 329.0,377.6 329.6,377.5 330.1,378.5 330.6,378.9 331.2,378.7 331.7,378.9 332.3,379.2 332.8,379.5 333.4,380.5 333.9,380.3 334.4,380.3 335.0,380.5 335.5,380.6 336.1,380.9 336.6,381.5 337.2,381.4 337.7,381.7 338.2,382.3 338.8,382.9 339.3,382.8 339.9,383.1 340.4,383.6 341.0,383.6 341.5,384.0 342.0,384.6 342.6,384.7 343.1,384.7 343.7,384.9 344.2,384.4 344.8,384.0 345.3,383.8 345.8,384.2 346.4,384.4 346.9,384.3 347.5,384.8 348.0,384.7 348.6,384.3 349.1,383.6 349.6,383.8 350.2,383.6 350.7,382.9 351.3,383.2 351.8,383.1 352.4,382.7 352.9,383.3 353.4,383.8 354.0,383.2 354.5,382.5 355.1,382.6 355.6,382.8 356.2,382.3 356.7,382.3 357.2,382.2 357.8,382.2 358.3,382.1 358.9,381.4 359.4,381.6 360.0,381.3 360.5,380.7 361.1,380.2 361.6,380.4 362.1,379.9 362.7,378.9 363.2,379.0 363.8,379.1 364.3,379.0 364.9,379.0 365.4,379.1 365.9,379.6 366.5,379.5 367.0,379.2 367.6,379.6 368.1,379.7 368.7,379.1 369.2,378.7 369.7,379.5 370.3,380.2 370.8,380.1 371.4,380.9 371.9,381.9 372.5,382.7 373.0,383.2 373.5,383.6 374.1,383.9 374.6,384.3 375.2,385.2 375.7,385.7 376.3,385.6 376.8,386.1 377.3,387.2 377.9,387.6 378.4,387.3 379.0,387.5 379.5,388.4 380.1,389.3 380.6,389.8 381.1,389.8 381.7,389.5 382.2,389.9 382.8,390.2 383.3,390.5 383.9,391.5 384.4,391.2 384.9,391.1 385.5,391.2 386.0,391.7 386.6,391.9 387.1,391.7 387.7,391.7 388.2,391.6 388.7,391.6 389.3,392.0 389.8,392.4 390.4,392.4 390.9,392.2 391.5,392.0 392.0,392.6 392.5,393.0 393.1,393.3 393.6,392.7 394.2,392.2 394.7,392.2 395.3,392.7 395.8,393.1 396.3,393.1 396.9,392.7 397.4,393.0 398.0,393.6 398.5,393.4 399.1,393.2 399.6,393.1 400.1,392.7 400.7,392.8 401.2,393.3 401.8,394.0 402.3,394.0 402.9,393.7 403.4,393.8 403.9,393.9 404.5,394.0 405.0,393.6 405.6,393.8 406.1,393.9 406.7,393.4 407.2,393.6 407.7,393.9 408.3,394.0 408.8,394.1 409.4,394.2 409.9,394.4 410.5,394.5 411.0,394.4 411.5,394.6 412.1,394.0 412.6,393.9 413.2,394.0 413.7,393.6 414.3,393.3 414.8,393.5 415.4,394.2 415.9,393.8 416.4,393.7 417.0,394.6 417.5,394.4 418.1,394.1 418.6,393.8 419.2,394.0 419.7,394.0 420.2,394.1 420.8,394.1 421.3,394.0 421.9,394.0 422.4,393.8 423.0,393.8 423.5,393.8 424.0,394.2 424.6,394.5 425.1,394.4"/>
<polyline fill="none" stroke="#84b5dc" stroke-width="1.2" stroke-linejoin="round" points="242.7,412.4 243.2,412.7 243.8,412.9 244.3,413.0 244.8,413.0 245.4,412.4 245.9,412.3 246.5,411.9 247.0,411.5 247.6,411.7 248.1,411.9 248.6,411.6 249.2,411.9 249.7,412.3 250.3,412.2 250.8,412.0 251.4,411.8 251.9,411.4 252.4,411.1 253.0,411.5 253.5,411.1 254.1,411.3 254.6,411.4 255.2,411.4 255.7,411.3 256.3,411.2 256.8,411.3 257.3,410.8 257.9,411.0 258.4,410.6 259.0,411.1 259.5,410.9 260.1,411.0 260.6,411.0 261.1,410.1 261.7,410.3 262.2,410.8 262.8,411.0 263.3,411.1 263.9,410.8 264.4,410.6 264.9,410.4 265.5,410.3 266.0,410.3 266.6,410.5 267.1,410.3 267.7,410.4 268.2,410.7 268.7,410.4 269.3,409.9 269.8,409.8 270.4,409.9 270.9,409.4 271.5,408.9 272.0,409.1 272.5,409.6 273.1,409.4 273.6,409.4 274.2,409.5 274.7,409.3 275.3,409.9 275.8,409.4 276.3,409.2 276.9,409.6 277.4,408.8 278.0,408.6 278.5,408.7 279.1,408.4 279.6,408.6 280.1,408.8 280.7,408.7 281.2,408.6 281.8,408.9 282.3,409.2 282.9,408.7 283.4,407.8 283.9,408.4 284.5,408.4 285.0,408.0 285.6,407.4 286.1,407.4 286.7,407.3 287.2,407.1 287.7,407.6 288.3,407.6 288.8,407.0 289.4,406.7 289.9,407.1 290.5,407.0 291.0,406.7 291.5,406.4 292.1,406.7 292.6,406.2 293.2,406.0 293.7,405.0 294.3,405.1 294.8,404.8 295.3,403.9 295.9,404.0 296.4,403.8 297.0,403.5 297.5,403.5 298.1,403.4 298.6,403.6 299.1,403.6 299.7,403.2 300.2,402.6 300.8,402.6 301.3,402.9 301.9,402.3 302.4,401.9 302.9,401.6 303.5,401.7 304.0,401.7 304.6,401.4 305.1,401.1 305.7,400.7 306.2,400.3 306.8,400.0 307.3,399.4 307.8,399.4 308.4,399.3 308.9,398.7 309.5,398.7 310.0,398.3 310.6,397.4 311.1,396.8 311.6,396.5 312.2,396.5 312.7,396.7 313.3,396.6 313.8,396.6 314.4,396.3 314.9,394.9 315.4,393.7 316.0,393.1 316.5,392.7 317.1,392.5 317.6,392.4 318.2,392.2 318.7,391.1 319.2,390.7 319.8,390.3 320.3,389.8 320.9,389.5 321.4,389.6 322.0,388.8 322.5,388.3 323.0,388.1 323.6,387.9 324.1,387.7 324.7,386.8 325.2,386.6 325.8,386.5 326.3,386.7 326.8,386.9 327.4,386.4 327.9,386.1 328.5,386.7 329.0,387.0 329.6,387.7 330.1,388.3 330.6,389.0 331.2,389.0 331.7,388.9 332.3,389.6 332.8,390.3 333.4,390.4 333.9,390.6 334.4,390.9 335.0,391.0 335.5,391.5 336.1,392.4 336.6,392.6 337.2,392.6 337.7,393.5 338.2,393.9 338.8,394.3 339.3,394.8 339.9,395.2 340.4,394.8 341.0,395.5 341.5,396.1 342.0,396.0 342.6,395.6 343.1,395.8 343.7,396.5 344.2,396.6 344.8,395.7 345.3,395.8 345.8,396.1 346.4,396.1 346.9,396.1 347.5,396.1 348.0,395.6 348.6,394.7 349.1,394.5 349.6,394.3 350.2,394.5 350.7,394.7 351.3,394.6 351.8,394.6 352.4,394.1 352.9,393.6 353.4,393.0 354.0,392.2 354.5,392.0 355.1,392.0 355.6,391.8 356.2,391.2 356.7,390.3 357.2,389.6 357.8,389.4 358.3,389.6 358.9,388.7 359.4,388.1 360.0,387.3 360.5,386.5 361.1,385.7 361.6,385.0 362.1,384.6 362.7,384.0 363.2,382.9 363.8,382.5 364.3,382.0 364.9,381.5 365.4,381.5 365.9,381.2 366.5,380.1 367.0,380.2 367.6,380.4 368.1,380.1 368.7,379.6 369.2,380.4 369.7,381.1 370.3,382.2 370.8,383.7 371.4,384.8 371.9,386.6 372.5,388.3 373.0,389.4 373.5,390.9 374.1,392.9 374.6,393.6 375.2,394.8 375.7,395.5 376.3,396.6 376.8,397.6 377.3,398.8 377.9,399.8 378.4,400.5 379.0,401.7 379.5,402.9 380.1,403.2 380.6,403.6 381.1,404.8 381.7,405.5 382.2,406.2 382.8,406.4 383.3,406.6 383.9,407.1 384.4,407.6 384.9,407.8 385.5,407.6 386.0,407.6 386.6,408.2 387.1,409.1 387.7,409.2 388.2,409.0 388.7,409.5 389.3,410.0 389.8,409.6 390.4,409.9 390.9,410.6 391.5,410.8 392.0,410.8 392.5,410.5 393.1,410.5 393.6,410.2 394.2,410.7 394.7,410.9 395.3,411.2 395.8,411.7 396.3,411.6 396.9,411.6 397.4,412.1 398.0,412.3 398.5,411.8 399.1,412.0 399.6,411.8 400.1,411.4 400.7,411.8 401.2,412.2 401.8,412.2 402.3,412.1 402.9,412.3 403.4,412.3 403.9,412.3 404.5,412.3 405.0,412.5 405.6,412.0 406.1,412.5 406.7,412.7 407.2,412.9 407.7,412.4 408.3,412.1 408.8,413.0 409.4,413.3 409.9,412.7 410.5,413.1 411.0,413.2 411.5,413.0 412.1,413.3 412.6,413.2 413.2,413.7 413.7,413.9 414.3,413.4 414.8,413.4 415.4,413.3 415.9,412.9 416.4,413.2 417.0,413.8 417.5,414.5 418.1,414.4 418.6,413.8 419.2,413.5 419.7,413.8 420.2,413.7 420.8,413.3 421.3,413.4 421.9,413.3 422.4,413.2 423.0,412.9 423.5,413.9 424.0,413.7 424.6,413.4 425.1,413.6"/>
<polyline fill="none" stroke="#a4c8e5" stroke-width="1.2" stroke-linejoin="round" points="242.7,434.9 243.2,434.6 243.8,434.1 244.3,433.7 244.8,433.5 245.4,433.9 245.9,433.8 246.5,433.7 247.0,433.9 247.6,433.7 248.1,433.3 248.6,433.7 249.2,433.5 249.7,434.2 250.3,434.1 250.8,433.7 251.4,434.0 251.9,433.8 252.4,433.7 253.0,433.7 253.5,433.9 254.1,433.7 254.6,433.0 255.2,432.9 255.7,433.2 256.3,432.8 256.8,432.5 257.3,433.1 257.9,432.2 258.4,431.8 259.0,432.2 259.5,433.0 260.1,433.3 260.6,432.7 261.1,432.4 261.7,432.5 262.2,432.3 262.8,432.2 263.3,432.0 263.9,432.3 264.4,432.1 264.9,431.4 265.5,431.8 266.0,432.1 266.6,432.1 267.1,431.6 267.7,431.2 268.2,431.4 268.7,431.7 269.3,431.4 269.8,431.4 270.4,431.8 270.9,431.3 271.5,431.1 272.0,431.3 272.5,431.5 273.1,431.6 273.6,430.9 274.2,430.5 274.7,431.0 275.3,431.1 275.8,430.5 276.3,430.6 276.9,430.9 277.4,430.9 278.0,430.7 278.5,430.5 279.1,430.2 279.6,430.2 280.1,430.5 280.7,430.2 281.2,430.4 281.8,430.2 282.3,430.7 282.9,429.9 283.4,430.1 283.9,429.6 284.5,429.5 285.0,429.4 285.6,429.4 286.1,430.0 286.7,429.3 287.2,428.6 287.7,429.0 288.3,428.8 288.8,428.2 289.4,428.3 289.9,428.2 290.5,428.2 291.0,427.9 291.5,427.4 292.1,427.1 292.6,427.2 293.2,426.7 293.7,425.9 294.3,425.7 294.8,425.6 295.3,425.7 295.9,426.0 296.4,425.3 297.0,425.1 297.5,425.2 298.1,424.7 298.6,424.4 299.1,424.3 299.7,423.8 300.2,423.5 300.8,423.3 301.3,422.9 301.9,422.2 302.4,421.7 302.9,421.9 303.5,422.1 304.0,421.6 304.6,421.5 305.1,421.0 305.7,420.1 306.2,419.3 306.8,419.6 307.3,419.3 307.8,418.7 308.4,418.9 308.9,418.7 309.5,418.3 310.0,417.8 310.6,417.5 311.1,417.2 311.6,417.2 312.2,416.5 312.7,415.7 313.3,415.6 313.8,415.2 314.4,414.5 314.9,413.8 315.4,413.7 316.0,413.1 316.5,412.8 317.1,411.8 317.6,411.2 318.2,410.6 318.7,410.3 319.2,410.2 319.8,409.1 320.3,408.9 320.9,408.0 321.4,407.1 322.0,407.1 322.5,406.7 323.0,406.0 323.6,405.1 324.1,405.0 324.7,404.7 325.2,404.4 325.8,404.3 326.3,404.5 326.8,404.9 327.4,404.5 327.9,404.1 328.5,405.0 329.0,405.2 329.6,405.2 330.1,405.2 330.6,406.0 331.2,406.6 331.7,407.4 332.3,407.9 332.8,408.3 333.4,408.2 333.9,408.3 334.4,409.4 335.0,409.8 335.5,409.9 336.1,410.1 336.6,410.4 337.2,410.6 337.7,411.3 338.2,412.4 338.8,413.4 339.3,413.8 339.9,414.2 340.4,414.2 341.0,414.8 341.5,415.0 342.0,415.6 342.6,415.8 343.1,415.5 343.7,415.5 344.2,415.6 344.8,414.8 345.3,414.4 345.8,415.2 346.4,415.4 346.9,414.2 347.5,414.1 348.0,413.8 348.6,413.6 349.1,413.4 349.6,413.5 350.2,412.9 350.7,412.5 351.3,412.1 351.8,412.1 352.4,411.6 352.9,411.1 353.4,410.7 354.0,410.1 354.5,409.9 355.1,409.3 355.6,409.2 356.2,408.9 356.7,408.4 357.2,407.8 357.8,407.2 358.3,406.7 358.9,405.9 359.4,404.9 360.0,404.0 360.5,403.1 361.1,402.3 361.6,401.3 362.1,400.3 362.7,400.2 363.2,399.1 363.8,398.1 364.3,397.4 364.9,396.2 365.4,396.0 365.9,395.8 366.5,395.3 367.0,395.0 367.6,394.6 368.1,394.5 368.7,394.8 369.2,395.3 369.7,395.9 370.3,397.5 370.8,399.0 371.4,400.3 371.9,402.1 372.5,404.2 373.0,406.4 373.5,408.0 374.1,409.0 374.6,410.2 375.2,411.5 375.7,413.0 376.3,414.3 376.8,415.8 377.3,417.3 377.9,418.4 378.4,419.6 379.0,420.7 379.5,421.5 380.1,422.6 380.6,423.6 381.1,424.6 381.7,425.9 382.2,426.1 382.8,425.6 383.3,426.3 383.9,427.1 384.4,427.5 384.9,427.6 385.5,428.0 386.0,428.4 386.6,428.8 387.1,429.4 387.7,429.5 388.2,429.5 388.7,429.8 389.3,430.1 389.8,430.1 390.4,430.5 390.9,431.2 391.5,431.2 392.0,430.9 392.5,431.9 393.1,431.8 393.6,431.8 394.2,431.6 394.7,432.1 395.3,432.2 395.8,432.2 396.3,432.2 396.9,432.4 397.4,432.7 398.0,432.4 398.5,432.5 399.1,432.4 399.6,432.2 400.1,432.7 400.7,432.9 401.2,432.7 401.8,432.5 402.3,432.8 402.9,433.1 403.4,433.2 403.9,433.2 404.5,433.1 405.0,433.7 405.6,433.9 406.1,433.9 406.7,434.0 407.2,434.2 407.7,434.2 408.3,434.2 408.8,434.0 409.4,434.0 409.9,434.0 410.5,433.7 411.0,433.8 411.5,434.0 412.1,433.6 412.6,433.1 413.2,433.6 413.7,433.9 414.3,434.2 414.8,433.6 415.4,433.9 415.9,434.4 416.4,433.7 417.0,433.9 417.5,433.9 418.1,433.7 418.6,434.1 419.2,433.8 419.7,433.4 420.2,433.8 420.8,434.0 421.3,434.7 421.9,434.5 422.4,434.1 423.0,434.6 423.5,435.0 424.0,434.2 424.6,434.0 425.1,434.4"/>
<polyline fill="none" stroke="#c6dcef" stroke-width="1.2" stroke-linejoin="round" points="242.7,453.4 243.2,453.3 243.8,453.6 244.3,453.5 244.8,454.2 245.4,453.9 245.9,453.5 246.5,453.7 247.0,454.2 247.6,454.3 248.1,453.4 248.6,453.5 249.2,453.4 249.7,453.2 250.3,453.4 250.8,453.4 251.4,453.3 251.9,452.9 252.4,452.9 253.0,453.0 253.5,452.8 254.1,452.7 254.6,452.5 255.2,452.6 255.7,452.7 256.3,452.6 256.8,452.6 257.3,452.7 257.9,452.4 258.4,452.6 259.0,452.4 259.5,452.3 260.1,452.3 260.6,452.6 261.1,452.6 261.7,452.2 262.2,452.2 262.8,452.7 263.3,452.3 263.9,451.7 264.4,451.9 264.9,452.0 265.5,452.2 266.0,451.8 266.6,451.8 267.1,452.0 267.7,451.2 268.2,451.1 268.7,451.4 269.3,451.5 269.8,451.6 270.4,451.8 270.9,451.8 271.5,451.6 272.0,452.5 272.5,452.0 273.1,451.3 273.6,451.2 274.2,451.0 274.7,450.7 275.3,451.2 275.8,451.0 276.3,451.0 276.9,450.9 277.4,451.0 278.0,451.1 278.5,451.0 279.1,451.4 279.6,450.9 280.1,450.8 280.7,451.1 281.2,451.3 281.8,451.2 282.3,451.1 282.9,451.1 283.4,450.9 283.9,450.6 284.5,450.8 285.0,450.4 285.6,450.2 286.1,450.4 286.7,450.3 287.2,450.5 287.7,450.4 288.3,450.1 288.8,450.1 289.4,449.8 289.9,449.5 290.5,450.0 291.0,449.7 291.5,449.5 292.1,449.4 292.6,448.7 293.2,448.7 293.7,448.8 294.3,448.0 294.8,448.2 295.3,448.9 295.9,448.5 296.4,447.8 297.0,447.9 297.5,447.9 298.1,447.4 298.6,447.4 299.1,447.4 299.7,447.3 300.2,447.5 300.8,447.0 301.3,446.6 301.9,446.5 302.4,446.1 302.9,445.8 303.5,445.7 304.0,445.7 304.6,446.3 305.1,446.3 305.7,445.0 306.2,444.0 306.8,444.5 307.3,444.7 307.8,444.4 308.4,444.4 308.9,444.2 309.5,443.6 310.0,443.3 310.6,443.0 311.1,442.8 311.6,442.5 312.2,442.6 312.7,442.8 313.3,442.3 313.8,442.2 314.4,441.6 314.9,440.7 315.4,440.6 316.0,440.1 316.5,439.5 317.1,439.5 317.6,439.7 318.2,439.3 318.7,438.3 319.2,437.7 319.8,437.5 320.3,437.4 320.9,437.2 321.4,436.3 322.0,435.7 322.5,435.4 323.0,434.8 323.6,435.0 324.1,434.9 324.7,434.3 325.2,434.7 325.8,434.4 326.3,434.3 326.8,434.4 327.4,434.5 327.9,434.6 328.5,434.5 329.0,434.5 329.6,435.5 330.1,435.9 330.6,436.3 331.2,436.8 331.7,437.3 332.3,437.3 332.8,437.7 333.4,438.9 333.9,439.2 334.4,439.1 335.0,439.4 335.5,439.3 336.1,438.6 336.6,439.1 337.2,439.7 337.7,440.1 338.2,440.0 338.8,440.2 339.3,440.2 339.9,440.3 340.4,440.2 341.0,440.9 341.5,441.5 342.0,441.1 342.6,441.3 343.1,440.9 343.7,441.1 344.2,441.9 344.8,441.3 345.3,441.1 345.8,440.7 346.4,440.1 346.9,440.7 347.5,440.9 348.0,440.2 348.6,439.8 349.1,440.0 349.6,440.1 350.2,439.8 350.7,440.0 351.3,439.7 351.8,438.6 352.4,438.4 352.9,438.6 353.4,438.4 354.0,438.7 354.5,438.6 355.1,438.0 355.6,438.0 356.2,437.8 356.7,437.3 357.2,437.0 357.8,436.3 358.3,435.7 358.9,434.9 359.4,434.4 360.0,434.6 360.5,434.1 361.1,433.1 361.6,432.5 362.1,431.5 362.7,430.7 363.2,430.6 363.8,430.3 364.3,429.4 364.9,428.8 365.4,428.2 365.9,427.4 366.5,426.9 367.0,427.1 367.6,427.0 368.1,427.5 368.7,427.5 369.2,427.9 369.7,428.5 370.3,428.8 370.8,430.0 371.4,431.9 371.9,433.2 372.5,434.4 373.0,435.5 373.5,436.2 374.1,437.9 374.6,438.9 375.2,439.8 375.7,440.9 376.3,442.0 376.8,442.5 377.3,442.8 377.9,443.6 378.4,444.9 379.0,444.7 379.5,445.5 380.1,446.2 380.6,446.6 381.1,447.2 381.7,447.7 382.2,447.8 382.8,448.4 383.3,448.7 383.9,448.6 384.4,449.1 384.9,449.5 385.5,449.7 386.0,449.9 386.6,450.0 387.1,450.1 387.7,450.3 388.2,450.9 388.7,451.1 389.3,451.4 389.8,452.0 390.4,452.0 390.9,451.9 391.5,452.3 392.0,452.3 392.5,452.3 393.1,451.9 393.6,452.6 394.2,452.4 394.7,452.1 395.3,451.9 395.8,451.5 396.3,451.9 396.9,452.5 397.4,453.1 398.0,452.9 398.5,452.8 399.1,453.2 399.6,453.0 400.1,452.6 400.7,452.4 401.2,452.3 401.8,452.5 402.3,452.4 402.9,452.9 403.4,452.6 403.9,453.1 404.5,453.4 405.0,453.0 405.6,453.3 406.1,453.8 406.7,453.4 407.2,453.7 407.7,453.5 408.3,452.9 408.8,453.1 409.4,453.0 409.9,453.4 410.5,453.7 411.0,453.9 411.5,453.6 412.1,453.6 412.6,453.9 413.2,454.4 413.7,454.1 414.3,454.2 414.8,453.5 415.4,453.3 415.9,453.7 416.4,453.5 417.0,453.6 417.5,453.9 418.1,454.6 418.6,454.7 419.2,454.7 419.7,454.2 420.2,453.7 420.8,453.9 421.3,454.2 421.9,453.5 422.4,453.3 423.0,453.5 423.5,454.0 424.0,454.0 424.6,454.2 425.1,454.3"/>
<polyline fill="none" stroke="#6b1737" stroke-width="1.2" stroke-linejoin="round" points="466.9,332.2 467.4,332.2 468.0,331.6 468.5,332.1 469.0,331.8 469.6,331.3 470.1,331.2 470.7,331.1 471.2,331.5 471.8,331.8 472.3,331.8 472.8,331.5 473.4,330.7 473.9,330.8 474.5,331.8 475.0,332.0 475.6,332.2 476.1,331.7 476.6,331.1 477.2,331.5 477.7,331.4 478.3,331.1 478.8,330.7 479.4,330.8 479.9,331.0 480.5,331.1 481.0,331.1 481.5,331.2 482.1,330.7 482.6,330.8 483.2,330.8 483.7,330.2 484.3,330.2 484.8,330.8 485.3,330.7 485.9,330.5 486.4,330.4 487.0,330.2 487.5,330.2 488.1,330.1 488.6,330.3 489.1,330.4 489.7,330.1 490.2,330.1 490.8,329.6 491.3,329.4 491.9,329.1 492.4,329.3 492.9,329.2 493.5,328.8 494.0,328.3 494.6,328.0 495.1,326.5 495.7,324.0 496.2,323.0 496.7,323.5 497.3,325.4 497.8,327.1 498.4,328.0 498.9,328.1 499.5,328.5 500.0,328.9 500.5,328.8 501.1,329.0 501.6,329.5 502.2,329.6 502.7,329.3 503.3,329.2 503.8,329.2 504.3,329.0 504.9,328.8 505.4,328.8 506.0,329.2 506.5,329.0 507.1,328.9 507.6,329.0 508.1,329.1 508.7,329.2 509.2,328.6 509.8,328.3 510.3,328.3 510.9,328.1 511.4,328.5 511.9,328.5 512.5,328.2 513.0,327.8 513.6,327.9 514.1,327.8 514.7,327.4 515.2,326.8 515.7,326.3 516.3,326.7 516.8,326.3 517.4,326.0 517.9,326.2 518.5,325.8 519.0,325.1 519.5,325.1 520.1,325.1 520.6,324.9 521.2,324.1 521.7,324.0 522.3,324.2 522.8,324.1 523.3,323.0 523.9,321.9 524.4,322.0 525.0,322.4 525.5,322.4 526.1,322.1 526.6,321.2 527.1,320.3 527.7,320.2 528.2,319.5 528.8,318.8 529.3,318.4 529.9,318.0 530.4,316.9 531.0,316.1 531.5,315.8 532.0,315.2 532.6,314.3 533.1,313.7 533.7,313.6 534.2,313.4 534.8,312.6 535.3,311.9 535.8,310.9 536.4,309.1 536.9,308.0 537.5,307.3 538.0,306.2 538.6,305.2 539.1,304.3 539.6,303.0 540.2,301.8 540.7,300.4 541.3,299.8 541.8,299.4 542.4,298.2 542.9,297.4 543.4,296.6 544.0,295.6 544.5,295.2 545.1,294.7 545.6,294.3 546.2,293.5 546.7,293.0 547.2,293.1 547.8,293.6 548.3,294.3 548.9,294.5 549.4,294.9 550.0,295.7 550.5,296.7 551.0,297.2 551.6,298.2 552.1,298.4 552.7,299.3 553.2,300.6 553.8,301.4 554.3,301.8 554.8,302.6 555.4,303.3 555.9,304.4 556.5,304.9 557.0,305.2 557.6,305.9 558.1,306.5 558.6,307.2 559.2,307.9 559.7,308.5 560.3,309.4 560.8,310.2 561.4,310.9 561.9,311.6 562.4,311.7 563.0,311.8 563.5,312.6 564.1,313.4 564.6,313.9 565.2,314.4 565.7,314.7 566.2,314.7 566.8,314.6 567.3,314.6 567.9,315.0 568.4,314.6 569.0,314.1 569.5,314.0 570.0,314.2 570.6,314.7 571.1,314.1 571.7,313.1 572.2,313.1 572.8,313.1 573.3,312.9 573.8,312.4 574.4,311.8 574.9,311.5 575.5,310.8 576.0,309.9 576.6,309.7 577.1,309.7 577.6,309.8 578.2,309.3 578.7,308.4 579.3,308.1 579.8,307.6 580.4,306.5 580.9,305.8 581.4,305.7 582.0,305.2 582.5,304.0 583.1,302.7 583.6,302.4 584.2,301.6 584.7,300.5 585.2,299.7 585.8,298.8 586.3,298.4 586.9,297.5 587.4,296.6 588.0,296.0 588.5,295.3 589.1,294.4 589.6,294.2 590.1,293.8 590.7,293.3 591.2,293.6 591.8,294.2 592.3,294.7 592.9,295.9 593.4,296.9 593.9,297.4 594.5,298.8 595.0,300.4 595.6,301.2 596.1,302.3 596.7,303.8 597.2,305.1 597.7,306.7 598.3,308.7 598.8,310.2 599.4,311.9 599.9,313.2 600.5,314.1 601.0,315.3 601.5,316.2 602.1,316.9 602.6,317.7 603.2,318.9 603.7,319.8 604.3,320.8 604.8,321.9 605.3,322.6 605.9,322.7 606.4,323.4 607.0,324.4 607.5,325.4 608.1,326.2 608.6,326.3 609.1,326.9 609.7,327.9 610.2,328.8 610.8,329.1 611.3,328.8 611.9,329.0 612.4,329.3 612.9,330.0 613.5,330.1 614.0,330.0 614.6,330.1 615.1,330.6 615.7,330.9 616.2,330.6 616.7,330.7 617.3,331.1 617.8,331.2 618.4,331.3 618.9,331.1 619.5,331.0 620.0,330.9 620.5,331.7 621.1,332.0 621.6,331.3 622.2,331.7 622.7,332.4 623.3,332.1 623.8,331.8 624.3,332.4 624.9,332.2 625.4,332.7 626.0,332.4 626.5,332.2 627.1,332.5 627.6,332.6 628.1,332.9 628.7,332.8 629.2,332.8 629.8,333.2 630.3,333.1 630.9,332.9 631.4,332.8 631.9,332.7 632.5,332.8 633.0,333.1 633.6,333.1 634.1,333.0 634.7,333.2 635.2,333.0 635.7,333.1 636.3,333.1 636.8,332.6 637.4,332.9 637.9,333.4 638.5,333.0 639.0,333.2 639.5,332.9 640.1,332.9 640.6,332.7 641.2,332.7 641.7,332.8 642.3,333.0 642.8,333.5 643.4,333.6 643.9,333.5 644.4,333.5 645.0,333.8 645.5,333.7 646.1,333.3 646.6,332.9 647.2,333.4 647.7,333.5 648.2,333.4 648.8,333.5 649.3,333.5"/>
<polyline fill="none" stroke="#9b1a4c" stroke-width="1.2" stroke-linejoin="round" points="466.9,350.9 467.4,350.7 468.0,350.7 468.5,351.1 469.0,351.5 469.6,350.9 470.1,351.4 470.7,351.5 471.2,350.9 471.8,350.7 472.3,351.0 472.8,351.4 473.4,351.6 473.9,351.3 474.5,351.1 475.0,350.4 475.6,349.9 476.1,349.6 476.6,349.7 477.2,350.0 477.7,350.1 478.3,349.8 478.8,350.2 479.4,350.0 479.9,349.6 480.5,349.7 481.0,350.4 481.5,349.9 482.1,349.3 482.6,349.4 483.2,349.9 483.7,349.6 484.3,349.8 484.8,349.6 485.3,348.8 485.9,349.3 486.4,349.0 487.0,348.6 487.5,348.7 488.1,349.0 488.6,349.0 489.1,348.8 489.7,348.5 490.2,349.0 490.8,349.2 491.3,349.0 491.9,348.7 492.4,348.7 492.9,348.4 493.5,347.5 494.0,346.6 494.6,345.4 495.1,343.5 495.7,340.9 496.2,338.8 496.7,340.4 497.3,342.9 497.8,343.9 498.4,345.3 498.9,346.7 499.5,346.6 500.0,346.8 500.5,347.2 501.1,347.0 501.6,346.9 502.2,346.9 502.7,347.0 503.3,347.0 503.8,347.4 504.3,347.7 504.9,347.5 505.4,347.7 506.0,347.5 506.5,347.3 507.1,347.0 507.6,346.7 508.1,346.7 508.7,346.5 509.2,346.1 509.8,346.4 510.3,346.4 510.9,346.1 511.4,345.4 511.9,344.9 512.5,345.7 513.0,345.3 513.6,344.5 514.1,344.9 514.7,344.7 515.2,344.8 515.7,344.6 516.3,344.6 516.8,344.3 517.4,344.0 517.9,343.8 518.5,343.7 519.0,343.0 519.5,343.3 520.1,343.0 520.6,342.4 521.2,342.1 521.7,341.8 522.3,341.8 522.8,341.7 523.3,341.1 523.9,341.1 524.4,340.9 525.0,340.6 525.5,340.3 526.1,339.6 526.6,339.4 527.1,339.4 527.7,338.3 528.2,337.6 528.8,337.2 529.3,336.8 529.9,336.0 530.4,335.4 531.0,334.5 531.5,334.1 532.0,333.6 532.6,333.1 533.1,333.0 533.7,332.8 534.2,331.9 534.8,331.2 535.3,331.0 535.8,330.3 536.4,329.3 536.9,328.7 537.5,327.8 538.0,326.9 538.6,326.3 539.1,325.8 539.6,324.6 540.2,323.8 540.7,323.3 541.3,322.8 541.8,321.9 542.4,320.7 542.9,320.4 543.4,319.8 544.0,319.4 544.5,318.8 545.1,317.9 545.6,317.6 546.2,317.4 546.7,317.6 547.2,318.0 547.8,317.7 548.3,317.9 548.9,318.8 549.4,318.6 550.0,319.1 550.5,319.7 551.0,320.1 551.6,321.4 552.1,322.3 552.7,322.7 553.2,323.3 553.8,323.8 554.3,324.1 554.8,325.0 555.4,325.3 555.9,325.9 556.5,326.8 557.0,327.3 557.6,327.4 558.1,328.3 558.6,328.9 559.2,328.8 559.7,329.0 560.3,329.3 560.8,329.5 561.4,329.8 561.9,330.6 562.4,330.9 563.0,330.8 563.5,331.0 564.1,331.1 564.6,331.3 565.2,331.3 565.7,331.5 566.2,332.2 566.8,332.1 567.3,332.3 567.9,332.7 568.4,332.2 569.0,332.0 569.5,331.4 570.0,331.4 570.6,331.7 571.1,331.2 571.7,330.4 572.2,330.2 572.8,330.4 573.3,330.1 573.8,330.2 574.4,329.8 574.9,329.3 575.5,329.1 576.0,328.9 576.6,328.4 577.1,327.8 577.6,327.6 578.2,327.2 578.7,326.9 579.3,326.8 579.8,326.6 580.4,326.3 580.9,325.5 581.4,324.9 582.0,324.4 582.5,324.0 583.1,323.2 583.6,322.5 584.2,321.8 584.7,321.2 585.2,321.1 585.8,321.1 586.3,320.0 586.9,319.3 587.4,318.8 588.0,318.2 588.5,318.1 589.1,318.1 589.6,317.5 590.1,317.6 590.7,317.2 591.2,316.6 591.8,316.7 592.3,317.2 592.9,317.8 593.4,319.1 593.9,320.0 594.5,320.8 595.0,321.6 595.6,323.1 596.1,324.5 596.7,326.4 597.2,327.3 597.7,328.5 598.3,329.8 598.8,330.8 599.4,332.0 599.9,333.3 600.5,334.5 601.0,335.2 601.5,336.0 602.1,336.8 602.6,337.3 603.2,337.6 603.7,338.4 604.3,339.3 604.8,340.1 605.3,341.2 605.9,341.8 606.4,342.2 607.0,342.6 607.5,343.5 608.1,343.9 608.6,344.2 609.1,345.0 609.7,346.1 610.2,345.9 610.8,346.0 611.3,346.9 611.9,347.1 612.4,347.1 612.9,347.4 613.5,346.9 614.0,347.0 614.6,347.1 615.1,348.0 615.7,348.3 616.2,348.8 616.7,348.6 617.3,348.3 617.8,347.9 618.4,347.9 618.9,348.3 619.5,348.7 620.0,348.2 620.5,348.0 621.1,348.9 621.6,349.2 622.2,348.8 622.7,349.2 623.3,349.6 623.8,349.4 624.3,348.8 624.9,349.0 625.4,349.1 626.0,349.5 626.5,349.3 627.1,348.9 627.6,349.3 628.1,349.4 628.7,348.8 629.2,348.7 629.8,349.0 630.3,349.1 630.9,349.0 631.4,348.6 631.9,348.7 632.5,349.3 633.0,349.5 633.6,349.2 634.1,349.6 634.7,350.1 635.2,349.6 635.7,349.3 636.3,349.3 636.8,349.6 637.4,349.7 637.9,349.6 638.5,349.5 639.0,349.7 639.5,349.7 640.1,349.7 640.6,349.8 641.2,349.3 641.7,349.6 642.3,349.7 642.8,350.0 643.4,350.3 643.9,349.8 644.4,349.5 645.0,349.7 645.5,350.2 646.1,350.3 646.6,349.9 647.2,350.0 647.7,350.3 648.2,349.8 648.8,349.1 649.3,349.2"/>
<polyline fill="none" stroke="#8e1b2a" stroke-width="1.2" stroke-linejoin="round" points="466.9,360.7 467.4,360.6 468.0,360.2 468.5,359.6 469.0,360.0 469.6,359.7 470.1,360.4 470.7,360.6 471.2,360.6 471.8,360.5 472.3,360.2 472.8,359.9 473.4,360.0 473.9,360.3 474.5,359.9 475.0,359.6 475.6,359.5 476.1,359.5 476.6,359.6 477.2,359.7 477.7,359.6 478.3,359.4 478.8,359.3 479.4,359.3 479.9,359.1 480.5,359.5 481.0,359.8 481.5,359.3 482.1,359.5 482.6,360.1 483.2,359.0 483.7,358.5 484.3,359.0 484.8,359.9 485.3,359.8 485.9,358.9 486.4,359.0 487.0,358.9 487.5,358.5 488.1,358.3 488.6,358.8 489.1,358.6 489.7,358.7 490.2,358.9 490.8,359.3 491.3,358.9 491.9,358.1 492.4,358.2 492.9,358.3 493.5,357.5 494.0,357.3 494.6,356.8 495.1,355.3 495.7,353.7 496.2,352.8 496.7,354.2 497.3,355.8 497.8,357.0 498.4,357.5 498.9,357.7 499.5,357.8 500.0,358.0 500.5,357.8 501.1,357.6 501.6,358.2 502.2,358.5 502.7,358.7 503.3,357.9 503.8,357.4 504.3,356.8 504.9,356.1 505.4,356.9 506.0,357.6 506.5,357.1 507.1,356.7 507.6,357.4 508.1,357.3 508.7,357.2 509.2,357.2 509.8,357.3 510.3,357.2 510.9,356.7 511.4,356.8 511.9,357.0 512.5,357.3 513.0,357.0 513.6,357.4 514.1,357.4 514.7,357.3 515.2,356.8 515.7,356.9 516.3,356.7 516.8,356.1 517.4,356.2 517.9,356.1 518.5,355.9 519.0,355.7 519.5,355.5 520.1,355.8 520.6,356.0 521.2,355.5 521.7,355.3 522.3,355.8 522.8,355.6 523.3,355.4 523.9,355.2 524.4,355.1 525.0,355.2 525.5,354.8 526.1,354.6 526.6,354.0 527.1,353.7 527.7,354.2 528.2,354.7 528.8,354.4 529.3,354.5 529.9,354.0 530.4,353.5 531.0,353.0 531.5,353.1 532.0,353.5 532.6,353.1 533.1,352.2 533.7,352.1 534.2,352.3 534.8,351.8 535.3,351.7 535.8,351.1 536.4,351.3 536.9,351.3 537.5,350.8 538.0,350.2 538.6,349.7 539.1,349.3 539.6,349.1 540.2,349.1 540.7,348.8 541.3,348.1 541.8,347.2 542.4,347.0 542.9,347.1 543.4,346.7 544.0,346.2 544.5,346.7 545.1,346.9 545.6,345.9 546.2,346.0 546.7,346.4 547.2,345.9 547.8,345.8 548.3,346.2 548.9,346.4 549.4,346.5 550.0,346.8 550.5,346.5 551.0,347.3 551.6,347.7 552.1,347.9 552.7,348.3 553.2,348.7 553.8,349.2 554.3,349.0 554.8,349.1 555.4,349.0 555.9,349.3 556.5,349.6 557.0,349.6 557.6,349.8 558.1,350.0 558.6,350.5 559.2,351.1 559.7,351.3 560.3,350.8 560.8,351.4 561.4,352.2 561.9,352.7 562.4,352.6 563.0,351.9 563.5,352.2 564.1,352.8 564.6,353.1 565.2,353.0 565.7,353.0 566.2,353.0 566.8,352.8 567.3,353.1 567.9,353.2 568.4,353.1 569.0,353.0 569.5,352.0 570.0,352.6 570.6,353.3 571.1,353.2 571.7,353.1 572.2,352.4 572.8,351.8 573.3,351.9 573.8,352.2 574.4,351.2 574.9,350.9 575.5,350.7 576.0,350.8 576.6,351.0 577.1,351.0 577.6,350.7 578.2,351.1 578.7,350.7 579.3,350.0 579.8,349.5 580.4,349.3 580.9,349.8 581.4,350.1 582.0,349.3 582.5,348.6 583.1,348.5 583.6,348.1 584.2,347.5 584.7,347.1 585.2,347.4 585.8,347.8 586.3,347.6 586.9,347.2 587.4,346.7 588.0,346.5 588.5,346.4 589.1,346.0 589.6,345.8 590.1,345.7 590.7,345.9 591.2,345.5 591.8,345.9 592.3,346.3 592.9,346.6 593.4,346.7 593.9,346.7 594.5,347.0 595.0,347.6 595.6,348.0 596.1,348.4 596.7,349.1 597.2,349.7 597.7,350.3 598.3,351.2 598.8,351.6 599.4,352.5 599.9,353.6 600.5,354.1 601.0,354.1 601.5,354.5 602.1,355.0 602.6,355.9 603.2,356.1 603.7,356.1 604.3,356.0 604.8,356.2 605.3,356.7 605.9,356.9 606.4,357.2 607.0,357.6 607.5,357.3 608.1,357.2 608.6,357.7 609.1,358.2 609.7,358.6 610.2,358.8 610.8,358.9 611.3,358.9 611.9,359.9 612.4,359.9 612.9,359.6 613.5,360.1 614.0,360.5 614.6,360.5 615.1,360.3 615.7,360.6 616.2,360.6 616.7,360.0 617.3,359.9 617.8,360.4 618.4,361.1 618.9,361.4 619.5,361.2 620.0,361.5 620.5,361.4 621.1,361.0 621.6,360.7 622.2,360.8 622.7,361.2 623.3,361.7 623.8,361.5 624.3,360.8 624.9,360.8 625.4,361.4 626.0,361.3 626.5,361.1 627.1,361.6 627.6,361.9 628.1,361.7 628.7,361.6 629.2,361.7 629.8,361.3 630.3,361.0 630.9,361.2 631.4,362.1 631.9,362.2 632.5,361.6 633.0,361.6 633.6,361.6 634.1,361.8 634.7,361.9 635.2,361.7 635.7,361.3 636.3,361.1 636.8,360.7 637.4,360.4 637.9,360.9 638.5,361.1 639.0,361.3 639.5,361.2 640.1,361.0 640.6,361.1 641.2,361.5 641.7,361.4 642.3,361.0 642.8,361.1 643.4,361.5 643.9,361.6 644.4,361.5 645.0,361.5 645.5,361.6 646.1,361.8 646.6,362.2 647.2,361.4 647.7,361.3 648.2,361.9 648.8,361.5 649.3,361.1"/>
<polyline fill="none" stroke="#9c2848" stroke-width="1.2" stroke-linejoin="round" points="466.9,382.8 467.4,382.4 468.0,381.9 468.5,382.0 469.0,382.0 469.6,382.1 470.1,382.2 470.7,381.8 471.2,382.1 471.8,381.8 472.3,381.9 472.8,382.3 473.4,382.2 473.9,382.0 474.5,382.5 475.0,382.1 475.6,381.6 476.1,381.7 476.6,381.6 477.2,381.7 477.7,381.4 478.3,381.6 478.8,381.3 479.4,381.9 479.9,382.0 480.5,382.1 481.0,381.3 481.5,380.7 482.1,380.9 482.6,381.6 483.2,382.3 483.7,382.1 484.3,381.9 484.8,381.3 485.3,381.2 485.9,381.4 486.4,381.7 487.0,381.3 487.5,381.4 488.1,381.8 488.6,381.2 489.1,381.1 489.7,380.8 490.2,381.1 490.8,381.6 491.3,381.4 491.9,380.4 492.4,379.9 492.9,380.7 493.5,380.8 494.0,379.7 494.6,378.8 495.1,376.8 495.7,373.3 496.2,371.4 496.7,374.1 497.3,377.0 497.8,378.3 498.4,379.3 498.9,379.9 499.5,380.1 500.0,380.4 500.5,381.2 501.1,381.2 501.6,381.0 502.2,381.0 502.7,381.2 503.3,381.1 503.8,381.2 504.3,381.1 504.9,381.3 505.4,381.3 506.0,381.2 506.5,380.7 507.1,380.6 507.6,380.8 508.1,381.4 508.7,380.9 509.2,380.6 509.8,380.1 510.3,379.9 510.9,379.8 511.4,380.0 511.9,380.0 512.5,380.3 513.0,379.8 513.6,379.8 514.1,379.5 514.7,379.2 515.2,378.7 515.7,378.6 516.3,378.4 516.8,378.1 517.4,378.0 517.9,377.4 518.5,377.3 519.0,377.3 519.5,377.0 520.1,376.5 520.6,376.6 521.2,376.1 521.7,375.7 522.3,375.5 522.8,375.4 523.3,375.8 523.9,375.8 524.4,374.3 525.0,374.6 525.5,374.7 526.1,374.5 526.6,373.8 527.1,373.6 527.7,373.5 528.2,372.8 528.8,372.2 529.3,371.9 529.9,371.8 530.4,371.6 531.0,370.7 531.5,370.4 532.0,369.4 532.6,369.5 533.1,369.3 533.7,369.3 534.2,369.0 534.8,368.6 535.3,368.1 535.8,367.3 536.4,366.3 536.9,366.1 537.5,365.6 538.0,365.5 538.6,364.8 539.1,364.2 539.6,363.7 540.2,363.3 540.7,362.9 541.3,362.4 541.8,361.7 542.4,361.7 542.9,360.8 543.4,360.1 544.0,359.4 544.5,359.9 545.1,360.2 545.6,360.1 546.2,359.8 546.7,359.6 547.2,359.2 547.8,359.3 548.3,359.6 548.9,359.9 549.4,359.9 550.0,360.4 550.5,361.1 551.0,361.5 551.6,361.7 552.1,362.0 552.7,362.7 553.2,363.4 553.8,364.2 554.3,364.4 554.8,364.7 555.4,364.8 555.9,365.6 556.5,365.4 557.0,365.8 557.6,366.2 558.1,366.5 558.6,366.9 559.2,367.3 559.7,367.9 560.3,368.6 560.8,369.3 561.4,369.8 561.9,370.3 562.4,370.1 563.0,370.2 563.5,371.2 564.1,371.0 564.6,370.4 565.2,371.2 565.7,371.4 566.2,371.3 566.8,371.4 567.3,371.6 567.9,371.5 568.4,371.6 569.0,371.5 569.5,371.5 570.0,371.6 570.6,371.6 571.1,371.7 571.7,371.1 572.2,370.4 572.8,370.6 573.3,371.0 573.8,370.7 574.4,369.8 574.9,369.6 575.5,369.1 576.0,368.6 576.6,367.9 577.1,367.6 577.6,367.8 578.2,367.9 578.7,367.6 579.3,366.9 579.8,366.7 580.4,366.6 580.9,365.9 581.4,364.8 582.0,364.7 582.5,364.8 583.1,364.5 583.6,363.7 584.2,363.2 584.7,362.0 585.2,362.2 585.8,361.5 586.3,360.9 586.9,360.2 587.4,359.6 588.0,359.5 588.5,359.2 589.1,358.8 589.6,358.9 590.1,358.6 590.7,358.5 591.2,358.3 591.8,358.4 592.3,358.8 592.9,359.1 593.4,359.9 593.9,360.4 594.5,361.3 595.0,362.0 595.6,362.9 596.1,364.1 596.7,365.7 597.2,366.8 597.7,367.3 598.3,368.3 598.8,369.4 599.4,370.5 599.9,371.7 600.5,372.6 601.0,372.6 601.5,372.7 602.1,373.8 602.6,374.3 603.2,375.0 603.7,376.1 604.3,376.8 604.8,377.0 605.3,377.7 605.9,378.2 606.4,378.7 607.0,379.1 607.5,379.7 608.1,379.8 608.6,380.4 609.1,380.9 609.7,380.9 610.2,381.5 610.8,382.0 611.3,382.5 611.9,382.7 612.4,382.0 612.9,382.7 613.5,383.0 614.0,383.3 614.6,383.2 615.1,382.9 615.7,382.8 616.2,383.0 616.7,383.6 617.3,383.5 617.8,383.6 618.4,383.5 618.9,383.1 619.5,383.6 620.0,384.1 620.5,384.5 621.1,384.1 621.6,383.8 622.2,384.1 622.7,384.6 623.3,384.7 623.8,384.8 624.3,384.7 624.9,384.4 625.4,384.8 626.0,384.6 626.5,383.9 627.1,384.3 627.6,384.9 628.1,384.5 628.7,384.5 629.2,384.6 629.8,384.7 630.3,384.7 630.9,384.8 631.4,384.3 631.9,384.1 632.5,384.5 633.0,384.8 633.6,385.3 634.1,385.6 634.7,385.2 635.2,385.3 635.7,385.5 636.3,385.3 636.8,385.0 637.4,384.5 637.9,384.5 638.5,384.5 639.0,384.7 639.5,385.2 640.1,385.2 640.6,384.7 641.2,384.2 641.7,384.9 642.3,385.0 642.8,384.6 643.4,384.8 643.9,384.9 644.4,384.9 645.0,384.2 645.5,384.4 646.1,385.1 646.6,384.6 647.2,384.5 647.7,384.7 648.2,385.1 648.8,385.4 649.3,385.1"/>
<polyline fill="none" stroke="#b23b5b" stroke-width="1.2" stroke-linejoin="round" points="466.9,398.8 467.4,398.6 468.0,398.1 468.5,397.7 469.0,398.3 469.6,398.8 470.1,398.7 470.7,398.4 471.2,399.1 471.8,399.0 472.3,398.2 472.8,398.1 473.4,398.2 473.9,398.0 474.5,398.0 475.0,398.4 475.6,398.2 476.1,397.6 476.6,397.4 477.2,397.3 477.7,397.5 478.3,397.5 478.8,397.4 479.4,397.6 479.9,397.4 480.5,397.1 481.0,396.4 481.5,396.4 482.1,396.8 482.6,397.0 483.2,396.9 483.7,397.4 484.3,397.2 484.8,397.0 485.3,396.9 485.9,397.0 486.4,397.0 487.0,396.8 487.5,397.0 488.1,396.5 488.6,396.6 489.1,396.4 489.7,396.4 490.2,396.6 490.8,396.6 491.3,396.7 491.9,396.2 492.4,396.2 492.9,396.3 493.5,396.6 494.0,396.1 494.6,395.4 495.1,394.7 495.7,393.2 496.2,392.1 496.7,392.9 497.3,394.2 497.8,394.7 498.4,395.5 498.9,395.5 499.5,395.4 500.0,395.5 500.5,395.1 501.1,395.1 501.6,395.3 502.2,395.6 502.7,395.2 503.3,395.0 503.8,395.5 504.3,395.3 504.9,395.2 505.4,395.3 506.0,395.7 506.5,395.4 507.1,395.4 507.6,396.1 508.1,395.8 508.7,395.9 509.2,395.7 509.8,395.4 510.3,394.6 510.9,394.5 511.4,394.7 511.9,394.5 512.5,394.5 513.0,394.4 513.6,393.5 514.1,393.8 514.7,394.3 515.2,393.8 515.7,393.6 516.3,393.7 516.8,393.5 517.4,393.3 517.9,392.9 518.5,392.9 519.0,392.8 519.5,393.1 520.1,392.5 520.6,392.4 521.2,392.4 521.7,392.5 522.3,392.2 522.8,392.0 523.3,391.6 523.9,391.3 524.4,391.1 525.0,391.1 525.5,390.9 526.1,390.4 526.6,390.3 527.1,390.6 527.7,390.4 528.2,390.0 528.8,389.7 529.3,389.6 529.9,389.7 530.4,389.4 531.0,389.2 531.5,389.0 532.0,388.9 532.6,388.8 533.1,388.5 533.7,387.9 534.2,387.9 534.8,387.6 535.3,387.7 535.8,387.7 536.4,386.6 536.9,386.2 537.5,386.0 538.0,385.6 538.6,386.2 539.1,385.6 539.6,385.4 540.2,384.8 540.7,384.6 541.3,384.1 541.8,383.4 542.4,383.0 542.9,382.4 543.4,382.2 544.0,382.4 544.5,381.6 545.1,381.5 545.6,382.1 546.2,381.5 546.7,381.5 547.2,381.8 547.8,381.3 548.3,381.5 548.9,382.2 549.4,382.2 550.0,382.3 550.5,382.5 551.0,382.9 551.6,382.8 552.1,383.6 552.7,384.5 553.2,384.8 553.8,384.8 554.3,385.6 554.8,386.3 555.4,386.2 555.9,386.4 556.5,386.2 557.0,386.2 557.6,386.9 558.1,386.9 558.6,387.2 559.2,387.8 559.7,388.1 560.3,388.5 560.8,389.1 561.4,389.2 561.9,389.2 562.4,389.3 563.0,389.9 563.5,389.5 564.1,389.3 564.6,390.0 565.2,390.8 565.7,391.1 566.2,391.3 566.8,391.2 567.3,391.1 567.9,391.0 568.4,390.6 569.0,390.5 569.5,390.5 570.0,390.5 570.6,390.1 571.1,390.0 571.7,390.1 572.2,389.8 572.8,389.5 573.3,389.2 573.8,388.6 574.4,388.3 574.9,388.4 575.5,388.7 576.0,388.6 576.6,388.2 577.1,388.0 577.6,387.5 578.2,386.4 578.7,386.6 579.3,387.1 579.8,387.2 580.4,386.7 580.9,386.8 581.4,386.4 582.0,385.6 582.5,384.8 583.1,384.5 583.6,384.6 584.2,384.5 584.7,384.2 585.2,384.1 585.8,383.8 586.3,383.4 586.9,383.3 587.4,382.8 588.0,381.9 588.5,381.9 589.1,382.4 589.6,382.5 590.1,382.2 590.7,382.0 591.2,382.2 591.8,382.4 592.3,382.2 592.9,382.0 593.4,382.9 593.9,383.6 594.5,384.1 595.0,384.8 595.6,384.3 596.1,384.9 596.7,386.6 597.2,386.2 597.7,386.0 598.3,387.2 598.8,388.3 599.4,388.5 599.9,389.1 600.5,390.2 601.0,391.0 601.5,391.2 602.1,391.2 602.6,391.4 603.2,392.4 603.7,393.2 604.3,392.6 604.8,392.7 605.3,393.4 605.9,394.3 606.4,394.7 607.0,394.8 607.5,395.2 608.1,396.1 608.6,396.4 609.1,396.8 609.7,396.8 610.2,397.2 610.8,397.2 611.3,397.9 611.9,397.6 612.4,397.6 612.9,398.0 613.5,397.9 614.0,398.0 614.6,398.3 615.1,398.4 615.7,399.0 616.2,398.7 616.7,398.8 617.3,398.5 617.8,398.0 618.4,398.1 618.9,398.7 619.5,398.7 620.0,399.1 620.5,399.1 621.1,399.3 621.6,399.7 622.2,400.1 622.7,399.6 623.3,398.9 623.8,398.9 624.3,399.8 624.9,400.1 625.4,400.1 626.0,399.4 626.5,399.5 627.1,399.6 627.6,399.9 628.1,400.0 628.7,400.2 629.2,399.8 629.8,399.7 630.3,399.7 630.9,400.1 631.4,400.3 631.9,400.1 632.5,399.6 633.0,399.4 633.6,399.5 634.1,399.8 634.7,399.7 635.2,399.9 635.7,400.3 636.3,400.2 636.8,400.0 637.4,399.8 637.9,399.8 638.5,399.8 639.0,399.9 639.5,399.9 640.1,399.9 640.6,399.9 641.2,400.3 641.7,400.2 642.3,400.2 642.8,400.2 643.4,399.6 643.9,399.3 644.4,399.3 645.0,399.6 645.5,400.1 646.1,400.3 646.6,400.4 647.2,399.7 647.7,399.8 648.2,399.5 648.8,399.3 649.3,399.4"/>
<polyline fill="none" stroke="#c24f5c" stroke-width="1.2" stroke-linejoin="round" points="466.9,418.1 467.4,418.0 468.0,419.2 468.5,419.7 469.0,419.4 469.6,418.8 470.1,418.6 470.7,418.7 471.2,419.1 471.8,419.0 472.3,418.7 472.8,418.9 473.4,419.0 473.9,418.5 474.5,418.0 475.0,418.0 475.6,417.9 476.1,417.3 476.6,417.2 477.2,417.7 477.7,417.7 478.3,417.8 478.8,417.7 479.4,418.1 479.9,418.2 480.5,417.8 481.0,417.0 481.5,417.0 482.1,418.0 482.6,417.9 483.2,418.0 483.7,417.4 484.3,416.9 484.8,417.0 485.3,416.8 485.9,417.2 486.4,417.7 487.0,417.8 487.5,418.1 488.1,417.4 488.6,416.9 489.1,416.4 489.7,416.4 490.2,416.6 490.8,416.3 491.3,416.3 491.9,416.2 492.4,416.2 492.9,416.7 493.5,415.8 494.0,415.9 494.6,416.2 495.1,415.7 495.7,414.5 496.2,414.2 496.7,415.5 497.3,416.1 497.8,415.7 498.4,415.7 498.9,415.6 499.5,415.4 500.0,415.8 500.5,416.2 501.1,416.0 501.6,415.6 502.2,415.7 502.7,415.2 503.3,415.0 503.8,415.5 504.3,415.9 504.9,415.8 505.4,415.3 506.0,415.5 506.5,415.5 507.1,415.1 507.6,414.8 508.1,414.7 508.7,414.8 509.2,414.5 509.8,413.9 510.3,413.8 510.9,414.0 511.4,414.2 511.9,413.9 512.5,413.4 513.0,413.3 513.6,413.4 514.1,412.7 514.7,412.2 515.2,412.1 515.7,412.1 516.3,411.8 516.8,411.3 517.4,411.2 517.9,411.3 518.5,411.1 519.0,410.7 519.5,410.1 520.1,410.1 520.6,410.2 521.2,409.7 521.7,409.9 522.3,409.5 522.8,409.1 523.3,408.5 523.9,408.7 524.4,408.3 525.0,408.1 525.5,408.0 526.1,407.9 526.6,407.2 527.1,406.9 527.7,406.4 528.2,405.5 528.8,405.1 529.3,404.9 529.9,405.0 530.4,405.0 531.0,404.9 531.5,404.7 532.0,404.0 532.6,403.4 533.1,403.7 533.7,403.1 534.2,402.2 534.8,401.7 535.3,401.7 535.8,401.1 536.4,401.3 536.9,400.5 537.5,399.4 538.0,399.4 538.6,399.3 539.1,398.0 539.6,397.3 540.2,396.6 540.7,396.9 541.3,397.0 541.8,396.1 542.4,395.3 542.9,394.8 543.4,394.4 544.0,394.2 544.5,394.3 545.1,393.9 545.6,392.6 546.2,392.4 546.7,393.5 547.2,393.6 547.8,393.0 548.3,393.3 548.9,393.9 549.4,394.3 550.0,394.4 550.5,394.7 551.0,395.0 551.6,395.5 552.1,395.7 552.7,395.9 553.2,396.2 553.8,396.6 554.3,397.4 554.8,397.8 555.4,398.0 555.9,398.2 556.5,398.7 557.0,398.8 557.6,398.4 558.1,398.3 558.6,399.1 559.2,400.0 559.7,401.0 560.3,401.3 560.8,401.5 561.4,401.9 561.9,401.4 562.4,401.7 563.0,402.1 563.5,402.1 564.1,402.3 564.6,402.6 565.2,402.7 565.7,402.9 566.2,402.4 566.8,403.0 567.3,403.5 567.9,402.8 568.4,402.5 569.0,402.8 569.5,402.7 570.0,402.6 570.6,402.2 571.1,402.2 571.7,401.9 572.2,400.9 572.8,401.2 573.3,401.1 573.8,400.3 574.4,400.0 574.9,400.3 575.5,399.8 576.0,399.7 576.6,399.6 577.1,399.1 577.6,398.2 578.2,398.1 578.7,397.6 579.3,397.0 579.8,397.4 580.4,397.4 580.9,396.9 581.4,396.7 582.0,396.4 582.5,395.7 583.1,394.9 583.6,394.9 584.2,394.1 584.7,393.6 585.2,393.6 585.8,393.9 586.3,393.7 586.9,393.4 587.4,392.7 588.0,392.4 588.5,391.9 589.1,391.7 589.6,391.8 590.1,391.4 590.7,391.0 591.2,391.4 591.8,391.8 592.3,392.7 592.9,392.9 593.4,393.3 593.9,393.9 594.5,395.5 595.0,396.6 595.6,397.2 596.1,398.4 596.7,399.7 597.2,401.6 597.7,402.5 598.3,403.9 598.8,405.0 599.4,407.0 599.9,408.1 600.5,408.6 601.0,408.9 601.5,409.4 602.1,410.3 602.6,410.7 603.2,411.0 603.7,412.0 604.3,412.5 604.8,412.7 605.3,413.2 605.9,414.0 606.4,414.5 607.0,414.8 607.5,414.9 608.1,415.1 608.6,416.2 609.1,416.2 609.7,416.2 610.2,416.7 610.8,416.6 611.3,416.7 611.9,416.5 612.4,417.1 612.9,417.4 613.5,417.8 614.0,418.5 614.6,418.6 615.1,418.4 615.7,418.9 616.2,419.3 616.7,419.0 617.3,418.3 617.8,418.5 618.4,418.9 618.9,418.6 619.5,419.2 620.0,419.5 620.5,419.9 621.1,419.6 621.6,419.5 622.2,419.2 622.7,419.0 623.3,419.3 623.8,419.4 624.3,419.8 624.9,420.0 625.4,419.8 626.0,419.6 626.5,419.6 627.1,419.4 627.6,419.5 628.1,419.7 628.7,419.8 629.2,419.6 629.8,419.5 630.3,419.3 630.9,419.8 631.4,420.3 631.9,419.9 632.5,419.6 633.0,419.4 633.6,419.2 634.1,419.7 634.7,419.9 635.2,419.7 635.7,419.5 636.3,419.6 636.8,419.7 637.4,420.0 637.9,419.7 638.5,419.8 639.0,419.5 639.5,419.3 640.1,419.6 640.6,419.6 641.2,419.6 641.7,419.8 642.3,419.3 642.8,419.5 643.4,419.6 643.9,419.5 644.4,419.5 645.0,419.1 645.5,419.1 646.1,419.6 646.6,419.9 647.2,420.1 647.7,420.0 648.2,419.8 648.8,419.8 649.3,419.9"/>
<polyline fill="none" stroke="#d98389" stroke-width="1.2" stroke-linejoin="round" points="466.9,433.8 467.4,433.8 468.0,433.5 468.5,433.0 469.0,433.3 469.6,433.1 470.1,433.1 470.7,433.3 471.2,432.8 471.8,432.4 472.3,432.4 472.8,432.2 473.4,432.0 473.9,432.5 474.5,432.6 475.0,432.0 475.6,432.4 476.1,432.7 476.6,432.5 477.2,432.0 477.7,432.2 478.3,432.3 478.8,432.3 479.4,432.0 479.9,432.3 480.5,432.3 481.0,431.5 481.5,431.8 482.1,431.6 482.6,431.7 483.2,431.9 483.7,432.3 484.3,432.2 484.8,432.0 485.3,431.6 485.9,432.0 486.4,432.2 487.0,431.7 487.5,431.9 488.1,431.8 488.6,431.5 489.1,431.2 489.7,431.4 490.2,431.5 490.8,431.7 491.3,431.9 491.9,431.9 492.4,431.3 492.9,431.6 493.5,431.6 494.0,431.4 494.6,431.4 495.1,431.3 495.7,431.4 496.2,431.2 496.7,430.9 497.3,431.0 497.8,431.1 498.4,430.7 498.9,430.8 499.5,431.3 500.0,431.0 500.5,430.5 501.1,430.6 501.6,431.1 502.2,430.7 502.7,430.1 503.3,430.4 503.8,430.3 504.3,430.1 504.9,429.8 505.4,430.0 506.0,429.9 506.5,429.9 507.1,430.6 507.6,431.1 508.1,430.6 508.7,430.0 509.2,429.6 509.8,429.6 510.3,429.4 510.9,429.2 511.4,429.7 511.9,429.6 512.5,429.2 513.0,429.0 513.6,429.6 514.1,429.9 514.7,429.5 515.2,429.2 515.7,429.3 516.3,428.6 516.8,428.4 517.4,429.5 517.9,429.6 518.5,428.9 519.0,428.9 519.5,429.1 520.1,428.4 520.6,428.5 521.2,428.9 521.7,428.9 522.3,428.1 522.8,427.8 523.3,428.0 523.9,427.9 524.4,428.2 525.0,427.7 525.5,427.6 526.1,427.5 526.6,427.1 527.1,426.8 527.7,427.4 528.2,427.3 528.8,427.2 529.3,426.9 529.9,426.4 530.4,426.2 531.0,426.3 531.5,426.4 532.0,425.7 532.6,425.0 533.1,425.3 533.7,425.3 534.2,425.5 534.8,425.2 535.3,425.1 535.8,424.9 536.4,424.6 536.9,424.1 537.5,423.9 538.0,423.8 538.6,423.8 539.1,423.3 539.6,422.6 540.2,422.6 540.7,422.8 541.3,422.4 541.8,421.7 542.4,421.6 542.9,421.9 543.4,421.4 544.0,420.8 544.5,421.4 545.1,421.2 545.6,420.7 546.2,420.3 546.7,420.0 547.2,420.1 547.8,420.1 548.3,420.0 548.9,420.1 549.4,421.3 550.0,421.7 550.5,421.6 551.0,421.5 551.6,421.5 552.1,421.7 552.7,422.0 553.2,422.1 553.8,422.6 554.3,422.7 554.8,422.8 555.4,423.1 555.9,423.4 556.5,423.6 557.0,423.3 557.6,423.2 558.1,423.7 558.6,424.4 559.2,424.6 559.7,424.2 560.3,423.6 560.8,423.5 561.4,423.6 561.9,424.1 562.4,424.1 563.0,424.2 563.5,424.9 564.1,424.9 564.6,424.6 565.2,424.6 565.7,424.1 566.2,424.6 566.8,425.0 567.3,425.5 567.9,425.4 568.4,424.9 569.0,424.5 569.5,424.4 570.0,424.5 570.6,424.3 571.1,424.3 571.7,424.6 572.2,424.0 572.8,423.5 573.3,423.8 573.8,423.7 574.4,423.8 574.9,423.8 575.5,422.9 576.0,422.5 576.6,422.7 577.1,423.4 577.6,423.7 578.2,423.4 578.7,422.6 579.3,422.4 579.8,422.4 580.4,421.9 580.9,421.9 581.4,421.8 582.0,421.8 582.5,421.4 583.1,421.6 583.6,421.2 584.2,420.4 584.7,419.6 585.2,419.7 585.8,419.7 586.3,419.7 586.9,419.5 587.4,419.5 588.0,418.5 588.5,417.8 589.1,418.0 589.6,417.6 590.1,417.7 590.7,417.7 591.2,418.0 591.8,417.8 592.3,418.0 592.9,418.0 593.4,418.7 593.9,418.8 594.5,419.6 595.0,420.3 595.6,420.5 596.1,421.1 596.7,422.1 597.2,422.4 597.7,423.0 598.3,423.9 598.8,424.3 599.4,424.6 599.9,424.9 600.5,424.6 601.0,424.7 601.5,425.8 602.1,426.6 602.6,426.7 603.2,427.1 603.7,427.8 604.3,428.4 604.8,428.6 605.3,428.6 605.9,429.1 606.4,429.4 607.0,429.8 607.5,430.7 608.1,431.0 608.6,430.1 609.1,430.2 609.7,430.3 610.2,430.8 610.8,432.0 611.3,432.7 611.9,432.3 612.4,431.6 612.9,431.1 613.5,431.3 614.0,432.4 614.6,432.6 615.1,432.4 615.7,432.8 616.2,432.9 616.7,432.9 617.3,432.8 617.8,432.9 618.4,432.5 618.9,432.9 619.5,433.4 620.0,433.0 620.5,433.1 621.1,433.1 621.6,432.9 622.2,432.8 622.7,432.8 623.3,433.3 623.8,434.0 624.3,433.4 624.9,433.2 625.4,433.4 626.0,432.5 626.5,432.6 627.1,433.0 627.6,433.2 628.1,433.1 628.7,433.1 629.2,433.0 629.8,433.1 630.3,433.1 630.9,433.1 631.4,433.5 631.9,432.9 632.5,433.5 633.0,433.7 633.6,433.5 634.1,433.4 634.7,433.0 635.2,433.5 635.7,433.5 636.3,433.6 636.8,433.7 637.4,433.8 637.9,433.9 638.5,433.8 639.0,433.7 639.5,433.3 640.1,433.4 640.6,432.8 641.2,432.6 641.7,432.2 642.3,433.1 642.8,433.6 643.4,432.8 643.9,432.8 644.4,433.0 645.0,433.1 645.5,433.6 646.1,433.3 646.6,434.1 647.2,434.0 647.7,433.5 648.2,433.8 648.8,433.5 649.3,433.2"/>
<polyline fill="none" stroke="#eebcc1" stroke-width="1.2" stroke-linejoin="round" points="466.9,454.2 467.4,454.4 468.0,454.4 468.5,454.3 469.0,454.5 469.6,454.7 470.1,454.2 470.7,453.9 471.2,454.1 471.8,454.1 472.3,454.3 472.8,454.0 473.4,454.0 473.9,453.7 474.5,454.1 475.0,453.6 475.6,453.4 476.1,453.9 476.6,454.4 477.2,453.8 477.7,453.3 478.3,452.8 478.8,453.4 479.4,453.4 479.9,453.6 480.5,453.6 481.0,452.7 481.5,452.9 482.1,453.5 482.6,453.6 483.2,453.0 483.7,452.4 484.3,452.3 484.8,452.4 485.3,452.7 485.9,452.8 486.4,452.7 487.0,452.6 487.5,452.5 488.1,452.1 488.6,452.0 489.1,451.5 489.7,451.8 490.2,452.4 490.8,452.5 491.3,452.3 491.9,451.7 492.4,451.9 492.9,451.7 493.5,451.7 494.0,451.1 494.6,451.2 495.1,451.3 495.7,450.9 496.2,451.2 496.7,452.1 497.3,452.0 497.8,451.6 498.4,451.2 498.9,451.0 499.5,451.3 500.0,452.0 500.5,451.6 501.1,451.2 501.6,450.9 502.2,450.9 502.7,450.9 503.3,450.7 503.8,450.6 504.3,450.5 504.9,450.3 505.4,450.2 506.0,450.4 506.5,450.3 507.1,450.3 507.6,450.0 508.1,449.5 508.7,449.7 509.2,449.8 509.8,449.8 510.3,449.5 510.9,449.4 511.4,449.5 511.9,449.2 512.5,448.8 513.0,448.9 513.6,448.4 514.1,448.2 514.7,448.3 515.2,447.7 515.7,447.1 516.3,447.3 516.8,447.5 517.4,447.6 517.9,446.8 518.5,446.5 519.0,446.9 519.5,446.8 520.1,446.6 520.6,446.2 521.2,446.0 521.7,445.8 522.3,445.5 522.8,445.3 523.3,445.3 523.9,444.7 524.4,444.4 525.0,444.7 525.5,444.8 526.1,443.5 526.6,443.2 527.1,443.1 527.7,443.5 528.2,443.2 528.8,442.7 529.3,443.0 529.9,442.8 530.4,443.3 531.0,442.9 531.5,442.4 532.0,442.0 532.6,441.9 533.1,441.4 533.7,440.6 534.2,440.4 534.8,440.1 535.3,439.8 535.8,439.4 536.4,439.0 536.9,438.5 537.5,437.8 538.0,437.4 538.6,436.0 539.1,435.3 539.6,434.7 540.2,434.5 540.7,433.7 541.3,432.9 541.8,432.0 542.4,431.6 542.9,431.0 543.4,430.4 544.0,430.0 544.5,429.2 545.1,428.0 545.6,426.9 546.2,426.7 546.7,426.9 547.2,426.5 547.8,426.2 548.3,425.6 548.9,425.9 549.4,425.9 550.0,426.0 550.5,426.2 551.0,426.8 551.6,427.8 552.1,428.6 552.7,429.2 553.2,430.0 553.8,430.6 554.3,430.8 554.8,431.6 555.4,432.9 555.9,434.0 556.5,435.0 557.0,435.0 557.6,435.1 558.1,435.7 558.6,436.3 559.2,436.4 559.7,436.4 560.3,435.8 560.8,436.8 561.4,438.3 561.9,438.1 562.4,438.1 563.0,438.4 563.5,438.9 564.1,438.9 564.6,439.0 565.2,439.3 565.7,439.8 566.2,440.4 566.8,440.4 567.3,440.4 567.9,440.6 568.4,440.9 569.0,440.9 569.5,440.5 570.0,439.9 570.6,439.8 571.1,440.2 571.7,440.3 572.2,440.4 572.8,439.7 573.3,439.5 573.8,439.1 574.4,438.7 574.9,438.5 575.5,438.2 576.0,437.8 576.6,437.1 577.1,436.9 577.6,437.0 578.2,437.1 578.7,436.5 579.3,435.9 579.8,436.0 580.4,435.5 580.9,434.7 581.4,434.3 582.0,433.2 582.5,433.0 583.1,432.7 583.6,431.5 584.2,430.9 584.7,430.7 585.2,429.6 585.8,428.8 586.3,428.3 586.9,427.7 587.4,426.2 588.0,425.5 588.5,425.7 589.1,424.8 589.6,423.8 590.1,423.8 590.7,423.8 591.2,423.5 591.8,423.5 592.3,423.2 592.9,423.4 593.4,423.7 593.9,425.0 594.5,426.5 595.0,428.7 595.6,430.3 596.1,431.9 596.7,433.4 597.2,434.8 597.7,436.6 598.3,438.5 598.8,440.2 599.4,442.1 599.9,443.9 600.5,444.5 601.0,445.2 601.5,446.0 602.1,447.0 602.6,447.2 603.2,447.8 603.7,449.0 604.3,449.2 604.8,449.6 605.3,450.2 605.9,450.5 606.4,450.6 607.0,450.9 607.5,451.3 608.1,451.5 608.6,451.6 609.1,452.0 609.7,452.3 610.2,452.9 610.8,453.4 611.3,453.4 611.9,453.5 612.4,453.4 612.9,452.9 613.5,452.1 614.0,452.3 614.6,453.0 615.1,453.4 615.7,453.9 616.2,453.6 616.7,453.4 617.3,453.4 617.8,453.5 618.4,454.2 618.9,454.8 619.5,454.1 620.0,454.2 620.5,454.5 621.1,454.2 621.6,454.1 622.2,454.5 622.7,454.5 623.3,454.4 623.8,454.1 624.3,454.4 624.9,454.5 625.4,454.6 626.0,454.8 626.5,454.5 627.1,454.2 627.6,454.4 628.1,454.2 628.7,454.2 629.2,454.2 629.8,454.1 630.3,454.6 630.9,454.6 631.4,454.7 631.9,454.7 632.5,454.6 633.0,454.2 633.6,454.6 634.1,454.8 634.7,454.4 635.2,454.8 635.7,454.9 636.3,454.7 636.8,455.0 637.4,454.7 637.9,454.3 638.5,454.6 639.0,454.5 639.5,454.6 640.1,454.2 640.6,453.9 641.2,454.3 641.7,454.6 642.3,454.3 642.8,454.9 643.4,454.9 643.9,454.9 644.4,454.9 645.0,454.9 645.5,454.4 646.1,454.1 646.6,454.2 647.2,454.6 647.7,454.5 648.2,454.7 648.8,454.8 649.3,454.9"/>
<rect x="21.7" y="282.0" width="182.3" height="184.3" fill="none" stroke="#555" stroke-width="1.2"/>
<line x1="40.6" y1="466.3" x2="40.6" y2="462.8" stroke="#555" stroke-width="1.1"/>
<text x="40.6" y="479.8" font-size="10" fill="#222" text-anchor="middle">1000</text>
<line x1="76.8" y1="466.3" x2="76.8" y2="462.8" stroke="#555" stroke-width="1.1"/>
<text x="76.8" y="479.8" font-size="10" fill="#222" text-anchor="middle">1200</text>
<line x1="113.0" y1="466.3" x2="113.0" y2="462.8" stroke="#555" stroke-width="1.1"/>
<text x="113.0" y="479.8" font-size="10" fill="#222" text-anchor="middle">1400</text>
<line x1="149.2" y1="466.3" x2="149.2" y2="462.8" stroke="#555" stroke-width="1.1"/>
<text x="149.2" y="479.8" font-size="10" fill="#222" text-anchor="middle">1600</text>
<line x1="185.4" y1="466.3" x2="185.4" y2="462.8" stroke="#555" stroke-width="1.1"/>
<text x="185.4" y="479.8" font-size="10" fill="#222" text-anchor="middle">1800</text>
<text x="112.8" y="494.7" font-size="11.2" fill="#222" text-anchor="middle">Raman shift (cm<tspan dy="-4" font-size="7">-1</tspan><tspan dy="4">)</tspan></text>
<text x="0" y="0" font-size="11.4" fill="#222" text-anchor="middle" transform="translate(9.0,373.4) rotate(-90)">Intensity (a.u.)</text>
<line x1="52.3" y1="319.5" x2="52.3" y2="466.0" stroke="#333" stroke-width="0.8" stroke-dasharray="2,1.6"/>
<text x="26.5" y="292.6" font-size="10" fill="#4aa8b5" font-weight="bold">CS-low</text>
<text x="199.3" y="322.4" font-size="9.2" fill="#5aaebb" text-anchor="end">-0.04V</text>
<text x="199.3" y="340.3" font-size="9.2" fill="#5aaebb" text-anchor="end">0.16 V</text>
<text x="199.3" y="358.5" font-size="9.2" fill="#5aaebb" text-anchor="end">0.36 V</text>
<text x="199.3" y="377.0" font-size="9.2" fill="#5aaebb" text-anchor="end">0.56 V</text>
<text x="199.3" y="395.3" font-size="9.2" fill="#5aaebb" text-anchor="end">0.76 V</text>
<text x="199.3" y="414.0" font-size="9.2" fill="#5aaebb" text-anchor="end">0.86 V</text>
<text x="199.3" y="432.8" font-size="9.2" fill="#5aaebb" text-anchor="end">0.96 V</text>
<text x="199.3" y="451.6" font-size="9.2" fill="#5aaebb" text-anchor="end">OCV</text>
<rect x="242.6" y="282.8" width="182.3" height="184.6" fill="none" stroke="#555" stroke-width="1.2"/>
<line x1="261.5" y1="467.4" x2="261.5" y2="463.9" stroke="#555" stroke-width="1.1"/>
<text x="261.5" y="479.8" font-size="10" fill="#222" text-anchor="middle">1000</text>
<line x1="297.7" y1="467.4" x2="297.7" y2="463.9" stroke="#555" stroke-width="1.1"/>
<text x="297.7" y="479.8" font-size="10" fill="#222" text-anchor="middle">1200</text>
<line x1="333.9" y1="467.4" x2="333.9" y2="463.9" stroke="#555" stroke-width="1.1"/>
<text x="333.9" y="479.8" font-size="10" fill="#222" text-anchor="middle">1400</text>
<line x1="370.1" y1="467.4" x2="370.1" y2="463.9" stroke="#555" stroke-width="1.1"/>
<text x="370.1" y="479.8" font-size="10" fill="#222" text-anchor="middle">1600</text>
<line x1="406.3" y1="467.4" x2="406.3" y2="463.9" stroke="#555" stroke-width="1.1"/>
<text x="406.3" y="479.8" font-size="10" fill="#222" text-anchor="middle">1800</text>
<text x="333.8" y="494.7" font-size="11.2" fill="#222" text-anchor="middle">Raman shift (cm<tspan dy="-4" font-size="7">-1</tspan><tspan dy="4">)</tspan></text>
<text x="0" y="0" font-size="11.4" fill="#222" text-anchor="middle" transform="translate(228.6,371.8) rotate(-90)">Intensity (a.u.)</text>
<line x1="272.9" y1="310.0" x2="272.9" y2="467.0" stroke="#333" stroke-width="0.8" stroke-dasharray="2,1.6"/>
<text x="247.0" y="293.7" font-size="10" fill="#2b6fb4" font-weight="bold">CS-middle</text>
<text x="418.4" y="310.7" font-size="9.2" fill="#3476b8" text-anchor="end">-0.04V</text>
<text x="418.4" y="330.8" font-size="9.2" fill="#3476b8" text-anchor="end">0.16 V</text>
<text x="418.4" y="349.2" font-size="9.2" fill="#3476b8" text-anchor="end">0.36 V</text>
<text x="418.4" y="369.2" font-size="9.2" fill="#3476b8" text-anchor="end">0.56 V</text>
<text x="418.4" y="389.8" font-size="9.2" fill="#3476b8" text-anchor="end">0.76 V</text>
<text x="418.4" y="409.0" font-size="9.2" fill="#3476b8" text-anchor="end">0.86 V</text>
<text x="418.4" y="428.5" font-size="9.2" fill="#3476b8" text-anchor="end">0.96 V</text>
<text x="418.4" y="448.2" font-size="9.2" fill="#3476b8" text-anchor="end">OCV</text>
<rect x="466.8" y="282.0" width="182.2" height="184.4" fill="none" stroke="#555" stroke-width="1.2"/>
<line x1="485.7" y1="466.4" x2="485.7" y2="462.9" stroke="#555" stroke-width="1.1"/>
<text x="485.7" y="479.8" font-size="10" fill="#222" text-anchor="middle">1000</text>
<line x1="521.9" y1="466.4" x2="521.9" y2="462.9" stroke="#555" stroke-width="1.1"/>
<text x="521.9" y="479.8" font-size="10" fill="#222" text-anchor="middle">1200</text>
<line x1="558.1" y1="466.4" x2="558.1" y2="462.9" stroke="#555" stroke-width="1.1"/>
<text x="558.1" y="479.8" font-size="10" fill="#222" text-anchor="middle">1400</text>
<line x1="594.3" y1="466.4" x2="594.3" y2="462.9" stroke="#555" stroke-width="1.1"/>
<text x="594.3" y="479.8" font-size="10" fill="#222" text-anchor="middle">1600</text>
<line x1="630.5" y1="466.4" x2="630.5" y2="462.9" stroke="#555" stroke-width="1.1"/>
<text x="630.5" y="479.8" font-size="10" fill="#222" text-anchor="middle">1800</text>
<text x="557.9" y="494.7" font-size="11.2" fill="#222" text-anchor="middle">Raman shift (cm<tspan dy="-4" font-size="7">-1</tspan><tspan dy="4">)</tspan></text>
<text x="0" y="0" font-size="11.4" fill="#222" text-anchor="middle" transform="translate(452.8,372.4) rotate(-90)">Intensity (a.u.)</text>
<line x1="496.2" y1="320.0" x2="496.2" y2="466.0" stroke="#333" stroke-width="0.8" stroke-dasharray="2,1.6"/>
<text x="471.5" y="292.6" font-size="10" fill="#a21d50" font-weight="bold">CS-top</text>
<text x="640.0" y="327.8" font-size="9.2" fill="#a3335e" text-anchor="end">-0.04V</text>
<text x="640.0" y="345.3" font-size="9.2" fill="#a3335e" text-anchor="end">0.16 V</text>
<text x="640.0" y="357.4" font-size="9.2" fill="#a3335e" text-anchor="end">0.36 V</text>
<text x="640.0" y="380.0" font-size="9.2" fill="#a3335e" text-anchor="end">0.56V</text>
<text x="640.0" y="396.0" font-size="9.2" fill="#a3335e" text-anchor="end">0.76 V</text>
<text x="640.0" y="414.9" font-size="9.2" fill="#a3335e" text-anchor="end">0.86 V</text>
<text x="640.0" y="427.5" font-size="9.2" fill="#a3335e" text-anchor="end">0.96 V</text>
<text x="640.0" y="450.3" font-size="9.2" fill="#a3335e" text-anchor="end">OCV</text>
<rect x="20.7" y="521.3" width="181.6" height="153.7" fill="none" stroke="#444" stroke-width="1.2"/>
<line x1="39.2" y1="675.0" x2="39.2" y2="671.5" stroke="#444" stroke-width="1.1"/>
<text x="39.2" y="690.7" font-size="10" fill="#222" text-anchor="middle">1000</text>
<line x1="75.6" y1="675.0" x2="75.6" y2="671.5" stroke="#444" stroke-width="1.1"/>
<text x="75.6" y="690.7" font-size="10" fill="#222" text-anchor="middle">1200</text>
<line x1="112.0" y1="675.0" x2="112.0" y2="671.5" stroke="#444" stroke-width="1.1"/>
<text x="112.0" y="690.7" font-size="10" fill="#222" text-anchor="middle">1400</text>
<line x1="148.4" y1="675.0" x2="148.4" y2="671.5" stroke="#444" stroke-width="1.1"/>
<text x="148.4" y="690.7" font-size="10" fill="#222" text-anchor="middle">1600</text>
<line x1="184.8" y1="675.0" x2="184.8" y2="671.5" stroke="#444" stroke-width="1.1"/>
<text x="184.8" y="690.7" font-size="10" fill="#222" text-anchor="middle">1800</text>
<text x="111.5" y="706.0" font-size="11.3" fill="#222" text-anchor="middle">Raman shift (cm<tspan dy="-4" font-size="7">-1</tspan><tspan dy="4">)</tspan></text>
<text x="0" y="0" font-size="11.4" fill="#222" text-anchor="middle" transform="translate(9.0,600.9) rotate(-90)">Intensity (a.u.)</text>
<polyline fill="none" stroke="#c01f55" stroke-width="1.3" stroke-linejoin="round" points="21.0,597.9 21.6,598.0 22.3,597.7 22.9,597.1 23.5,597.2 24.2,597.4 24.8,597.1 25.5,597.0 26.1,596.5 26.7,596.1 27.4,596.7 28.0,596.4 28.6,595.3 29.3,595.3 29.9,594.6 30.6,593.7 31.2,594.0 31.8,593.9 32.5,593.5 33.1,593.3 33.7,593.3 34.4,593.6 35.0,593.1 35.7,592.3 36.3,592.2 36.9,591.9 37.6,591.8 38.2,592.7 38.8,593.7 39.5,593.5 40.1,592.5 40.7,592.0 41.4,592.2 42.0,593.0 42.7,593.5 43.3,593.4 43.9,593.3 44.6,593.7 45.2,593.1 45.8,591.1 46.5,590.3 47.1,591.5 47.8,591.8 48.4,590.7 49.0,588.7 49.7,585.0 50.3,581.7 50.9,583.6 51.6,588.2 52.2,590.8 52.9,591.6 53.5,592.4 54.1,592.9 54.8,593.1 55.4,593.3 56.0,593.7 56.7,594.0 57.3,594.2 57.9,594.2 58.6,594.5 59.2,595.3 59.9,595.8 60.5,596.1 61.1,596.7 61.8,597.2 62.4,597.5 63.0,598.6 63.7,599.3 64.3,599.4 65.0,600.5 65.6,601.0 66.2,599.5 66.9,597.7 67.5,597.3 68.1,598.5 68.8,599.5 69.4,599.0 70.0,597.9 70.7,596.6 71.3,595.8 72.0,595.3 72.6,594.3 73.2,594.1 73.9,594.0 74.5,593.5 75.1,592.7 75.8,592.0 76.4,591.7 77.1,590.6 77.7,588.7 78.3,587.8 79.0,587.9 79.6,588.1 80.2,587.5 80.9,586.6 81.5,585.8 82.2,585.4 82.8,584.5 83.4,582.5 84.1,581.2 84.7,581.2 85.3,580.5 86.0,579.4 86.6,578.1 87.2,576.3 87.9,575.6 88.5,576.2 89.2,576.2 89.8,575.1 90.4,573.8 91.1,572.7 91.7,571.8 92.3,571.2 93.0,570.5 93.6,570.1 94.3,570.6 94.9,570.3 95.5,568.9 96.2,569.0 96.8,568.8 97.4,567.8 98.1,567.7 98.7,567.5 99.4,566.6 100.0,565.6 100.6,565.5 101.3,566.8 101.9,567.3 102.5,565.8 103.2,563.9 103.8,563.1 104.4,562.4 105.1,561.3 105.7,561.0 106.4,561.1 107.0,560.0 107.6,558.9 108.3,559.2 108.9,560.6 109.5,561.4 110.2,562.8 110.8,564.6 111.5,565.5 112.1,566.3 112.7,568.8 113.4,570.9 114.0,572.0 114.6,574.1 115.3,575.5 115.9,575.3 116.5,576.0 117.2,577.0 117.8,576.6 118.5,576.5 119.1,577.2 119.7,576.9 120.4,576.4 121.0,576.1 121.6,575.8 122.3,575.8 122.9,575.8 123.6,576.3 124.2,576.8 124.8,577.0 125.5,577.0 126.1,576.9 126.7,576.0 127.4,575.3 128.0,574.8 128.7,573.8 129.3,573.7 129.9,573.8 130.6,573.5 131.2,573.7 131.8,572.5 132.5,571.1 133.1,570.8 133.7,570.7 134.4,570.5 135.0,570.4 135.7,570.0 136.3,569.1 136.9,568.0 137.6,567.2 138.2,566.7 138.8,565.2 139.5,564.2 140.1,564.3 140.8,562.9 141.4,561.2 142.0,560.9 142.7,560.4 143.3,559.1 143.9,558.7 144.6,559.5 145.2,559.4 145.9,558.3 146.5,557.4 147.1,558.0 147.8,559.7 148.4,560.6 149.0,561.8 149.7,563.6 150.3,565.6 150.9,567.8 151.6,570.6 152.2,573.9 152.9,576.0 153.5,578.0 154.1,579.8 154.8,580.9 155.4,583.1 156.0,584.6 156.7,584.8 157.3,586.0 158.0,587.4 158.6,588.7 159.2,589.2 159.9,589.8 160.5,591.0 161.1,591.9 161.8,592.7 162.4,594.0 163.1,594.6 163.7,593.9 164.3,593.3 165.0,593.9 165.6,594.6 166.2,595.0 166.9,595.3 167.5,595.9 168.1,595.8 168.8,595.4 169.4,595.0 170.1,594.6 170.7,595.4 171.3,595.6 172.0,595.3 172.6,595.9 173.2,596.4 173.9,596.3 174.5,596.4 175.2,596.8 175.8,596.9 176.4,596.4 177.1,595.8 177.7,595.3 178.3,595.3 179.0,595.5 179.6,594.6 180.2,594.0 180.9,594.8 181.5,595.2 182.2,594.8 182.8,594.7 183.4,594.2 184.1,593.4 184.7,593.5 185.3,593.9 186.0,593.1 186.6,592.4 187.3,593.8 187.9,594.6 188.5,594.4 189.2,595.1 189.8,595.5 190.4,595.9 191.1,597.0 191.7,597.5 192.4,597.4 193.0,597.5 193.6,597.3 194.3,597.4 194.9,598.3 195.5,598.4 196.2,598.2 196.8,598.5 197.4,598.2 198.1,597.9 198.7,598.3 199.4,598.4 200.0,598.7 200.6,599.1 201.3,599.6 201.9,599.6 202.3,598.8 202.3,598.1"/>
<polyline fill="none" stroke="#3d3d3d" stroke-width="1.3" stroke-linejoin="round" points="21.0,668.1 21.6,667.5 22.3,666.7 22.9,665.9 23.5,664.4 24.2,663.9 24.8,664.9 25.5,664.0 26.1,661.9 26.7,661.4 27.4,661.9 28.0,662.6 28.6,662.8 29.3,661.9 29.9,661.0 30.6,660.8 31.2,660.4 31.8,659.9 32.5,659.0 33.1,658.9 33.7,659.5 34.4,659.1 35.0,658.4 35.7,657.9 36.3,657.5 36.9,657.8 37.6,658.5 38.2,658.8 38.8,658.0 39.5,658.1 40.1,659.1 40.7,658.8 41.4,657.7 42.0,656.8 42.7,656.6 43.3,656.4 43.9,655.4 44.6,655.6 45.2,657.2 45.8,658.1 46.5,656.7 47.1,654.7 47.8,654.0 48.4,653.3 49.0,650.3 49.7,646.9 50.3,646.9 50.9,650.0 51.6,652.8 52.2,655.4 52.9,658.0 53.5,659.0 54.1,658.1 54.8,657.9 55.4,659.4 56.0,660.8 56.7,660.4 57.3,659.7 57.9,660.5 58.6,661.2 59.2,661.0 59.9,660.9 60.5,660.7 61.1,660.2 61.8,659.6 62.4,659.0 63.0,658.5 63.7,658.5 64.3,659.4 65.0,659.5 65.6,658.9 66.2,658.3 66.9,657.4 67.5,656.5 68.1,656.0 68.8,655.4 69.4,654.1 70.0,652.8 70.7,652.8 71.3,653.0 72.0,652.1 72.6,650.7 73.2,649.7 73.9,650.2 74.5,650.7 75.1,650.1 75.8,649.5 76.4,649.0 77.1,648.5 77.7,647.7 78.3,647.4 79.0,647.3 79.6,646.3 80.2,645.0 80.9,644.1 81.5,643.6 82.2,643.3 82.8,642.8 83.4,642.5 84.1,641.9 84.7,640.5 85.3,639.5 86.0,639.2 86.6,638.5 87.2,638.0 87.9,637.3 88.5,636.8 89.2,636.7 89.8,636.0 90.4,634.5 91.1,632.7 91.7,631.6 92.3,631.7 93.0,631.3 93.6,630.2 94.3,628.7 94.9,627.0 95.5,625.5 96.2,622.8 96.8,619.6 97.4,618.1 98.1,617.7 98.7,616.8 99.4,615.7 100.0,614.9 100.6,614.9 101.3,615.2 101.9,614.7 102.5,614.7 103.2,614.8 103.8,615.1 104.4,617.3 105.1,619.5 105.7,620.9 106.4,623.1 107.0,624.6 107.6,625.7 108.3,627.3 108.9,628.5 109.5,630.1 110.2,631.8 110.8,632.4 111.5,633.0 112.1,634.0 112.7,636.3 113.4,638.7 114.0,638.1 114.6,636.0 115.3,635.5 115.9,636.7 116.5,637.1 117.2,636.8 117.8,637.3 118.5,637.3 119.1,637.1 119.7,637.2 120.4,636.8 121.0,635.7 121.6,635.5 122.3,636.0 122.9,635.2 123.6,634.3 124.2,634.5 124.8,634.5 125.5,635.4 126.1,636.8 126.7,635.8 127.4,633.4 128.0,632.3 128.7,632.3 129.3,632.2 129.9,632.3 130.6,632.5 131.2,632.1 131.8,630.9 132.5,629.7 133.1,629.5 133.7,629.5 134.4,629.4 135.0,628.7 135.7,627.2 136.3,626.2 136.9,625.4 137.6,624.9 138.2,624.7 138.8,624.4 139.5,623.3 140.1,621.5 140.8,621.0 141.4,619.7 142.0,617.7 142.7,617.2 143.3,616.8 143.9,616.5 144.6,615.5 145.2,614.0 145.9,613.6 146.5,614.1 147.1,614.4 147.8,615.5 148.4,617.5 149.0,618.7 149.7,620.0 150.3,622.7 150.9,625.4 151.6,628.3 152.2,631.8 152.9,634.8 153.5,637.4 154.1,640.3 154.8,642.8 155.4,644.6 156.0,647.2 156.7,649.4 157.3,650.1 158.0,650.8 158.6,652.4 159.2,654.1 159.9,655.3 160.5,656.4 161.1,657.2 161.8,658.1 162.4,659.0 163.1,659.2 163.7,659.9 164.3,661.2 165.0,661.7 165.6,662.2 166.2,662.1 166.9,661.8 167.5,662.6 168.1,662.7 168.8,662.2 169.4,662.0 170.1,662.3 170.7,663.4 171.3,664.2 172.0,663.1 172.6,662.1 173.2,663.1 173.9,664.3 174.5,664.4 175.2,664.1 175.8,663.0 176.4,662.0 177.1,661.9 177.7,662.1 178.3,662.8 179.0,662.6 179.6,661.6 180.2,661.5 180.9,661.9 181.5,662.7 182.2,663.9 182.8,664.1 183.4,663.5 184.1,662.7 184.7,662.1 185.3,661.5 186.0,661.0 186.6,661.5 187.3,662.4 187.9,662.5 188.5,662.0 189.2,661.4 189.8,660.5 190.4,659.9 191.1,660.2 191.7,660.5 192.4,661.1 193.0,661.4 193.6,660.7 194.3,660.7 194.9,661.7 195.5,662.4 196.2,663.2 196.8,664.3 197.4,664.9 198.1,664.3 198.7,663.4 199.4,664.2 200.0,665.2 200.6,664.4 201.3,664.6 201.9,665.8 202.3,665.8 202.3,665.3"/>
<line x1="50.3" y1="584.0" x2="50.3" y2="675.0" stroke="#222" stroke-width="0.9" stroke-dasharray="3,2"/>
<text x="27.8" y="537.2" font-size="10.5" fill="#222"><tspan font-style="italic">E</tspan> = 0.16V</text>
<text x="189.2" y="537.2" font-size="10.5" fill="#c0245a" text-anchor="end">CS-top</text>
<text x="48.2" y="576.2" font-size="10.5" fill="#222" text-anchor="middle">1060</text>
<text x="176.7" y="588.4" font-size="10.5" fill="#c0245a">D<tspan font-size="7.5">2</tspan>O</text>
<text x="176.7" y="655.0" font-size="10.5" fill="#555">H<tspan font-size="7.5">2</tspan>O</text>
<rect x="244.7" y="521.1" width="183.4" height="154.2" fill="none" stroke="#333" stroke-width="1.2"/>
<line x1="244.7" y1="572.7" x2="428.1" y2="572.7" stroke="#333" stroke-width="1.2"/>
<line x1="244.7" y1="624.0" x2="428.1" y2="624.0" stroke="#333" stroke-width="1.2"/>
<text x="240.3" y="524.7" font-size="10" fill="#222" text-anchor="end">0</text>
<line x1="244.7" y1="535.0" x2="248.5" y2="535.0" stroke="#333" stroke-width="1.1"/>
<text x="240.3" y="538.6" font-size="10" fill="#222" text-anchor="end">-4</text>
<line x1="244.7" y1="548.9" x2="248.5" y2="548.9" stroke="#333" stroke-width="1.1"/>
<text x="240.3" y="552.5" font-size="10" fill="#222" text-anchor="end">-8</text>
<line x1="244.7" y1="562.8" x2="248.5" y2="562.8" stroke="#333" stroke-width="1.1"/>
<text x="240.3" y="566.4" font-size="10" fill="#222" text-anchor="end">-12</text>
<line x1="305.8" y1="572.7" x2="305.8" y2="568.9" stroke="#333" stroke-width="1.1"/>
<line x1="367.0" y1="572.7" x2="367.0" y2="568.9" stroke="#333" stroke-width="1.1"/>
<text x="240.3" y="576.3" font-size="10" fill="#222" text-anchor="end">0</text>
<line x1="244.7" y1="586.6" x2="248.5" y2="586.6" stroke="#333" stroke-width="1.1"/>
<text x="240.3" y="590.2" font-size="10" fill="#222" text-anchor="end">-4</text>
<line x1="244.7" y1="600.5" x2="248.5" y2="600.5" stroke="#333" stroke-width="1.1"/>
<text x="240.3" y="604.1" font-size="10" fill="#222" text-anchor="end">-8</text>
<line x1="244.7" y1="614.4" x2="248.5" y2="614.4" stroke="#333" stroke-width="1.1"/>
<text x="240.3" y="618.0" font-size="10" fill="#222" text-anchor="end">-12</text>
<line x1="305.8" y1="624.0" x2="305.8" y2="620.2" stroke="#333" stroke-width="1.1"/>
<line x1="367.0" y1="624.0" x2="367.0" y2="620.2" stroke="#333" stroke-width="1.1"/>
<text x="240.3" y="627.6" font-size="10" fill="#222" text-anchor="end">0</text>
<line x1="244.7" y1="637.9" x2="248.5" y2="637.9" stroke="#333" stroke-width="1.1"/>
<text x="240.3" y="641.5" font-size="10" fill="#222" text-anchor="end">-4</text>
<line x1="244.7" y1="651.8" x2="248.5" y2="651.8" stroke="#333" stroke-width="1.1"/>
<text x="240.3" y="655.4" font-size="10" fill="#222" text-anchor="end">-8</text>
<line x1="244.7" y1="665.7" x2="248.5" y2="665.7" stroke="#333" stroke-width="1.1"/>
<text x="240.3" y="669.3" font-size="10" fill="#222" text-anchor="end">-12</text>
<line x1="305.8" y1="675.3" x2="305.8" y2="671.5" stroke="#333" stroke-width="1.1"/>
<line x1="367.0" y1="675.3" x2="367.0" y2="671.5" stroke="#333" stroke-width="1.1"/>
<text x="244.7" y="688.0" font-size="10" fill="#222" text-anchor="middle">0.5</text>
<text x="305.8" y="688.0" font-size="10" fill="#222" text-anchor="middle">0.6</text>
<text x="367.0" y="688.0" font-size="10" fill="#222" text-anchor="middle">0.7</text>
<text x="428.1" y="688.0" font-size="10" fill="#222" text-anchor="middle">0.8</text>
<text x="336.5" y="706.4" font-size="11.5" fill="#222" text-anchor="middle">Potential (V <tspan font-style="italic">vs</tspan> RHE)</text>
<text x="0" y="0" font-size="11.6" fill="#222" text-anchor="middle" transform="translate(220.2,597.7) rotate(-90)">Current density (mA cm<tspan dy="-4" font-size="7">-2</tspan><tspan dy="4">)</tspan></text>
<polyline fill="none" stroke="#c2245a" stroke-width="1.2" stroke-dasharray="3,2" points="282.8,569.1 284.4,566.2 286.0,563.4 287.7,560.9 289.3,558.4 290.9,556.1 292.5,553.8 294.2,551.8 295.8,549.8 297.4,548.0 299.0,546.2 300.6,544.5 302.3,542.9 303.9,541.3 305.5,539.8 307.1,538.3 308.8,537.0 310.4,535.6 312.0,534.3 313.6,533.0 315.2,531.8 316.9,530.6 318.5,529.6 320.1,528.6 321.7,527.8 323.4,527.1 325.0,526.5 326.6,525.9 328.2,525.3 329.9,524.8 331.5,524.3 333.1,523.9 334.7,523.6 336.3,523.3 338.0,523.0 339.6,522.8 341.2,522.5 342.8,522.3 344.5,522.1 346.1,522.0 347.7,521.8 349.3,521.7 350.9,521.7 352.6,521.6 354.2,521.5 355.8,521.5 357.4,521.4 359.1,521.4 360.7,521.3 362.3,521.3 363.9,521.3 365.5,521.2 367.2,521.2 368.8,521.2 370.4,521.2 372.0,521.2 373.7,521.2 375.3,521.2 376.9,521.2 378.5,521.2 380.1,521.2 381.8,521.2 383.4,521.2 385.0,521.1 386.6,521.1 388.3,521.1 389.9,521.1 391.5,521.1 393.1,521.1 394.8,521.1 396.4,521.1 398.0,521.1 399.6,521.1 401.2,521.1 402.9,521.1 404.5,521.1 406.1,521.1 407.7,521.1 409.4,521.1 411.0,521.1 412.6,521.1 414.2,521.1 415.8,521.1 417.5,521.1 419.1,521.1 420.7,521.1 422.3,521.1 424.0,521.1 425.6,521.1 427.2,521.1"/>
<polyline fill="none" stroke="#c2245a" stroke-width="1.2" points="283.6,569.1 285.2,566.2 286.8,563.4 288.5,560.9 290.1,558.4 291.7,556.1 293.3,553.8 295.0,551.8 296.6,549.8 298.2,548.0 299.8,546.2 301.4,544.5 303.1,542.9 304.7,541.3 306.3,539.8 307.9,538.3 309.6,537.0 311.2,535.6 312.8,534.3 314.4,533.0 316.0,531.8 317.7,530.6 319.3,529.6 320.9,528.6 322.5,527.8 324.2,527.1 325.8,526.5 327.4,525.9 329.0,525.3 330.7,524.8 332.3,524.3 333.9,523.9 335.5,523.6 337.1,523.3 338.8,523.0 340.4,522.8 342.0,522.5 343.6,522.3 345.3,522.1 346.9,522.0 348.5,521.8 350.1,521.7 351.7,521.7 353.4,521.6 355.0,521.5 356.6,521.5 358.2,521.4 359.9,521.4 361.5,521.3 363.1,521.3 364.7,521.3 366.3,521.2 368.0,521.2 369.6,521.2 371.2,521.2 372.8,521.2 374.5,521.2 376.1,521.2 377.7,521.2 379.3,521.2 380.9,521.2 382.6,521.2 384.2,521.2 385.8,521.1 387.4,521.1 389.1,521.1 390.7,521.1 392.3,521.1 393.9,521.1 395.6,521.1 397.2,521.1 398.8,521.1 400.4,521.1 402.0,521.1 403.7,521.1 405.3,521.1 406.9,521.1 408.5,521.1 410.2,521.1 411.8,521.1 413.4,521.1 415.0,521.1 416.6,521.1 418.3,521.1 419.9,521.1 421.5,521.1 423.1,521.1 424.8,521.1 426.4,521.1 428.0,521.1"/>
<polyline fill="none" stroke="#3a7cc2" stroke-width="1.2" stroke-dasharray="3,2" points="256.2,616.2 258.1,613.7 260.0,611.3 262.0,609.0 263.9,606.8 265.8,604.7 267.7,602.8 269.6,600.8 271.6,599.0 273.5,597.2 275.4,595.5 277.3,593.8 279.2,592.3 281.1,590.9 283.1,589.6 285.0,588.3 286.9,587.1 288.8,586.0 290.7,584.9 292.7,583.9 294.6,583.0 296.5,582.0 298.4,581.2 300.3,580.3 302.3,579.5 304.2,578.8 306.1,578.1 308.0,577.5 309.9,576.9 311.9,576.4 313.8,575.8 315.7,575.3 317.6,574.9 319.5,574.5 321.4,574.2 323.4,574.0 325.3,573.7 327.2,573.6 329.1,573.4 331.0,573.2 333.0,573.1 334.9,573.0 336.8,573.0 338.7,572.9 340.6,572.9 342.6,572.9 344.5,572.9 346.4,572.8 348.3,572.8 350.2,572.8 352.2,572.8 354.1,572.8 356.0,572.8 357.9,572.8 359.8,572.7 361.8,572.7 363.7,572.7 365.6,572.7 367.5,572.7 369.4,572.7 371.3,572.7 373.3,572.7 375.2,572.7 377.1,572.7 379.0,572.7 380.9,572.7 382.9,572.7 384.8,572.7 386.7,572.7 388.6,572.7 390.5,572.7 392.5,572.7 394.4,572.7 396.3,572.7 398.2,572.7 400.1,572.7 402.1,572.7 404.0,572.7 405.9,572.7 407.8,572.7 409.7,572.7 411.6,572.7 413.6,572.7 415.5,572.7 417.4,572.7 419.3,572.7 421.2,572.7 423.2,572.7 425.1,572.7 427.0,572.7"/>
<polyline fill="none" stroke="#3a7cc2" stroke-width="1.2" points="257.2,616.2 259.1,613.7 261.0,611.3 263.0,609.0 264.9,606.8 266.8,604.7 268.7,602.8 270.6,600.8 272.6,599.0 274.5,597.2 276.4,595.5 278.3,593.8 280.2,592.3 282.1,590.9 284.1,589.6 286.0,588.3 287.9,587.1 289.8,586.0 291.7,584.9 293.7,583.9 295.6,583.0 297.5,582.0 299.4,581.2 301.3,580.3 303.3,579.5 305.2,578.8 307.1,578.1 309.0,577.5 310.9,576.9 312.9,576.4 314.8,575.8 316.7,575.3 318.6,574.9 320.5,574.5 322.4,574.2 324.4,574.0 326.3,573.7 328.2,573.6 330.1,573.4 332.0,573.2 334.0,573.1 335.9,573.0 337.8,573.0 339.7,572.9 341.6,572.9 343.6,572.9 345.5,572.9 347.4,572.8 349.3,572.8 351.2,572.8 353.2,572.8 355.1,572.8 357.0,572.8 358.9,572.8 360.8,572.7 362.8,572.7 364.7,572.7 366.6,572.7 368.5,572.7 370.4,572.7 372.3,572.7 374.3,572.7 376.2,572.7 378.1,572.7 380.0,572.7 381.9,572.7 383.9,572.7 385.8,572.7 387.7,572.7 389.6,572.7 391.5,572.7 393.5,572.7 395.4,572.7 397.3,572.7 399.2,572.7 401.1,572.7 403.1,572.7 405.0,572.7 406.9,572.7 408.8,572.7 410.7,572.7 412.6,572.7 414.6,572.7 416.5,572.7 418.4,572.7 420.3,572.7 422.2,572.7 424.2,572.7 426.1,572.7 428.0,572.7"/>
<polyline fill="none" stroke="#5fb8c2" stroke-width="1.2" stroke-dasharray="3,2" points="260.2,668.5 262.1,666.3 263.9,664.2 265.8,662.1 267.7,660.0 269.5,658.0 271.4,656.0 273.2,654.1 275.1,652.1 277.0,650.3 278.8,648.5 280.7,646.8 282.6,645.2 284.4,643.6 286.3,642.0 288.1,640.5 290.0,639.1 291.9,637.8 293.7,636.6 295.6,635.4 297.5,634.4 299.3,633.3 301.2,632.4 303.0,631.5 304.9,630.7 306.8,629.9 308.6,629.2 310.5,628.5 312.4,627.9 314.2,627.2 316.1,626.7 318.0,626.2 319.8,625.8 321.7,625.5 323.5,625.3 325.4,625.1 327.3,624.9 329.1,624.8 331.0,624.6 332.9,624.5 334.7,624.4 336.6,624.3 338.4,624.2 340.3,624.2 342.2,624.1 344.0,624.0 345.9,623.9 347.8,623.9 349.6,623.8 351.5,623.8 353.3,623.7 355.2,623.7 357.1,623.7 358.9,623.7 360.8,623.7 362.7,623.7 364.5,623.7 366.4,623.7 368.2,623.7 370.1,623.7 372.0,623.7 373.8,623.7 375.7,623.7 377.6,623.6 379.4,623.6 381.3,623.6 383.2,623.6 385.0,623.6 386.9,623.6 388.7,623.6 390.6,623.6 392.5,623.6 394.3,623.6 396.2,623.6 398.1,623.6 399.9,623.6 401.8,623.6 403.6,623.6 405.5,623.6 407.4,623.6 409.2,623.6 411.1,623.6 413.0,623.6 414.8,623.6 416.7,623.6 418.5,623.6 420.4,623.6 422.3,623.6 424.1,623.6 426.0,623.6"/>
<polyline fill="none" stroke="#5fb8c2" stroke-width="1.2" points="262.2,668.9 264.1,666.7 265.9,664.6 267.8,662.5 269.7,660.4 271.5,658.4 273.4,656.4 275.2,654.5 277.1,652.5 279.0,650.7 280.8,648.9 282.7,647.2 284.6,645.6 286.4,644.0 288.3,642.4 290.1,640.9 292.0,639.5 293.9,638.2 295.7,637.0 297.6,635.8 299.5,634.8 301.3,633.7 303.2,632.8 305.0,631.9 306.9,631.1 308.8,630.3 310.6,629.6 312.5,628.9 314.4,628.3 316.2,627.6 318.1,627.1 320.0,626.6 321.8,626.2 323.7,625.9 325.5,625.7 327.4,625.5 329.3,625.3 331.1,625.2 333.0,625.0 334.9,624.9 336.7,624.8 338.6,624.7 340.4,624.6 342.3,624.6 344.2,624.5 346.0,624.4 347.9,624.3 349.8,624.3 351.6,624.2 353.5,624.2 355.3,624.1 357.2,624.1 359.1,624.1 360.9,624.1 362.8,624.1 364.7,624.1 366.5,624.1 368.4,624.1 370.2,624.1 372.1,624.1 374.0,624.1 375.8,624.1 377.7,624.1 379.6,624.0 381.4,624.0 383.3,624.0 385.2,624.0 387.0,624.0 388.9,624.0 390.7,624.0 392.6,624.0 394.5,624.0 396.3,624.0 398.2,624.0 400.1,624.0 401.9,624.0 403.8,624.0 405.6,624.0 407.5,624.0 409.4,624.0 411.2,624.0 413.1,624.0 415.0,624.0 416.8,624.0 418.7,624.0 420.5,624.0 422.4,624.0 424.3,624.0 426.1,624.0 428.0,624.0"/>
<text x="251.7" y="533.9" font-size="10.5" fill="#c2245a">CS-top</text>
<text x="251.7" y="581.6" font-size="10.5" fill="#3a7cc2">CS-middle</text>
<text x="251.7" y="634.3" font-size="10.5" fill="#5fb8c2">CS-low</text>
<text x="332.1" y="536.6" font-size="10.25" fill="#c2245a"><tspan font-style="italic">KIE</tspan> = 0.88~1.08</text>
<line x1="348.7" y1="548.8" x2="371" y2="548.8" stroke="#c2245a" stroke-width="1.2" stroke-dasharray="3,2.2"/>
<line x1="348.7" y1="560.8" x2="371" y2="560.8" stroke="#c2245a" stroke-width="1.3"/>
<text x="377.9" y="551.9" font-size="10.5" fill="#c2245a">D<tspan font-size="7.5">2</tspan>O</text>
<text x="377.9" y="564.4" font-size="10.5" fill="#c2245a">H<tspan font-size="7.5">2</tspan>O</text>
<text x="332.1" y="587.7" font-size="10.25" fill="#3a7cc2"><tspan font-style="italic">KIE</tspan> = 0.94~1.37</text>
<line x1="348.7" y1="597.7" x2="371" y2="597.7" stroke="#3a7cc2" stroke-width="1.2" stroke-dasharray="3,2.2"/>
<line x1="348.7" y1="610.7" x2="371" y2="610.7" stroke="#3a7cc2" stroke-width="1.3"/>
<text x="377.9" y="601.0" font-size="10.5" fill="#3a7cc2">D<tspan font-size="7.5">2</tspan>O</text>
<text x="377.9" y="614.3" font-size="10.5" fill="#3a7cc2">H<tspan font-size="7.5">2</tspan>O</text>
<text x="332.1" y="639.8" font-size="10.25" fill="#5fb8c2"><tspan font-style="italic">KIE</tspan> = 0.96~1.24</text>
<line x1="348.7" y1="649.5" x2="371" y2="649.5" stroke="#5fb8c2" stroke-width="1.2" stroke-dasharray="3,2.2"/>
<line x1="348.7" y1="662.0" x2="371" y2="662.0" stroke="#5fb8c2" stroke-width="1.3"/>
<text x="377.9" y="652.5" font-size="10.5" fill="#5fb8c2">D<tspan font-size="7.5">2</tspan>O</text>
<text x="377.9" y="665.5" font-size="10.5" fill="#5fb8c2">H<tspan font-size="7.5">2</tspan>O</text>
<clipPath id="iclip"><rect x="475.8" y="519.7" width="161.7" height="153.1"/></clipPath>
<g clip-path="url(#iclip)">
<rect x="475.8" y="519.7" width="161.7" height="153.1" fill="#4393c3"/>
<path d="M482.9,581.0L476.0,591.0L476.0,581.0L476.0,576.0Z" fill="#0c3d73" stroke="#0c3d73" stroke-width="0.9"/>
<path d="M491.6,581.0L489.0,596.0L476.0,601.0L476.0,596.0L476.0,591.0L482.9,581.0L476.0,576.0L476.0,569.8Z" fill="#10457e" stroke="#10457e" stroke-width="0.9"/>
<path d="M481.8,566.0L500.3,581.0L502.0,586.0L507.8,596.0L502.0,599.3L476.0,609.3L476.0,601.0L489.0,596.0L491.6,581.0L476.0,569.8L476.0,566.0L476.0,563.3Z" fill="#144e8a" stroke="#144e8a" stroke-width="0.9"/>
<path d="M496.2,566.0L502.0,571.0L508.9,581.0L522.2,596.0L502.0,607.7L493.3,611.0L476.0,621.7L476.0,611.0L476.0,609.3L502.0,599.3L507.8,596.0L502.0,586.0L500.3,581.0L481.8,566.0L476.0,563.3L476.0,556.7Z" fill="#1a5899" stroke="#1a5899" stroke-width="0.9"/>
<path d="M476.0,550.0L502.0,560.7L506.3,566.0L517.6,581.0L528.0,591.0L531.2,596.0L528.0,603.5L515.0,611.0L502.0,616.3L484.7,627.0L476.0,634.5L476.0,627.0L476.0,621.7L493.3,611.0L502.0,607.7L522.2,596.0L508.9,581.0L502.0,571.0L496.2,566.0L476.0,556.7L476.0,550.0L476.0,550.0Z" fill="#1e61a5" stroke="#1e61a5" stroke-width="0.9"/>
<path d="M497.7,550.0L502.0,551.8L513.6,566.0L526.3,581.0L528.0,582.7L536.7,596.0L530.2,611.0L528.0,613.1L502.0,625.2L499.1,627.0L480.3,642.0L476.0,643.8L476.0,642.0L476.0,634.5L484.7,627.0L502.0,616.3L515.0,611.0L528.0,603.5L531.2,596.0L528.0,591.0L517.6,581.0L506.3,566.0L502.0,560.7L476.0,550.0L476.0,550.0L476.0,537.5Z" fill="#2369ad" stroke="#2369ad" stroke-width="0.9"/>
<path d="M480.3,535.0L502.0,547.5L505.9,550.0L520.8,566.0L528.0,574.3L531.2,581.0L542.1,596.0L535.6,611.0L528.0,618.5L510.7,627.0L502.0,633.7L491.2,642.0L476.0,648.2L476.0,643.8L480.3,642.0L499.1,627.0L502.0,625.2L528.0,613.1L530.2,611.0L536.7,596.0L528.0,582.7L526.3,581.0L513.6,566.0L502.0,551.8L497.7,550.0L476.0,537.5L476.0,535.0L476.0,524.8ZM477.2,658.0L476.0,660.7L476.0,658.0L476.0,655.3Z" fill="#2a71b2" stroke="#2a71b2" stroke-width="0.9"/>
<path d="M485.8,535.0L502.0,544.4L510.7,550.0L528.0,566.0L528.0,566.0L535.1,581.0L547.5,596.0L541.0,611.0L528.0,623.8L521.5,627.0L502.0,642.0L502.0,642.0L482.5,650.0L483.4,658.0L484.7,666.0L489.0,672.8L476.0,672.8L476.0,666.0L476.0,660.7L477.2,658.0L476.0,655.3L476.0,650.0L476.0,648.2L491.2,642.0L502.0,633.7L510.7,627.0L528.0,618.5L535.6,611.0L542.1,596.0L531.2,581.0L528.0,574.3L520.8,566.0L505.9,550.0L502.0,547.5L480.3,535.0L476.0,524.8L476.0,519.7L484.7,519.7ZM554.0,519.7L554.0,519.7L554.0,519.7L554.0,519.7Z" fill="#2f79b5" stroke="#2f79b5" stroke-width="0.9"/>
<path d="M491.2,535.0L502.0,541.2L515.5,550.0L528.0,561.6L531.9,566.0L539.0,581.0L552.9,596.0L546.4,611.0L531.5,627.0L528.0,630.3L512.8,642.0L502.0,646.4L493.3,650.0L489.6,658.0L499.1,666.0L502.0,668.3L507.8,672.8L502.0,672.8L489.0,672.8L484.7,666.0L483.4,658.0L482.5,650.0L502.0,642.0L502.0,642.0L521.5,627.0L528.0,623.8L541.0,611.0L547.5,596.0L535.1,581.0L528.0,566.0L528.0,566.0L510.7,550.0L502.0,544.4L485.8,535.0L484.7,519.7L499.1,519.7ZM528.0,519.7L554.0,519.7L554.0,519.7L554.0,519.7L555.7,519.7L554.0,521.5L528.0,521.2L510.7,519.7Z" fill="#3480b9" stroke="#3480b9" stroke-width="0.9"/>
<path d="M502.0,519.7L510.7,519.7L528.0,521.2L554.0,521.5L555.7,519.7L557.5,519.7L554.0,523.3L528.0,524.8L502.0,526.5L496.6,535.0L502.0,538.1L520.3,550.0L528.0,557.1L535.9,566.0L543.0,581.0L554.0,592.7L555.3,596.0L554.0,606.0L551.8,611.0L540.1,627.0L528.0,638.7L523.7,642.0L504.2,650.0L502.0,651.3L495.8,658.0L502.0,662.4L508.9,666.0L522.2,672.8L507.8,672.8L502.0,668.3L499.1,666.0L489.6,658.0L493.3,650.0L502.0,646.4L512.8,642.0L528.0,630.3L531.5,627.0L546.4,611.0L552.9,596.0L539.0,581.0L531.9,566.0L528.0,561.6L515.5,550.0L502.0,541.2L491.2,535.0L499.1,519.7Z" fill="#3a87bd" stroke="#3a87bd" stroke-width="0.9"/>
<path d="M502.0,526.5L528.0,524.8L554.0,523.3L557.5,519.7L559.2,519.7L554.0,525.2L528.0,528.4L502.0,535.0L525.1,550.0L528.0,552.7L539.8,566.0L546.9,581.0L554.0,588.5L557.0,596.0L555.5,611.0L554.0,619.0L548.8,627.0L536.7,642.0L528.0,644.7L515.0,650.0L502.0,658.0L517.6,666.0L528.0,670.5L536.7,672.8L528.0,672.8L522.2,672.8L508.9,666.0L502.0,662.4L495.8,658.0L502.0,651.3L504.2,650.0L523.7,642.0L528.0,638.7L540.1,627.0L551.8,611.0L554.0,606.0L555.3,596.0L554.0,592.7L543.0,581.0L535.9,566.0L528.0,557.1L520.3,550.0L502.0,538.1L496.6,535.0ZM637.5,672.8L637.5,672.8L637.5,672.8Z" fill="#408fc1" stroke="#408fc1" stroke-width="0.9"/>
<path d="M528.0,528.4L554.0,525.2L559.2,519.7L560.9,519.7L554.0,527.0L528.0,532.1L516.4,535.0L528.0,545.0L529.0,550.0L543.8,566.0L550.8,581.0L554.0,584.3L558.7,596.0L557.9,611.0L555.7,627.0L554.0,637.0L551.1,642.0L528.0,649.1L525.8,650.0L505.6,658.0L526.3,666.0L528.0,666.8L551.1,672.8L536.7,672.8L528.0,670.5L517.6,666.0L502.0,658.0L515.0,650.0L528.0,644.7L536.7,642.0L548.8,627.0L554.0,619.0L555.5,611.0L557.0,596.0L554.0,588.5L546.9,581.0L539.8,566.0L528.0,552.7L525.1,550.0L502.0,535.0ZM605.0,672.0L637.5,670.9L637.5,672.8L637.5,672.8L605.0,672.8L587.7,672.8Z" fill="#4997c5" stroke="#4997c5" stroke-width="0.9"/>
<path d="M528.0,532.1L554.0,527.0L560.9,519.7L562.7,519.7L554.0,528.8L529.4,535.0L531.6,550.0L547.7,566.0L554.0,579.3L554.5,581.0L560.3,596.0L560.4,611.0L559.8,627.0L558.2,642.0L554.0,644.7L536.7,650.0L528.0,651.1L509.2,658.0L528.0,664.9L534.9,666.0L554.0,671.0L579.0,671.3L605.0,670.2L637.5,669.0L637.5,670.9L605.0,672.0L587.7,672.8L579.0,672.8L554.0,672.8L551.1,672.8L528.0,666.8L526.3,666.0L505.6,658.0L525.8,650.0L528.0,649.1L551.1,642.0L554.0,637.0L555.7,627.0L557.9,611.0L558.7,596.0L554.0,584.3L550.8,581.0L543.8,566.0L529.0,550.0L528.0,545.0L516.4,535.0Z" fill="#569fc9" stroke="#569fc9" stroke-width="0.9"/>
<path d="M554.0,528.8L562.7,519.7L564.4,519.7L554.0,530.6L536.7,535.0L534.1,550.0L551.6,566.0L554.0,571.0L557.1,581.0L562.0,596.0L562.8,611.0L564.0,627.0L563.4,642.0L554.0,648.0L547.5,650.0L528.0,652.4L512.8,658.0L528.0,663.6L543.6,666.0L554.0,668.7L579.0,669.4L605.0,668.3L637.5,667.1L637.5,669.0L605.0,670.2L579.0,671.3L554.0,671.0L534.9,666.0L528.0,664.9L509.2,658.0L528.0,651.1L536.7,650.0L554.0,644.7L558.2,642.0L559.8,627.0L560.4,611.0L560.3,596.0L554.5,581.0L554.0,579.3L547.7,566.0L531.6,550.0L529.4,535.0Z" fill="#62a7ce" stroke="#62a7ce" stroke-width="0.9"/>
<path d="M554.0,530.6L564.4,519.7L566.2,519.7L554.0,532.4L543.9,535.0L536.7,550.0L554.0,565.1L555.7,566.0L559.7,581.0L563.7,596.0L565.3,611.0L568.2,627.0L568.6,642.0L558.2,650.0L554.0,650.4L528.0,653.7L516.4,658.0L528.0,662.3L552.3,666.0L554.0,666.5L579.0,667.5L605.0,666.4L615.8,666.0L637.5,665.5L637.5,666.0L637.5,667.1L605.0,668.3L579.0,669.4L554.0,668.7L543.6,666.0L528.0,663.6L512.8,658.0L528.0,652.4L547.5,650.0L554.0,648.0L563.4,642.0L564.0,627.0L562.8,611.0L562.0,596.0L557.1,581.0L554.0,571.0L551.6,566.0L534.1,550.0L536.7,535.0Z" fill="#71b0d3" stroke="#71b0d3" stroke-width="0.9"/>
<path d="M554.0,532.4L566.2,519.7L567.9,519.7L554.0,534.3L551.1,535.0L539.2,550.0L554.0,562.9L559.8,566.0L562.3,581.0L565.3,596.0L567.7,611.0L572.3,627.0L573.8,642.0L568.6,650.0L554.0,651.2L528.0,655.1L520.1,658.0L528.0,660.9L554.0,665.2L579.0,665.8L605.0,665.1L637.5,664.1L637.5,665.5L615.8,666.0L605.0,666.4L579.0,667.5L554.0,666.5L552.3,666.0L528.0,662.3L516.4,658.0L528.0,653.7L554.0,650.4L558.2,650.0L568.6,642.0L568.2,627.0L565.3,611.0L563.7,596.0L559.7,581.0L555.7,566.0L554.0,565.1L536.7,550.0L543.9,535.0Z" fill="#7eb8d7" stroke="#7eb8d7" stroke-width="0.9"/>
<path d="M554.0,534.3L567.9,519.7L569.6,519.7L555.7,535.0L554.0,536.7L541.8,550.0L554.0,560.7L564.0,566.0L564.9,581.0L567.0,596.0L570.2,611.0L576.5,627.0L579.0,642.0L579.0,642.0L579.0,650.0L579.0,650.0L554.0,652.1L528.0,656.4L523.7,658.0L528.0,659.6L554.0,664.3L579.0,664.8L605.0,664.0L637.5,662.8L637.5,664.1L605.0,665.1L579.0,665.8L554.0,665.2L528.0,660.9L520.1,658.0L528.0,655.1L554.0,651.2L568.6,650.0L573.8,642.0L572.3,627.0L567.7,611.0L565.3,596.0L562.3,581.0L559.8,566.0L554.0,562.9L539.2,550.0L551.1,535.0Z" fill="#8ac0db" stroke="#8ac0db" stroke-width="0.9"/>
<path d="M558.4,535.0L554.0,539.4L544.3,550.0L554.0,558.4L568.2,566.0L567.5,581.0L568.7,596.0L572.6,611.0L579.0,624.9L580.2,627.0L583.8,642.0L600.7,650.0L579.0,651.2L554.0,653.0L528.0,657.7L527.3,658.0L528.0,658.3L554.0,663.3L579.0,663.7L605.0,662.9L637.5,661.5L637.5,662.8L605.0,664.0L579.0,664.8L554.0,664.3L528.0,659.6L523.7,658.0L528.0,656.4L554.0,652.1L579.0,650.0L579.0,650.0L579.0,642.0L579.0,642.0L576.5,627.0L570.2,611.0L567.0,596.0L564.9,581.0L564.0,566.0L554.0,560.7L541.8,550.0L554.0,536.7L555.7,535.0L569.6,519.7L571.4,519.7Z" fill="#96c7df" stroke="#96c7df" stroke-width="0.9"/>
<path d="M561.2,535.0L554.0,542.2L546.9,550.0L554.0,556.2L572.3,566.0L570.1,581.0L570.3,596.0L575.1,611.0L579.0,619.5L583.0,627.0L588.6,642.0L605.0,648.5L615.8,650.0L605.0,651.5L579.0,652.4L554.0,653.9L531.9,658.0L554.0,662.4L579.0,662.7L605.0,661.8L637.5,660.1L637.5,661.5L605.0,662.9L579.0,663.7L554.0,663.3L528.0,658.3L527.3,658.0L528.0,657.7L554.0,653.0L579.0,651.2L600.7,650.0L583.8,642.0L580.2,627.0L579.0,624.9L572.6,611.0L568.7,596.0L567.5,581.0L568.2,566.0L554.0,558.4L544.3,550.0L554.0,539.4L558.4,535.0L571.4,519.7L573.1,519.7Z" fill="#a2cde3" stroke="#a2cde3" stroke-width="0.9"/>
<path d="M564.0,535.0L554.0,545.0L549.4,550.0L554.0,554.0L576.5,566.0L572.8,581.0L572.0,596.0L577.5,611.0L579.0,614.2L585.9,627.0L593.4,642.0L605.0,646.6L629.4,650.0L605.0,653.4L579.0,653.6L554.0,654.8L536.7,658.0L554.0,661.4L579.0,661.7L605.0,660.7L637.5,658.8L637.5,660.1L605.0,661.8L579.0,662.7L554.0,662.4L531.9,658.0L554.0,653.9L579.0,652.4L605.0,651.5L615.8,650.0L605.0,648.5L588.6,642.0L583.0,627.0L579.0,619.5L575.1,611.0L570.3,596.0L570.1,581.0L572.3,566.0L554.0,556.2L546.9,550.0L554.0,542.2L561.2,535.0L573.1,519.7L574.8,519.7Z" fill="#acd2e5" stroke="#acd2e5" stroke-width="0.9"/>
<path d="M566.8,535.0L554.0,547.8L552.0,550.0L554.0,551.8L579.0,565.3L579.6,566.0L579.0,569.3L575.4,581.0L573.7,596.0L579.0,609.3L579.5,611.0L588.8,627.0L598.3,642.0L605.0,644.7L637.5,649.6L637.5,650.0L637.5,658.0L637.5,658.8L605.0,660.7L579.0,661.7L554.0,661.4L536.7,658.0L554.0,654.8L579.0,653.6L605.0,653.4L629.4,650.0L605.0,646.6L593.4,642.0L585.9,627.0L579.0,614.2L577.5,611.0L572.0,596.0L572.8,581.0L576.5,566.0L554.0,554.0L549.4,550.0L554.0,545.0L564.0,535.0L574.8,519.7L576.6,519.7ZM541.5,658.0L554.0,660.5L579.0,660.7L605.0,659.6L630.3,658.0L605.0,655.3L579.0,654.8L554.0,655.7Z" fill="#b6d7e8" stroke="#b6d7e8" stroke-width="0.9"/>
<path d="M569.6,535.0L554.6,550.0L579.0,563.5L581.0,566.0L579.0,577.7L578.0,581.0L575.3,596.0L579.0,605.2L580.7,611.0L591.7,627.0L603.1,642.0L605.0,642.8L637.5,648.4L637.5,649.6L605.0,644.7L598.3,642.0L588.8,627.0L579.5,611.0L579.0,609.3L573.7,596.0L575.4,581.0L579.0,569.3L579.6,566.0L579.0,565.3L554.0,551.8L552.0,550.0L554.0,547.8L566.8,535.0L576.6,519.7L578.3,519.7ZM554.0,655.7L579.0,654.8L605.0,655.3L630.3,658.0L605.0,659.6L579.0,660.7L554.0,660.5L541.5,658.0ZM546.3,658.0L554.0,659.5L579.0,659.6L605.0,658.4L612.2,658.0L605.0,657.2L579.0,656.1L554.0,656.6Z" fill="#c2ddec" stroke="#c2ddec" stroke-width="0.9"/>
<path d="M579.0,519.7L581.0,519.7L579.0,522.8L572.3,535.0L557.8,550.0L579.0,561.7L582.5,566.0L579.7,581.0L579.0,586.0L577.0,596.0L579.0,601.0L581.9,611.0L594.6,627.0L605.0,639.9L608.6,642.0L637.5,647.3L637.5,648.4L605.0,642.8L603.1,642.0L591.7,627.0L580.7,611.0L579.0,605.2L575.3,596.0L578.0,581.0L579.0,577.7L581.0,566.0L579.0,563.5L554.6,550.0L569.6,535.0L578.3,519.7ZM554.0,656.6L579.0,656.1L605.0,657.2L612.2,658.0L605.0,658.4L579.0,659.6L554.0,659.5L546.3,658.0ZM551.1,658.0L554.0,658.6L579.0,658.6L592.0,658.0L579.0,657.3L554.0,657.5Z" fill="#cce2ef" stroke="#cce2ef" stroke-width="0.9"/>
<path d="M579.0,522.8L581.0,519.7L584.3,519.7L579.0,527.9L575.1,535.0L561.1,550.0L579.0,560.0L583.9,566.0L580.8,581.0L579.0,594.3L578.7,596.0L579.0,596.8L583.1,611.0L597.5,627.0L605.0,636.3L614.6,642.0L637.5,646.2L637.5,647.3L608.6,642.0L605.0,639.9L594.6,627.0L581.9,611.0L579.0,601.0L577.0,596.0L579.0,586.0L579.7,581.0L582.5,566.0L579.0,561.7L557.8,550.0L572.3,535.0ZM554.0,657.5L579.0,657.3L592.0,658.0L579.0,658.6L554.0,658.6L551.1,658.0Z" fill="#d4e6f1" stroke="#d4e6f1" stroke-width="0.9"/>
<path d="M579.0,527.9L584.3,519.7L587.7,519.7L579.0,533.0L577.9,535.0L564.3,550.0L579.0,558.2L585.4,566.0L581.9,581.0L579.9,596.0L584.3,611.0L600.4,627.0L605.0,632.7L620.6,642.0L637.5,645.1L637.5,646.2L614.6,642.0L605.0,636.3L597.5,627.0L583.1,611.0L579.0,596.8L578.7,596.0L579.0,594.3L580.8,581.0L583.9,566.0L579.0,560.0L561.1,550.0L575.1,535.0Z" fill="#dae9f2" stroke="#dae9f2" stroke-width="0.9"/>
<path d="M579.0,533.0L587.7,519.7L591.0,519.7L580.2,535.0L579.0,537.1L567.5,550.0L579.0,556.4L586.8,566.0L583.0,581.0L581.0,596.0L585.5,611.0L603.3,627.0L605.0,629.1L626.7,642.0L637.5,644.0L637.5,645.1L620.6,642.0L605.0,632.7L600.4,627.0L584.3,611.0L579.9,596.0L581.9,581.0L585.4,566.0L579.0,558.2L564.3,550.0L577.9,535.0Z" fill="#e1edf3" stroke="#e1edf3" stroke-width="0.9"/>
<path d="M582.2,535.0L579.0,540.7L570.7,550.0L579.0,554.6L588.2,566.0L584.1,581.0L582.0,596.0L586.7,611.0L605.0,626.6L605.7,627.0L632.7,642.0L637.5,642.9L637.5,644.0L626.7,642.0L605.0,629.1L603.3,627.0L585.5,611.0L581.0,596.0L583.0,581.0L586.8,566.0L579.0,556.4L567.5,550.0L579.0,537.1L580.2,535.0L591.0,519.7L594.3,519.7Z" fill="#e7f0f4" stroke="#e7f0f4" stroke-width="0.9"/>
<path d="M584.1,535.0L579.0,544.3L573.9,550.0L579.0,552.8L589.7,566.0L585.2,581.0L583.1,596.0L587.9,611.0L605.0,625.6L607.5,627.0L637.5,641.8L637.5,642.0L637.5,642.9L632.7,642.0L605.7,627.0L605.0,626.6L586.7,611.0L582.0,596.0L584.1,581.0L588.2,566.0L579.0,554.6L570.7,550.0L579.0,540.7L582.2,535.0L594.3,519.7L597.7,519.7Z" fill="#edf2f5" stroke="#edf2f5" stroke-width="0.9"/>
<path d="M586.1,535.0L579.0,547.9L577.1,550.0L579.0,551.1L591.1,566.0L586.3,581.0L584.2,596.0L589.1,611.0L605.0,624.5L609.3,627.0L637.5,640.9L637.5,641.8L607.5,627.0L605.0,625.6L587.9,611.0L583.1,596.0L585.2,581.0L589.7,566.0L579.0,552.8L573.9,550.0L579.0,544.3L584.1,535.0L597.7,519.7L601.0,519.7Z" fill="#f3f5f6" stroke="#f3f5f6" stroke-width="0.9"/>
<path d="M588.1,535.0L579.8,550.0L592.6,566.0L587.4,581.0L585.3,596.0L590.3,611.0L605.0,623.5L611.1,627.0L637.5,640.0L637.5,640.9L609.3,627.0L605.0,624.5L589.1,611.0L584.2,596.0L586.3,581.0L591.1,566.0L579.0,551.1L577.1,550.0L579.0,547.9L586.1,535.0L601.0,519.7L604.3,519.7Z" fill="#f8f4f2" stroke="#f8f4f2" stroke-width="0.9"/>
<path d="M605.0,519.7L606.8,519.7L605.0,521.2L590.0,535.0L581.9,550.0L594.0,566.0L588.6,581.0L586.4,596.0L591.5,611.0L605.0,622.5L612.9,627.0L637.5,639.1L637.5,640.0L611.1,627.0L605.0,623.5L590.3,611.0L585.3,596.0L587.4,581.0L592.6,566.0L579.8,550.0L588.1,535.0L604.3,519.7Z" fill="#f9f0eb" stroke="#f9f0eb" stroke-width="0.9"/>
<path d="M605.0,521.2L606.8,519.7L609.1,519.7L605.0,523.0L592.0,535.0L584.0,550.0L595.5,566.0L589.7,581.0L587.5,596.0L592.7,611.0L605.0,621.5L614.8,627.0L637.5,638.2L637.5,639.1L612.9,627.0L605.0,622.5L591.5,611.0L586.4,596.0L588.6,581.0L594.0,566.0L581.9,550.0L590.0,535.0Z" fill="#f9ebe3" stroke="#f9ebe3" stroke-width="0.9"/>
<path d="M605.0,523.0L609.1,519.7L611.3,519.7L605.0,524.8L594.0,535.0L586.0,550.0L596.9,566.0L590.8,581.0L588.5,596.0L593.9,611.0L605.0,620.4L616.6,627.0L637.5,637.4L637.5,638.2L614.8,627.0L605.0,621.5L592.7,611.0L587.5,596.0L589.7,581.0L595.5,566.0L584.0,550.0L592.0,535.0Z" fill="#fae7dc" stroke="#fae7dc" stroke-width="0.9"/>
<path d="M605.0,524.8L611.3,519.7L613.6,519.7L605.0,526.6L595.9,535.0L588.1,550.0L598.4,566.0L591.9,581.0L589.6,596.0L595.1,611.0L605.0,619.4L618.4,627.0L637.5,636.5L637.5,637.4L616.6,627.0L605.0,620.4L593.9,611.0L588.5,596.0L590.8,581.0L596.9,566.0L586.0,550.0L594.0,535.0Z" fill="#fce2d2" stroke="#fce2d2" stroke-width="0.9"/>
<path d="M605.0,526.6L613.6,519.7L615.8,519.7L605.0,528.4L597.9,535.0L590.1,550.0L599.8,566.0L593.0,581.0L590.7,596.0L596.3,611.0L605.0,618.4L620.2,627.0L637.5,635.6L637.5,636.5L618.4,627.0L605.0,619.4L595.1,611.0L589.6,596.0L591.9,581.0L598.4,566.0L588.1,550.0L595.9,535.0Z" fill="#fdddcb" stroke="#fdddcb" stroke-width="0.9"/>
<path d="M605.0,528.4L615.8,519.7L618.1,519.7L605.0,530.3L599.9,535.0L592.2,550.0L601.2,566.0L594.1,581.0L591.8,596.0L597.5,611.0L605.0,617.4L622.0,627.0L637.5,634.7L637.5,635.6L620.2,627.0L605.0,618.4L596.3,611.0L590.7,596.0L593.0,581.0L599.8,566.0L590.1,550.0L597.9,535.0Z" fill="#fcd7c2" stroke="#fcd7c2" stroke-width="0.9"/>
<path d="M605.0,530.3L618.1,519.7L620.3,519.7L605.0,532.1L601.8,535.0L594.3,550.0L602.7,566.0L595.2,581.0L592.9,596.0L598.7,611.0L605.0,616.3L623.8,627.0L637.5,633.8L637.5,634.7L622.0,627.0L605.0,617.4L597.5,611.0L591.8,596.0L594.1,581.0L601.2,566.0L592.2,550.0L599.9,535.0Z" fill="#fbccb4" stroke="#fbccb4" stroke-width="0.9"/>
<path d="M605.0,532.1L620.3,519.7L622.6,519.7L605.0,533.9L603.8,535.0L596.3,550.0L604.1,566.0L596.3,581.0L594.0,596.0L599.9,611.0L605.0,615.3L625.6,627.0L637.5,632.9L637.5,633.8L623.8,627.0L605.0,616.3L598.7,611.0L592.9,596.0L595.2,581.0L602.7,566.0L594.3,550.0L601.8,535.0Z" fill="#f9c4a9" stroke="#f9c4a9" stroke-width="0.9"/>
<path d="M605.0,533.9L622.6,519.7L624.9,519.7L606.2,535.0L605.0,536.7L598.4,550.0L605.0,564.2L606.0,566.0L605.0,566.8L597.4,581.0L595.0,596.0L601.1,611.0L605.0,614.3L627.4,627.0L637.5,632.0L637.5,632.9L625.6,627.0L605.0,615.3L599.9,611.0L594.0,596.0L596.3,581.0L604.1,566.0L596.3,550.0L603.8,535.0Z" fill="#f8bb9e" stroke="#f8bb9e" stroke-width="0.9"/>
<path d="M609.2,535.0L605.0,540.8L600.5,550.0L605.0,559.8L608.4,566.0L605.0,568.9L598.6,581.0L596.1,596.0L602.4,611.0L605.0,613.3L629.2,627.0L637.5,631.1L637.5,632.0L627.4,627.0L605.0,614.3L601.1,611.0L595.0,596.0L597.4,581.0L605.0,566.8L606.0,566.0L605.0,564.2L598.4,550.0L605.0,536.7L606.2,535.0L624.9,519.7L627.1,519.7Z" fill="#f6b394" stroke="#f6b394" stroke-width="0.9"/>
<path d="M612.2,535.0L605.0,545.0L602.5,550.0L605.0,555.3L610.9,566.0L605.0,571.0L599.7,581.0L597.2,596.0L603.6,611.0L605.0,612.2L631.0,627.0L637.5,630.2L637.5,631.1L629.2,627.0L605.0,613.3L602.4,611.0L596.1,596.0L598.6,581.0L605.0,568.9L608.4,566.0L605.0,559.8L600.5,550.0L605.0,540.8L609.2,535.0L627.1,519.7L629.4,519.7Z" fill="#f5a886" stroke="#f5a886" stroke-width="0.9"/>
<path d="M615.2,535.0L605.0,549.2L604.6,550.0L605.0,550.9L613.4,566.0L605.0,573.1L600.8,581.0L598.3,596.0L604.8,611.0L605.0,611.2L632.8,627.0L637.5,629.3L637.5,630.2L631.0,627.0L605.0,612.2L603.6,611.0L597.2,596.0L599.7,581.0L605.0,571.0L610.9,566.0L605.0,555.3L602.5,550.0L605.0,545.0L612.2,535.0L629.4,519.7L631.6,519.7Z" fill="#f19e7d" stroke="#f19e7d" stroke-width="0.9"/>
<path d="M618.2,535.0L608.1,550.0L615.8,566.0L605.0,575.2L601.9,581.0L599.4,596.0L605.0,609.0L606.5,611.0L634.6,627.0L637.5,628.4L637.5,629.3L632.8,627.0L605.0,611.2L604.8,611.0L598.3,596.0L600.8,581.0L605.0,573.1L613.4,566.0L605.0,550.9L604.6,550.0L605.0,549.2L615.2,535.0L631.6,519.7L633.9,519.7Z" fill="#ec9374" stroke="#ec9374" stroke-width="0.9"/>
<path d="M621.2,535.0L612.0,550.0L618.3,566.0L605.0,577.2L603.0,581.0L600.5,596.0L605.0,606.5L608.5,611.0L636.4,627.0L637.5,627.5L637.5,628.4L634.6,627.0L606.5,611.0L605.0,609.0L599.4,596.0L601.9,581.0L605.0,575.2L615.8,566.0L608.1,550.0L618.2,535.0L633.9,519.7L636.1,519.7Z" fill="#e8896c" stroke="#e8896c" stroke-width="0.9"/>
<path d="M637.5,519.7L637.5,521.0L624.3,535.0L615.8,550.0L620.8,566.0L605.0,579.3L604.1,581.0L601.5,596.0L605.0,604.0L610.4,611.0L637.5,626.6L637.5,627.0L637.5,627.5L636.4,627.0L608.5,611.0L605.0,606.5L600.5,596.0L603.0,581.0L605.0,577.2L618.3,566.0L612.0,550.0L621.2,535.0L636.1,519.7Z" fill="#e27b62" stroke="#e27b62" stroke-width="0.9"/>
<path d="M637.5,521.0L637.5,524.2L627.3,535.0L619.7,550.0L623.2,566.0L605.9,581.0L605.0,582.2L602.6,596.0L605.0,601.5L612.4,611.0L637.5,625.4L637.5,626.6L610.4,611.0L605.0,604.0L601.5,596.0L604.1,581.0L605.0,579.3L620.8,566.0L615.8,550.0L624.3,535.0Z" fill="#dd7059" stroke="#dd7059" stroke-width="0.9"/>
<path d="M637.5,524.2L637.5,527.4L630.3,535.0L623.6,550.0L625.7,566.0L610.4,581.0L605.0,588.5L603.7,596.0L605.0,599.0L614.3,611.0L637.5,624.3L637.5,625.4L612.4,611.0L605.0,601.5L602.6,596.0L605.0,582.2L605.9,581.0L623.2,566.0L619.7,550.0L627.3,535.0Z" fill="#d86551" stroke="#d86551" stroke-width="0.9"/>
<path d="M637.5,527.4L637.5,530.5L633.3,535.0L627.4,550.0L628.1,566.0L614.9,581.0L605.0,594.8L604.8,596.0L605.0,596.5L616.2,611.0L637.5,623.2L637.5,624.3L614.3,611.0L605.0,599.0L603.7,596.0L605.0,588.5L610.4,581.0L625.7,566.0L623.6,550.0L630.3,535.0Z" fill="#d35a4a" stroke="#d35a4a" stroke-width="0.9"/>
<path d="M637.5,530.5L637.5,533.7L636.3,535.0L631.3,550.0L630.6,566.0L619.4,581.0L607.7,596.0L618.2,611.0L637.5,622.1L637.5,623.2L616.2,611.0L605.0,596.5L604.8,596.0L605.0,594.7L614.9,581.0L628.1,566.0L627.4,550.0L633.3,535.0Z" fill="#cc4c44" stroke="#cc4c44" stroke-width="0.9"/>
<path d="M637.5,533.7L637.5,535.0L637.5,542.5L635.2,550.0L633.1,566.0L624.0,581.0L611.1,596.0L620.1,611.0L637.5,621.0L637.5,622.1L618.2,611.0L607.7,596.0L619.4,581.0L630.6,566.0L631.3,550.0L636.3,535.0Z" fill="#c6413e" stroke="#c6413e" stroke-width="0.9"/>
<path d="M637.5,542.5L637.5,550.0L637.5,555.3L635.5,566.0L628.5,581.0L614.5,596.0L622.0,611.0L637.5,619.9L637.5,621.0L620.1,611.0L611.1,596.0L624.0,581.0L633.1,566.0L635.2,550.0Z" fill="#c13639" stroke="#c13639" stroke-width="0.9"/>
<path d="M637.5,555.3L637.5,566.0L637.5,568.5L633.0,581.0L617.9,596.0L624.0,611.0L637.5,618.8L637.5,619.9L622.0,611.0L614.5,596.0L628.5,581.0L635.5,566.0Z" fill="#ba2832" stroke="#ba2832" stroke-width="0.9"/>
<path d="M637.5,568.5L637.5,581.0L637.5,581.0L621.2,596.0L625.9,611.0L637.5,617.7L637.5,618.8L624.0,611.0L617.9,596.0L633.0,581.0Z" fill="#b41c2d" stroke="#b41c2d" stroke-width="0.9"/>
<path d="M637.5,581.0L637.5,584.1L624.6,596.0L627.8,611.0L637.5,616.6L637.5,617.7L625.9,611.0L621.2,596.0Z" fill="#ab162a" stroke="#ab162a" stroke-width="0.9"/>
<path d="M637.5,584.1L637.5,587.2L628.0,596.0L629.8,611.0L637.5,615.4L637.5,616.6L627.8,611.0L624.6,596.0Z" fill="#9f1228" stroke="#9f1228" stroke-width="0.9"/>
<path d="M637.5,587.2L637.5,590.4L631.4,596.0L631.7,611.0L637.5,614.3L637.5,615.4L629.8,611.0L628.0,596.0Z" fill="#900d26" stroke="#900d26" stroke-width="0.9"/>
<path d="M637.5,590.4L637.5,593.5L634.8,596.0L633.6,611.0L637.5,613.2L637.5,614.3L631.7,611.0L631.4,596.0Z" fill="#840924" stroke="#840924" stroke-width="0.9"/>
<path d="M637.5,593.5L637.5,596.0L637.5,598.5L635.6,611.0L637.5,612.1L637.5,613.2L633.6,611.0L634.8,596.0Z" fill="#790622" stroke="#790622" stroke-width="0.9"/>
<path d="M637.5,598.5L637.5,611.0L637.5,612.1L635.6,611.0Z" fill="#6d0220" stroke="#6d0220" stroke-width="0.9"/>
</g>
<rect x="475.8" y="519.7" width="161.7" height="153.1" fill="none" stroke="#333" stroke-width="1.1"/>
<line x1="471.8" y1="525.5" x2="475.8" y2="525.5" stroke="#333" stroke-width="1.1"/>
<text x="468.8" y="529.5" font-size="11" fill="#222" text-anchor="end">0.0</text>
<line x1="471.8" y1="556.1" x2="475.8" y2="556.1" stroke="#333" stroke-width="1.1"/>
<text x="468.8" y="560.1" font-size="11" fill="#222" text-anchor="end">0.2</text>
<line x1="471.8" y1="586.7" x2="475.8" y2="586.7" stroke="#333" stroke-width="1.1"/>
<text x="468.8" y="590.7" font-size="11" fill="#222" text-anchor="end">0.4</text>
<line x1="471.8" y1="617.3" x2="475.8" y2="617.3" stroke="#333" stroke-width="1.1"/>
<text x="468.8" y="621.3" font-size="11" fill="#222" text-anchor="end">0.6</text>
<line x1="471.8" y1="647.9" x2="475.8" y2="647.9" stroke="#333" stroke-width="1.1"/>
<text x="468.8" y="651.9" font-size="11" fill="#222" text-anchor="end">0.8</text>
<line x1="482.8" y1="672.8" x2="482.8" y2="676.8" stroke="#333" stroke-width="1.1"/>
<text x="482.8" y="688.5" font-size="11" fill="#222" text-anchor="middle">74</text>
<line x1="508.4" y1="672.8" x2="508.4" y2="676.8" stroke="#333" stroke-width="1.1"/>
<text x="508.4" y="688.5" font-size="11" fill="#222" text-anchor="middle">72</text>
<line x1="534.1" y1="672.8" x2="534.1" y2="676.8" stroke="#333" stroke-width="1.1"/>
<text x="534.1" y="688.5" font-size="11" fill="#222" text-anchor="middle">70</text>
<line x1="559.8" y1="672.8" x2="559.8" y2="676.8" stroke="#333" stroke-width="1.1"/>
<text x="559.8" y="688.5" font-size="11" fill="#222" text-anchor="middle">68</text>
<line x1="585.4" y1="672.8" x2="585.4" y2="676.8" stroke="#333" stroke-width="1.1"/>
<text x="585.4" y="688.5" font-size="11" fill="#222" text-anchor="middle">66</text>
<line x1="611.0" y1="672.8" x2="611.0" y2="676.8" stroke="#333" stroke-width="1.1"/>
<text x="611.0" y="688.5" font-size="11" fill="#222" text-anchor="middle">64</text>
<line x1="636.7" y1="672.8" x2="636.7" y2="676.8" stroke="#333" stroke-width="1.1"/>
<text x="636.7" y="688.5" font-size="11" fill="#222" text-anchor="middle">62</text>
<text x="556.8" y="704.2" font-size="11.5" fill="#222" text-anchor="middle">Tafel slope (mV dec<tspan dy="-4" font-size="7.5">-1</tspan><tspan dy="4">)</tspan></text>
<text x="0" y="0" font-size="11.2" fill="#222" text-anchor="middle" transform="translate(449.2,596.9) rotate(-90)">Potential (V <tspan font-style="italic">vs</tspan> RHE)</text>
<rect x="641.8" y="520.70" width="12.2" height="5.51" fill="#730421"/>
<rect x="641.8" y="525.81" width="12.2" height="5.51" fill="#8a0b25"/>
<rect x="641.8" y="530.91" width="12.2" height="5.51" fill="#a51429"/>
<rect x="641.8" y="536.02" width="12.2" height="5.51" fill="#b72230"/>
<rect x="641.8" y="541.13" width="12.2" height="5.51" fill="#c43b3c"/>
<rect x="641.8" y="546.23" width="12.2" height="5.51" fill="#cf5246"/>
<rect x="641.8" y="551.34" width="12.2" height="5.51" fill="#db6b55"/>
<rect x="641.8" y="556.45" width="12.2" height="5.51" fill="#e48066"/>
<rect x="641.8" y="561.55" width="12.2" height="5.51" fill="#ef9979"/>
<rect x="641.8" y="566.66" width="12.2" height="5.51" fill="#f6af8e"/>
<rect x="641.8" y="571.77" width="12.2" height="5.51" fill="#f8bfa4"/>
<rect x="641.8" y="576.87" width="12.2" height="5.51" fill="#fcd3bc"/>
<rect x="641.8" y="581.98" width="12.2" height="5.51" fill="#fcdfcf"/>
<rect x="641.8" y="587.09" width="12.2" height="5.51" fill="#fae9df"/>
<rect x="641.8" y="592.19" width="12.2" height="5.51" fill="#f8f2ef"/>
<rect x="641.8" y="597.30" width="12.2" height="5.51" fill="#f0f4f6"/>
<rect x="641.8" y="602.41" width="12.2" height="5.51" fill="#e4eef4"/>
<rect x="641.8" y="607.51" width="12.2" height="5.51" fill="#d7e8f1"/>
<rect x="641.8" y="612.62" width="12.2" height="5.51" fill="#c7e0ed"/>
<rect x="641.8" y="617.73" width="12.2" height="5.51" fill="#b1d5e7"/>
<rect x="641.8" y="622.83" width="12.2" height="5.51" fill="#9dcbe1"/>
<rect x="641.8" y="627.94" width="12.2" height="5.51" fill="#84bcd9"/>
<rect x="641.8" y="633.05" width="12.2" height="5.51" fill="#6bacd1"/>
<rect x="641.8" y="638.15" width="12.2" height="5.51" fill="#4f9bc7"/>
<rect x="641.8" y="643.26" width="12.2" height="5.51" fill="#3c8abe"/>
<rect x="641.8" y="648.37" width="12.2" height="5.51" fill="#327cb7"/>
<rect x="641.8" y="653.47" width="12.2" height="5.51" fill="#266caf"/>
<rect x="641.8" y="658.58" width="12.2" height="5.51" fill="#1c5c9f"/>
<rect x="641.8" y="663.69" width="12.2" height="5.51" fill="#124984"/>
<rect x="641.8" y="668.79" width="12.2" height="5.51" fill="#09386d"/>
<rect x="641.8" y="520.7" width="12.2" height="153.2" fill="none" stroke="#333" stroke-width="1"/>
<line x1="654.0" y1="520.7" x2="658.0" y2="520.7" stroke="#777" stroke-width="1"/>
<line x1="654.0" y1="673.9" x2="658.0" y2="673.9" stroke="#777" stroke-width="1"/>
<text x="661.2" y="524.6" font-size="9.3" fill="#222">7x10<tspan dy="-4" font-size="6.5">3</tspan></text>
<text x="661.2" y="677.6" font-size="9.3" fill="#222">2x10<tspan dy="-4" font-size="6.5">3</tspan></text>
<text x="0" y="0" font-size="11.3" fill="#222" text-anchor="middle" transform="translate(674.8,598.2) rotate(-90)">Raman intensity (a.u.)</text>
<line x1="478.2" y1="669.0" x2="619.8" y2="577.1" stroke="#fff" stroke-width="3.8" stroke-dasharray="11.8,9"/>
<path d="M627.3,572.2 L611.2,574.9 L618.9,577.6 L618.3,585.8 Z" fill="#fff"/>
<text x="0" y="0" font-size="12.4" font-weight="bold" fill="#fff" transform="translate(501.3,638.8) rotate(-32)">Size increase</text>
<defs><filter id="temnoise" x="0" y="0" width="100%" height="100%"><feTurbulence type="fractalNoise" baseFrequency="0.5" numOctaves="2" seed="4" result="n"/><feColorMatrix in="n" type="matrix" values="0 0 0 0 0  0 0 0 0 0  0 0 0 0 0  1.6 0 0 0 -0.55" result="m"/><feGaussianBlur in="m" stdDeviation="0.45"/></filter><filter id="temnoise2" x="0" y="0" width="100%" height="100%"><feTurbulence type="fractalNoise" baseFrequency="0.5" numOctaves="2" seed="9" result="n"/><feColorMatrix in="n" type="matrix" values="0 0 0 0 1  0 0 0 0 1  0 0 0 0 1  1.6 0 0 0 -0.6" result="m"/><feGaussianBlur in="m" stdDeviation="0.45"/></filter><filter id="blur06"><feGaussianBlur stdDeviation="0.6"/></filter><filter id="blur2"><feGaussianBlur stdDeviation="2.5"/></filter><clipPath id="bclip"><rect x="453.0" y="15.0" width="194.0" height="114.5"/></clipPath></defs>
<g clip-path="url(#bclip)">
<rect x="453.0" y="15.0" width="194.0" height="114.5" fill="#c6c6c6"/>
<rect x="453.0" y="15.0" width="194.0" height="114.5" filter="url(#temnoise)" opacity="0.45"/>
<rect x="453.0" y="15.0" width="194.0" height="114.5" filter="url(#temnoise2)" opacity="0.6"/>
<defs><clipPath id="pclip"><circle cx="614" cy="-21" r="49"/><path d="M498.2,42.1 L508.4,34.8 L528.8,24.6 L543.4,20.2 L555.1,21.7 L566.8,30.4 L575.5,42.1 L579,52 L581,70 L575,100 L560,116 L546.4,113.6 L531.8,106.4 L520.1,94.7 L508.4,85.9 L498.2,72.8 L497,56.7 Z" stroke-linejoin="round"/><path d="M549.3,77.2 L552,66 L558,58.2 L566,52 L575.5,49.4 L596,48 L608,51 L619.3,56.7 L628,62 L634,68.4 L639,75 L641.2,83 L642.7,100.5 L641.2,121 L636,133 L600,136 L587.2,126.8 L566.8,121 L555.1,109.3 L550.7,94.7 Z" stroke-linejoin="round"/></clipPath></defs>
<g fill="#606060" stroke="#e2e2e2" stroke-width="1.1"><circle cx="614" cy="-21" r="49" fill="#727272"/><path d="M498.2,42.1 L508.4,34.8 L528.8,24.6 L543.4,20.2 L555.1,21.7 L566.8,30.4 L575.5,42.1 L579,52 L581,70 L575,100 L560,116 L546.4,113.6 L531.8,106.4 L520.1,94.7 L508.4,85.9 L498.2,72.8 L497,56.7 Z" stroke-linejoin="round" fill="#808080"/></g>
<g stroke="#cfcfcf" stroke-width="1" stroke-opacity="0.5"><path d="M549.3,77.2 L552,66 L558,58.2 L566,52 L575.5,49.4 L596,48 L608,51 L619.3,56.7 L628,62 L634,68.4 L639,75 L641.2,83 L642.7,100.5 L641.2,121 L636,133 L600,136 L587.2,126.8 L566.8,121 L555.1,109.3 L550.7,94.7 Z" stroke-linejoin="round" fill="#595959" fill-opacity="0.94"/></g>
<g clip-path="url(#pclip)">
<g filter="url(#blur2)" opacity="0.85"><ellipse cx="626" cy="106" rx="12" ry="11" fill="#2a2a2a"/><ellipse cx="608" cy="120" rx="13" ry="8" fill="#2a2a2a"/><ellipse cx="603" cy="72" rx="14" ry="9" fill="#3a3a3a"/><ellipse cx="578" cy="104" rx="9" ry="7" fill="#3c3c3c"/><ellipse cx="630" cy="80" rx="6" ry="8" fill="#363636"/></g>
<rect x="453.0" y="15.0" width="194.0" height="114.5" filter="url(#temnoise)" opacity="0.22"/>
<rect x="453.0" y="15.0" width="194.0" height="114.5" filter="url(#temnoise2)" opacity="0.22"/>
</g>
<g fill="none" stroke="#e6e6e6" stroke-width="1.1" stroke-opacity="0.85"><path d="M549.3,77.2 L552,66 L558,58.2 L566,52 L575.5,49.4 L596,48 L608,51 L619.3,56.7 L628,62 L634,68.4 L639,75 L641.2,83 L642.7,100.5 L641.2,121 L636,133 L600,136 L587.2,126.8 L566.8,121 L555.1,109.3 L550.7,94.7 Z" stroke-linejoin="round"/></g>
</g>
<text x="461.3" y="56.1" font-size="13" fill="#fff" font-weight="bold">SiO<tspan font-size="9" dy="1">2</tspan></text>
<line x1="477" y1="61.5" x2="498" y2="69.9" stroke="#fff" stroke-width="1.5"/>
<path d="M471.5,59.5 L479.5,58.6 L477.3,64.6 Z" fill="#fff"/>
<text x="535.8" y="69.9" font-size="12" fill="#fff" font-weight="bold">Ag</text>
<text x="462.8" y="119.3" font-size="11" fill="#fff" font-weight="bold" letter-spacing="0.5">50 nm</text>
<rect x="458.7" y="122.3" width="41.1" height="2.2" fill="#fff"/>
<defs><clipPath id="cclip"><rect x="452.5" y="137.0" width="194.0" height="113.80000000000001"/></clipPath><radialGradient id="cglow" cx="0.5" cy="0.5" r="0.5"><stop offset="0.62" stop-color="#5a4ff0" stop-opacity="1"/><stop offset="0.75" stop-color="#4a40d8" stop-opacity="0.7"/><stop offset="1" stop-color="#3a2fc0" stop-opacity="0"/></radialGradient><radialGradient id="hot" cx="0.5" cy="0.5" r="0.5"><stop offset="0" stop-color="#ff2000"/><stop offset="0.25" stop-color="#ffa000"/><stop offset="0.45" stop-color="#d0ff30"/><stop offset="0.65" stop-color="#20e0e0"/><stop offset="0.85" stop-color="#2a80ff" stop-opacity="0.7"/><stop offset="1" stop-color="#3a40ff" stop-opacity="0"/></radialGradient><linearGradient id="cbg" x1="0" y1="0" x2="1" y2="0"><stop offset="0" stop-color="#3a2fb0"/><stop offset="0.5" stop-color="#3a30b8"/><stop offset="1" stop-color="#3429a6"/></linearGradient></defs>
<g clip-path="url(#cclip)">
<rect x="452.5" y="137.0" width="194.0" height="113.80000000000001" fill="url(#cbg)"/>
<circle cx="514.0" cy="200.6" r="55" fill="url(#cglow)"/>
<circle cx="586.0" cy="200.6" r="55" fill="url(#cglow)"/>
<ellipse cx="549.6" cy="201" rx="4.2" ry="19" fill="url(#hot)"/>
<defs><linearGradient id="hotarc" x1="0" y1="0" x2="1" y2="0"><stop offset="0" stop-color="#3050ff" stop-opacity="0"/><stop offset="0.12" stop-color="#20c0f0"/><stop offset="0.3" stop-color="#a0ff60"/><stop offset="0.42" stop-color="#ffc000"/><stop offset="0.5" stop-color="#ff2000"/><stop offset="0.58" stop-color="#ffc000"/><stop offset="0.7" stop-color="#a0ff60"/><stop offset="0.88" stop-color="#20c0f0"/><stop offset="1" stop-color="#3050ff" stop-opacity="0"/></linearGradient></defs>
<path d="M535.3,227.9 A34.6,34.6 0 0 1 492.7,227.9" fill="none" stroke="url(#hotarc)" stroke-width="3.6" filter="url(#blur06)"/>
<path d="M607.3,227.9 A34.6,34.6 0 0 1 564.7,227.9" fill="none" stroke="url(#hotarc)" stroke-width="3.6" filter="url(#blur06)"/>
<circle cx="514.0" cy="200.6" r="33.6" fill="#2b2287"/>
<circle cx="586.0" cy="200.6" r="33.6" fill="#2b2287"/>
<rect x="452.5" y="236.6" width="194.0" height="14.2" fill="#2c2392"/>
</g>
<text x="465.5" y="161.6" font-size="11.5" fill="#fff">SiO<tspan font-size="8.5" dy="1">2</tspan><tspan dy="-1"> shell</tspan></text>
<line x1="491.5" y1="175.6" x2="484" y2="166" stroke="#fff" stroke-width="1.4"/>
<path d="M482.2,163.6 L487.6,166.2 L482.9,169.3 Z" fill="#fff"/>
<text x="497.4" y="207.8" font-size="11.5" fill="#fff">Ag core</text>
<text x="504.8" y="248.0" font-size="11.9" fill="#fff">Carbon substrate</text>
<text x="559.0" y="160.8" font-size="11.5" fill="#fff">Laser</text>
<path d="M547.8,147 L551.8,147 L551.8,157 L554.5,157 L549.8,164.3 L545.1,157 L547.8,157 Z" fill="none" stroke="#fff" stroke-width="1.2"/>
<text x="605.0" y="243.6" font-size="11.5" fill="#fff">40 nm</text>
<rect x="607" y="247" width="28" height="2.4" fill="#fff"/>
<defs><linearGradient id="jetg" x1="0" y1="0" x2="0" y2="1"><stop offset="0.00" stop-color="#7f0000"/><stop offset="0.05" stop-color="#b20000"/><stop offset="0.10" stop-color="#e50000"/><stop offset="0.15" stop-color="#ff1900"/><stop offset="0.20" stop-color="#ff4c00"/><stop offset="0.25" stop-color="#ff7f00"/><stop offset="0.30" stop-color="#ffb200"/><stop offset="0.35" stop-color="#ffe500"/><stop offset="0.40" stop-color="#e5ff19"/><stop offset="0.45" stop-color="#b2ff4c"/><stop offset="0.50" stop-color="#7fff7f"/><stop offset="0.55" stop-color="#4cffb2"/><stop offset="0.60" stop-color="#19ffe5"/><stop offset="0.65" stop-color="#00e5ff"/><stop offset="0.70" stop-color="#00b2ff"/><stop offset="0.75" stop-color="#007fff"/><stop offset="0.80" stop-color="#004cff"/><stop offset="0.85" stop-color="#0019ff"/><stop offset="0.90" stop-color="#0000e5"/><stop offset="0.95" stop-color="#0000b2"/><stop offset="1.00" stop-color="#00007f"/></linearGradient></defs>
<rect x="652.0" y="137.4" width="3.4" height="112.4" fill="url(#jetg)"/>
<text x="657.3" y="155.9" font-size="11.5" fill="#222">10</text>
<text x="657.3" y="177.0" font-size="11.5" fill="#222">8</text>
<text x="657.3" y="198.2" font-size="11.5" fill="#222">6</text>
<text x="657.3" y="220.2" font-size="11.5" fill="#222">4</text>
<text x="657.3" y="242.0" font-size="11.5" fill="#222">2</text>
<text x="0" y="0" font-size="12" fill="#222" text-anchor="middle" transform="translate(681.6,198.7) rotate(-90)">log [|E/E0|<tspan dy="-4.5" font-size="8">4</tspan><tspan dy="4.5">]</tspan></text>
<text x="-0.6" y="22.7" font-size="21" fill="#000">a</text>
<text x="432.1" y="22.6" font-size="21" fill="#000">b</text>
<text x="432.3" y="147.0" font-size="21" fill="#000">c</text>
<text x="-0.4" y="290.5" font-size="21" fill="#000">d</text>
<text x="219.3" y="289.9" font-size="21" fill="#000">e</text>
<text x="444.6" y="289.8" font-size="21" fill="#000">f</text>
<text x="-1.0" y="521.5" font-size="21" fill="#000">g</text>
<text x="214.5" y="521.0" font-size="21" fill="#000">h</text>
<text x="439.1" y="520.6" font-size="21" fill="#000">i</text>
</svg>
</body></html>
